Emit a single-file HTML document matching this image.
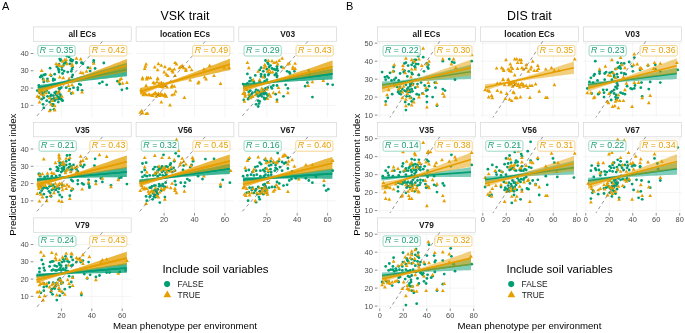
<!DOCTYPE html>
<html><head><meta charset="utf-8"><style>
html,body{margin:0;padding:0;background:#fff;overflow:hidden;}
svg{display:block;filter:blur(0.3px);}
text{font-family:"Liberation Sans", sans-serif;}
</style></head><body>
<svg width="685" height="333" viewBox="0 0 685 333" font-family='"Liberation Sans", sans-serif'><rect x="0" y="0" width="685" height="333" fill="#fff"/><text x="1.90" y="9.60" font-size="11" fill="#000" text-anchor="start" font-weight="normal" font-style="normal" >A</text><text x="185.00" y="19.60" font-size="12.4" fill="#000" text-anchor="middle" font-weight="normal" font-style="normal" >VSK trait</text><text x="185.00" y="329.00" font-size="9.65" fill="#000" text-anchor="middle" font-weight="normal" font-style="normal" >Mean phenotype per environment</text><text x="16.30" y="174.70" font-size="9.65" fill="#000" text-anchor="middle" font-weight="normal" font-style="normal" transform="rotate(-90 16.30 174.70)">Predicted environment index</text><rect x="33.40" y="26.90" width="97.80" height="14.40" fill="#fff" stroke="#D6D6D6" stroke-width="0.7"/><text transform="translate(82.30 37.10)" font-size="8.3" fill="#1A1A1A" text-anchor="middle" font-weight="bold">all ECs</text><clipPath id="cA00"><rect x="33.30" y="41.30" width="98.00" height="76.20"/></clipPath><line x1="61.40" y1="41.30" x2="61.40" y2="117.50" stroke="#EBEBEB" stroke-width="0.55"/><line x1="91.80" y1="41.30" x2="91.80" y2="117.50" stroke="#EBEBEB" stroke-width="0.55"/><line x1="122.20" y1="41.30" x2="122.20" y2="117.50" stroke="#EBEBEB" stroke-width="0.55"/><line x1="33.30" y1="105.35" x2="131.30" y2="105.35" stroke="#EBEBEB" stroke-width="0.55"/><line x1="33.30" y1="88.07" x2="131.30" y2="88.07" stroke="#EBEBEB" stroke-width="0.55"/><line x1="33.30" y1="70.79" x2="131.30" y2="70.79" stroke="#EBEBEB" stroke-width="0.55"/><line x1="33.30" y1="53.51" x2="131.30" y2="53.51" stroke="#EBEBEB" stroke-width="0.55"/><line x1="30.70" y1="105.35" x2="33.30" y2="105.35" stroke="#333" stroke-width="0.55"/><text x="28.80" y="107.95" font-size="7.5" fill="#4D4D4D" text-anchor="end" font-weight="normal" font-style="normal" >10</text><line x1="30.70" y1="88.07" x2="33.30" y2="88.07" stroke="#333" stroke-width="0.55"/><text x="28.80" y="90.67" font-size="7.5" fill="#4D4D4D" text-anchor="end" font-weight="normal" font-style="normal" >20</text><line x1="30.70" y1="70.79" x2="33.30" y2="70.79" stroke="#333" stroke-width="0.55"/><text x="28.80" y="73.39" font-size="7.5" fill="#4D4D4D" text-anchor="end" font-weight="normal" font-style="normal" >30</text><line x1="30.70" y1="53.51" x2="33.30" y2="53.51" stroke="#333" stroke-width="0.55"/><text x="28.80" y="56.11" font-size="7.5" fill="#4D4D4D" text-anchor="end" font-weight="normal" font-style="normal" >40</text><g clip-path="url(#cA00)"><circle cx="67.0" cy="56.2" r="1.4" fill="#009E73"/><circle cx="69.1" cy="56.9" r="1.4" fill="#009E73"/><circle cx="59.7" cy="59.1" r="1.4" fill="#009E73"/><circle cx="60.5" cy="60.5" r="1.4" fill="#009E73"/><circle cx="65.5" cy="62.4" r="1.4" fill="#009E73"/><circle cx="64.1" cy="63.4" r="1.4" fill="#009E73"/><circle cx="59.0" cy="64.1" r="1.4" fill="#009E73"/><circle cx="70.6" cy="60.5" r="1.4" fill="#009E73"/><circle cx="72.0" cy="61.2" r="1.4" fill="#009E73"/><circle cx="76.4" cy="62.4" r="1.4" fill="#009E73"/><circle cx="82.1" cy="63.0" r="1.4" fill="#009E73"/><circle cx="82.9" cy="63.8" r="1.4" fill="#009E73"/><circle cx="93.7" cy="60.5" r="1.4" fill="#009E73"/><circle cx="93.7" cy="62.4" r="1.4" fill="#009E73"/><circle cx="103.8" cy="63.0" r="1.4" fill="#009E73"/><circle cx="50.1" cy="68.2" r="1.4" fill="#009E73"/><circle cx="58.3" cy="68.7" r="1.4" fill="#009E73"/><circle cx="61.9" cy="69.6" r="1.4" fill="#009E73"/><circle cx="72.0" cy="69.2" r="1.4" fill="#009E73"/><circle cx="72.7" cy="67.0" r="1.4" fill="#009E73"/><circle cx="71.3" cy="71.3" r="1.4" fill="#009E73"/><circle cx="67.7" cy="72.1" r="1.4" fill="#009E73"/><circle cx="62.6" cy="73.5" r="1.4" fill="#009E73"/><circle cx="59.0" cy="72.1" r="1.4" fill="#009E73"/><circle cx="54.7" cy="74.2" r="1.4" fill="#009E73"/><circle cx="51.1" cy="75.7" r="1.4" fill="#009E73"/><circle cx="43.8" cy="75.0" r="1.4" fill="#009E73"/><circle cx="41.7" cy="76.4" r="1.4" fill="#009E73"/><circle cx="40.2" cy="77.1" r="1.4" fill="#009E73"/><circle cx="87.9" cy="67.7" r="1.4" fill="#009E73"/><circle cx="95.1" cy="68.5" r="1.4" fill="#009E73"/><circle cx="90.1" cy="71.1" r="1.4" fill="#009E73"/><circle cx="72.7" cy="75.0" r="1.4" fill="#009E73"/><circle cx="72.0" cy="77.1" r="1.4" fill="#009E73"/><circle cx="53.2" cy="78.9" r="1.4" fill="#009E73"/><circle cx="47.5" cy="78.9" r="1.4" fill="#009E73"/><circle cx="43.1" cy="78.9" r="1.4" fill="#009E73"/><circle cx="43.8" cy="81.9" r="1.4" fill="#009E73"/><circle cx="47.5" cy="81.2" r="1.4" fill="#009E73"/><circle cx="53.2" cy="80.4" r="1.4" fill="#009E73"/><circle cx="54.7" cy="79.7" r="1.4" fill="#009E73"/><circle cx="38.8" cy="85.5" r="1.4" fill="#009E73"/><circle cx="37.3" cy="90.6" r="1.4" fill="#009E73"/><circle cx="39.5" cy="92.7" r="1.4" fill="#009E73"/><circle cx="44.6" cy="92.0" r="1.4" fill="#009E73"/><circle cx="43.1" cy="95.6" r="1.4" fill="#009E73"/><circle cx="43.8" cy="97.8" r="1.4" fill="#009E73"/><circle cx="46.7" cy="100.7" r="1.4" fill="#009E73"/><circle cx="43.1" cy="104.3" r="1.4" fill="#009E73"/><circle cx="43.8" cy="107.9" r="1.4" fill="#009E73"/><circle cx="50.3" cy="96.3" r="1.4" fill="#009E73"/><circle cx="53.2" cy="95.6" r="1.4" fill="#009E73"/><circle cx="55.4" cy="93.5" r="1.4" fill="#009E73"/><circle cx="56.1" cy="92.0" r="1.4" fill="#009E73"/><circle cx="59.0" cy="93.5" r="1.4" fill="#009E73"/><circle cx="60.5" cy="94.9" r="1.4" fill="#009E73"/><circle cx="58.3" cy="97.1" r="1.4" fill="#009E73"/><circle cx="54.0" cy="98.5" r="1.4" fill="#009E73"/><circle cx="51.8" cy="99.2" r="1.4" fill="#009E73"/><circle cx="56.1" cy="99.2" r="1.4" fill="#009E73"/><circle cx="59.7" cy="98.5" r="1.4" fill="#009E73"/><circle cx="61.2" cy="99.2" r="1.4" fill="#009E73"/><circle cx="62.6" cy="100.7" r="1.4" fill="#009E73"/><circle cx="58.3" cy="102.1" r="1.4" fill="#009E73"/><circle cx="53.2" cy="104.3" r="1.4" fill="#009E73"/><circle cx="52.5" cy="105.7" r="1.4" fill="#009E73"/><circle cx="50.3" cy="110.1" r="1.4" fill="#009E73"/><circle cx="54.0" cy="109.3" r="1.4" fill="#009E73"/><circle cx="59.0" cy="88.4" r="1.4" fill="#009E73"/><circle cx="59.7" cy="89.1" r="1.4" fill="#009E73"/><circle cx="61.2" cy="87.7" r="1.4" fill="#009E73"/><circle cx="66.2" cy="87.7" r="1.4" fill="#009E73"/><circle cx="69.8" cy="89.1" r="1.4" fill="#009E73"/><circle cx="73.5" cy="87.7" r="1.4" fill="#009E73"/><circle cx="77.8" cy="87.7" r="1.4" fill="#009E73"/><circle cx="77.8" cy="89.8" r="1.4" fill="#009E73"/><circle cx="82.1" cy="90.3" r="1.4" fill="#009E73"/><circle cx="71.3" cy="93.5" r="1.4" fill="#009E73"/><circle cx="79.2" cy="84.1" r="1.4" fill="#009E73"/><circle cx="80.7" cy="84.8" r="1.4" fill="#009E73"/><circle cx="99.5" cy="83.3" r="1.4" fill="#009E73"/><circle cx="102.4" cy="81.9" r="1.4" fill="#009E73"/><circle cx="106.7" cy="84.8" r="1.4" fill="#009E73"/><circle cx="117.5" cy="81.2" r="1.4" fill="#009E73"/><circle cx="119.7" cy="84.1" r="1.4" fill="#009E73"/><circle cx="121.9" cy="89.8" r="1.4" fill="#009E73"/><circle cx="126.9" cy="88.4" r="1.4" fill="#009E73"/><circle cx="38.8" cy="97.1" r="1.4" fill="#009E73"/><circle cx="60.5" cy="59.5" r="1.4" fill="#009E73"/><circle cx="65.9" cy="63.0" r="1.4" fill="#009E73"/><circle cx="63.3" cy="65.6" r="1.4" fill="#009E73"/><circle cx="61.9" cy="67.0" r="1.4" fill="#009E73"/><circle cx="58.7" cy="69.9" r="1.4" fill="#009E73"/><circle cx="70.9" cy="59.5" r="1.4" fill="#009E73"/><circle cx="72.7" cy="60.1" r="1.4" fill="#009E73"/><circle cx="81.4" cy="62.7" r="1.4" fill="#009E73"/><circle cx="69.8" cy="63.8" r="1.4" fill="#009E73"/><circle cx="76.4" cy="63.0" r="1.4" fill="#009E73"/><circle cx="41.4" cy="75.7" r="1.4" fill="#009E73"/><circle cx="45.3" cy="74.5" r="1.4" fill="#009E73"/><circle cx="56.8" cy="66.7" r="1.4" fill="#009E73"/><circle cx="64.1" cy="71.1" r="1.4" fill="#009E73"/><circle cx="41.7" cy="91.3" r="1.4" fill="#009E73"/><circle cx="46.7" cy="90.6" r="1.4" fill="#009E73"/><circle cx="42.4" cy="93.5" r="1.4" fill="#009E73"/><circle cx="48.9" cy="92.7" r="1.4" fill="#009E73"/><circle cx="47.5" cy="96.3" r="1.4" fill="#009E73"/><circle cx="51.1" cy="94.9" r="1.4" fill="#009E73"/><circle cx="54.7" cy="92.7" r="1.4" fill="#009E73"/><circle cx="56.8" cy="95.6" r="1.4" fill="#009E73"/><circle cx="60.5" cy="97.1" r="1.4" fill="#009E73"/><circle cx="61.9" cy="100.0" r="1.4" fill="#009E73"/><circle cx="58.3" cy="99.2" r="1.4" fill="#009E73"/><circle cx="54.7" cy="100.7" r="1.4" fill="#009E73"/><circle cx="49.6" cy="102.1" r="1.4" fill="#009E73"/><circle cx="51.8" cy="104.3" r="1.4" fill="#009E73"/><circle cx="41.7" cy="99.2" r="1.4" fill="#009E73"/><path d="M56.1 61.8L58.0 65.3L54.2 65.3Z" fill="#E69F00"/><path d="M59.7 63.6L61.6 67.0L57.8 67.0Z" fill="#E69F00"/><path d="M62.6 63.9L64.5 67.3L60.7 67.3Z" fill="#E69F00"/><path d="M66.2 57.8L68.1 61.2L64.3 61.2Z" fill="#E69F00"/><path d="M76.4 56.3L78.3 59.8L74.5 59.8Z" fill="#E69F00"/><path d="M80.7 57.1L82.6 60.5L78.8 60.5Z" fill="#E69F00"/><path d="M93.7 61.4L95.6 64.8L91.8 64.8Z" fill="#E69F00"/><path d="M41.7 68.6L43.6 72.1L39.8 72.1Z" fill="#E69F00"/><path d="M50.3 72.5L52.2 76.0L48.4 76.0Z" fill="#E69F00"/><path d="M59.7 75.1L61.6 78.6L57.8 78.6Z" fill="#E69F00"/><path d="M63.3 75.8L65.2 79.3L61.4 79.3Z" fill="#E69F00"/><path d="M69.1 76.6L71.0 80.0L67.2 80.0Z" fill="#E69F00"/><path d="M80.7 70.5L82.6 73.9L78.8 73.9Z" fill="#E69F00"/><path d="M82.9 71.1L84.8 74.5L81.0 74.5Z" fill="#E69F00"/><path d="M86.5 69.3L88.4 72.8L84.6 72.8Z" fill="#E69F00"/><path d="M90.1 65.7L92.0 69.2L88.2 69.2Z" fill="#E69F00"/><path d="M72.0 63.6L73.9 67.0L70.1 67.0Z" fill="#E69F00"/><path d="M62.6 59.2L64.5 62.7L60.7 62.7Z" fill="#E69F00"/><path d="M121.2 76.6L123.1 80.0L119.3 80.0Z" fill="#E69F00"/><path d="M43.8 77.7L45.7 81.2L41.9 81.2Z" fill="#E69F00"/><path d="M48.2 78.4L50.1 81.9L46.3 81.9Z" fill="#E69F00"/><path d="M68.4 83.5L70.3 86.9L66.5 86.9Z" fill="#E69F00"/><path d="M72.0 82.8L73.9 86.2L70.1 86.2Z" fill="#E69F00"/><path d="M37.3 94.3L39.2 97.8L35.4 97.8Z" fill="#E69F00"/><path d="M39.5 95.8L41.4 99.2L37.6 99.2Z" fill="#E69F00"/><path d="M39.5 100.1L41.4 103.6L37.6 103.6Z" fill="#E69F00"/><path d="M46.0 90.7L47.9 94.2L44.1 94.2Z" fill="#E69F00"/><path d="M49.6 95.8L51.5 99.2L47.7 99.2Z" fill="#E69F00"/><path d="M51.1 102.3L53.0 105.7L49.2 105.7Z" fill="#E69F00"/><path d="M54.7 103.7L56.6 107.2L52.8 107.2Z" fill="#E69F00"/><path d="M57.6 90.7L59.5 94.2L55.7 94.2Z" fill="#E69F00"/><path d="M59.0 89.3L60.9 92.7L57.1 92.7Z" fill="#E69F00"/><path d="M49.6 108.8L51.5 112.2L47.7 112.2Z" fill="#E69F00"/><path d="M54.7 108.1L56.6 111.5L52.8 111.5Z" fill="#E69F00"/><path d="M72.7 90.7L74.6 94.2L70.8 94.2Z" fill="#E69F00"/><path d="M82.1 90.0L84.0 93.4L80.2 93.4Z" fill="#E69F00"/><path d="M119.7 77.7L121.6 81.2L117.8 81.2Z" fill="#E69F00"/><path d="M126.9 80.6L128.8 84.1L125.0 84.1Z" fill="#E69F00"/><path d="M119.0 79.9L120.9 83.3L117.1 83.3Z" fill="#E69F00"/><path d="M122.6 81.3L124.5 84.8L120.7 84.8Z" fill="#E69F00"/><path d="M69.1 88.6L71.0 92.0L67.2 92.0Z" fill="#E69F00"/><path d="M58.3 62.8L60.2 66.3L56.4 66.3Z" fill="#E69F00"/><path d="M64.8 57.8L66.7 61.2L62.9 61.2Z" fill="#E69F00"/><path d="M72.0 62.1L73.9 65.6L70.1 65.6Z" fill="#E69F00"/><path d="M67.0 61.8L68.9 65.3L65.1 65.3Z" fill="#E69F00"/><path d="M40.9 92.2L42.8 95.6L39.0 95.6Z" fill="#E69F00"/><path d="M43.8 92.9L45.7 96.3L41.9 96.3Z" fill="#E69F00"/><path d="M52.5 98.7L54.4 102.1L50.6 102.1Z" fill="#E69F00"/><path d="M56.1 95.8L58.0 99.2L54.2 99.2Z" fill="#E69F00"/><path d="M61.9 94.3L63.8 97.8L60.0 97.8Z" fill="#E69F00"/><line x1="15.80" y1="139.91" x2="213.40" y2="-84.73" stroke="#595959" stroke-width="0.65" stroke-dasharray="3.3 3.1"/><path d="M37.90 85.20L41.61 84.71L45.32 84.19L49.02 83.65L52.73 83.07L56.44 82.43L60.15 81.72L63.86 80.94L67.57 80.07L71.28 79.13L74.98 78.14L78.69 77.11L82.40 76.05L86.11 74.98L89.82 73.90L93.53 72.81L97.23 71.71L100.94 70.61L104.65 69.50L108.36 68.39L112.07 67.27L115.77 66.16L119.48 65.04L123.19 63.92L126.90 62.80L126.90 76.20L123.19 76.60L119.48 77.01L115.77 77.42L112.07 77.83L108.36 78.24L104.65 78.65L100.94 79.07L97.23 79.49L93.53 79.92L89.82 80.35L86.11 80.79L82.40 81.25L78.69 81.72L74.98 82.21L71.28 82.75L67.57 83.33L63.86 83.99L60.15 84.73L56.44 85.55L52.73 86.43L49.02 87.37L45.32 88.36L41.61 89.37L37.90 90.40Z" fill="#009E73" fill-opacity="0.5"/><line x1="37.90" y1="87.80" x2="126.90" y2="69.50" stroke="#009E73" stroke-width="1.6"/><path d="M37.90 88.10L41.61 87.43L45.32 86.74L49.02 86.02L52.73 85.26L56.44 84.43L60.15 83.47L63.86 82.38L67.57 81.19L71.28 79.93L74.98 78.62L78.69 77.27L82.40 75.91L86.11 74.54L89.82 73.15L93.53 71.76L97.23 70.36L100.94 68.96L104.65 67.56L108.36 66.15L112.07 64.74L115.77 63.33L119.48 61.92L123.19 60.51L126.90 59.10L126.90 71.70L123.19 72.43L119.48 73.16L115.77 73.89L112.07 74.62L108.36 75.36L104.65 76.09L100.94 76.83L97.23 77.57L93.53 78.32L89.82 79.07L86.11 79.82L82.40 80.59L78.69 81.37L74.98 82.17L71.28 83.00L67.57 83.88L63.86 84.83L60.15 85.88L56.44 87.06L52.73 88.37L49.02 89.75L45.32 91.18L41.61 92.63L37.90 94.10Z" fill="#E69F00" fill-opacity="0.5"/><line x1="37.90" y1="91.10" x2="126.90" y2="65.40" stroke="#E69F00" stroke-width="1.6"/><path d="M37.90 85.20L41.61 84.71L45.32 84.19L49.02 83.65L52.73 83.07L56.44 82.43L60.15 81.72L63.86 80.94L67.57 80.07L71.28 79.13L74.98 78.14L78.69 77.11L82.40 76.05L86.11 74.98L89.82 73.90L93.53 72.81L97.23 71.71L100.94 70.61L104.65 69.50L108.36 68.39L112.07 67.27L115.77 66.16L119.48 65.04L123.19 63.92L126.90 62.80L126.90 76.20L123.19 76.60L119.48 77.01L115.77 77.42L112.07 77.83L108.36 78.24L104.65 78.65L100.94 79.07L97.23 79.49L93.53 79.92L89.82 80.35L86.11 80.79L82.40 81.25L78.69 81.72L74.98 82.21L71.28 82.75L67.57 83.33L63.86 83.99L60.15 84.73L56.44 85.55L52.73 86.43L49.02 87.37L45.32 88.36L41.61 89.37L37.90 90.40Z" fill="#009E73" fill-opacity="0.5"/><line x1="37.90" y1="87.80" x2="126.90" y2="69.50" stroke="#009E73" stroke-width="1.6"/><path d="M37.90 88.10L41.61 87.43L45.32 86.74L49.02 86.02L52.73 85.26L56.44 84.43L60.15 83.47L63.86 82.38L67.57 81.19L71.28 79.93L74.98 78.62L78.69 77.27L82.40 75.91L86.11 74.54L89.82 73.15L93.53 71.76L97.23 70.36L100.94 68.96L104.65 67.56L108.36 66.15L112.07 64.74L115.77 63.33L119.48 61.92L123.19 60.51L126.90 59.10L126.90 71.70L123.19 72.43L119.48 73.16L115.77 73.89L112.07 74.62L108.36 75.36L104.65 76.09L100.94 76.83L97.23 77.57L93.53 78.32L89.82 79.07L86.11 79.82L82.40 80.59L78.69 81.37L74.98 82.17L71.28 83.00L67.57 83.88L63.86 84.83L60.15 85.88L56.44 87.06L52.73 88.37L49.02 89.75L45.32 91.18L41.61 92.63L37.90 94.10Z" fill="#E69F00" fill-opacity="0.5"/><line x1="37.90" y1="91.10" x2="126.90" y2="65.40" stroke="#E69F00" stroke-width="1.6"/></g><rect x="37.85" y="45.50" width="37.2" height="10.5" rx="1.8" fill="#fff" fill-opacity="0.8" stroke="#7CCBB2" stroke-width="0.75"/><text x="39.85" y="52.60" font-size="8.8" fill="#1B9E77" ><tspan font-style="italic">R</tspan> = 0.35</text><rect x="89.65" y="45.50" width="37.2" height="10.5" rx="1.8" fill="#fff" fill-opacity="0.8" stroke="#F0C870" stroke-width="0.75"/><text x="91.65" y="52.60" font-size="8.8" fill="#E69F00" ><tspan font-style="italic">R</tspan> = 0.42</text><rect x="136.10" y="26.90" width="97.80" height="14.40" fill="#fff" stroke="#D6D6D6" stroke-width="0.7"/><text transform="translate(185.00 37.10)" font-size="8.3" fill="#1A1A1A" text-anchor="middle" font-weight="bold">location ECs</text><clipPath id="cA10"><rect x="136.00" y="41.30" width="98.00" height="76.20"/></clipPath><line x1="164.10" y1="41.30" x2="164.10" y2="117.50" stroke="#EBEBEB" stroke-width="0.55"/><line x1="194.50" y1="41.30" x2="194.50" y2="117.50" stroke="#EBEBEB" stroke-width="0.55"/><line x1="224.90" y1="41.30" x2="224.90" y2="117.50" stroke="#EBEBEB" stroke-width="0.55"/><line x1="136.00" y1="105.35" x2="234.00" y2="105.35" stroke="#EBEBEB" stroke-width="0.55"/><line x1="136.00" y1="88.07" x2="234.00" y2="88.07" stroke="#EBEBEB" stroke-width="0.55"/><line x1="136.00" y1="70.79" x2="234.00" y2="70.79" stroke="#EBEBEB" stroke-width="0.55"/><line x1="136.00" y1="53.51" x2="234.00" y2="53.51" stroke="#EBEBEB" stroke-width="0.55"/><g clip-path="url(#cA10)"><path d="M146.1 62.1L148.0 65.6L144.2 65.6Z" fill="#E69F00"/><path d="M145.4 64.3L147.3 67.7L143.5 67.7Z" fill="#E69F00"/><path d="M144.7 66.5L146.6 69.9L142.8 69.9Z" fill="#E69F00"/><path d="M154.8 65.0L156.7 68.5L152.9 68.5Z" fill="#E69F00"/><path d="M158.4 61.8L160.3 65.3L156.5 65.3Z" fill="#E69F00"/><path d="M161.3 63.3L163.2 66.7L159.4 66.7Z" fill="#E69F00"/><path d="M164.9 64.7L166.8 68.2L163.0 68.2Z" fill="#E69F00"/><path d="M157.7 67.9L159.6 71.3L155.8 71.3Z" fill="#E69F00"/><path d="M164.2 70.1L166.1 73.5L162.3 73.5Z" fill="#E69F00"/><path d="M166.3 72.2L168.2 75.7L164.4 75.7Z" fill="#E69F00"/><path d="M167.8 73.7L169.7 77.1L165.9 77.1Z" fill="#E69F00"/><path d="M168.5 67.2L170.4 70.6L166.6 70.6Z" fill="#E69F00"/><path d="M170.0 66.5L171.9 69.9L168.1 69.9Z" fill="#E69F00"/><path d="M172.1 68.6L174.0 72.1L170.2 72.1Z" fill="#E69F00"/><path d="M172.8 70.1L174.7 73.5L170.9 73.5Z" fill="#E69F00"/><path d="M174.3 67.2L176.2 70.6L172.4 70.6Z" fill="#E69F00"/><path d="M175.0 60.7L176.9 64.1L173.1 64.1Z" fill="#E69F00"/><path d="M176.5 62.1L178.4 65.6L174.6 65.6Z" fill="#E69F00"/><path d="M175.0 73.7L176.9 77.1L173.1 77.1Z" fill="#E69F00"/><path d="M179.4 65.7L181.3 69.2L177.5 69.2Z" fill="#E69F00"/><path d="M180.8 64.7L182.7 68.2L178.9 68.2Z" fill="#E69F00"/><path d="M182.2 63.6L184.1 67.0L180.3 67.0Z" fill="#E69F00"/><path d="M183.7 65.7L185.6 69.2L181.8 69.2Z" fill="#E69F00"/><path d="M185.9 67.2L187.8 70.6L184.0 70.6Z" fill="#E69F00"/><path d="M185.9 68.6L187.8 72.1L184.0 72.1Z" fill="#E69F00"/><path d="M189.5 64.7L191.4 68.2L187.6 68.2Z" fill="#E69F00"/><path d="M191.6 67.9L193.5 71.3L189.7 71.3Z" fill="#E69F00"/><path d="M142.5 75.8L144.4 79.3L140.6 79.3Z" fill="#E69F00"/><path d="M146.8 75.4L148.7 78.9L144.9 78.9Z" fill="#E69F00"/><path d="M148.3 75.8L150.2 79.3L146.4 79.3Z" fill="#E69F00"/><path d="M150.5 75.8L152.4 79.3L148.6 79.3Z" fill="#E69F00"/><path d="M157.7 76.3L159.6 79.7L155.8 79.7Z" fill="#E69F00"/><path d="M209.7 63.6L211.6 67.0L207.8 67.0Z" fill="#E69F00"/><path d="M214.0 73.7L215.9 77.1L212.1 77.1Z" fill="#E69F00"/><path d="M203.9 67.2L205.8 70.6L202.0 70.6Z" fill="#E69F00"/><path d="M229.2 65.7L231.1 69.2L227.3 69.2Z" fill="#E69F00"/><path d="M224.2 65.7L226.1 69.2L222.3 69.2Z" fill="#E69F00"/><path d="M204.6 75.1L206.5 78.6L202.7 78.6Z" fill="#E69F00"/><path d="M142.5 77.0L144.4 80.4L140.6 80.4Z" fill="#E69F00"/><path d="M146.8 77.0L148.7 80.4L144.9 80.4Z" fill="#E69F00"/><path d="M157.7 77.0L159.6 80.4L155.8 80.4Z" fill="#E69F00"/><path d="M153.3 80.6L155.2 84.1L151.4 84.1Z" fill="#E69F00"/><path d="M154.8 81.3L156.7 84.8L152.9 84.8Z" fill="#E69F00"/><path d="M157.0 79.9L158.9 83.3L155.1 83.3Z" fill="#E69F00"/><path d="M159.1 81.3L161.0 84.8L157.2 84.8Z" fill="#E69F00"/><path d="M161.3 80.6L163.2 84.1L159.4 84.1Z" fill="#E69F00"/><path d="M162.7 82.1L164.6 85.5L160.8 85.5Z" fill="#E69F00"/><path d="M164.9 83.5L166.8 86.9L163.0 86.9Z" fill="#E69F00"/><path d="M167.1 84.9L169.0 88.4L165.2 88.4Z" fill="#E69F00"/><path d="M146.1 83.5L148.0 86.9L144.2 86.9Z" fill="#E69F00"/><path d="M141.1 87.8L143.0 91.3L139.2 91.3Z" fill="#E69F00"/><path d="M141.8 90.0L143.7 93.4L139.9 93.4Z" fill="#E69F00"/><path d="M143.9 91.5L145.8 94.9L142.0 94.9Z" fill="#E69F00"/><path d="M145.4 92.2L147.3 95.6L143.5 95.6Z" fill="#E69F00"/><path d="M146.8 92.9L148.7 96.3L144.9 96.3Z" fill="#E69F00"/><path d="M149.7 92.9L151.6 96.3L147.8 96.3Z" fill="#E69F00"/><path d="M153.3 92.2L155.2 95.6L151.4 95.6Z" fill="#E69F00"/><path d="M155.5 90.7L157.4 94.2L153.6 94.2Z" fill="#E69F00"/><path d="M157.0 92.2L158.9 95.6L155.1 95.6Z" fill="#E69F00"/><path d="M159.1 92.9L161.0 96.3L157.2 96.3Z" fill="#E69F00"/><path d="M160.6 91.5L162.5 94.9L158.7 94.9Z" fill="#E69F00"/><path d="M162.0 92.6L163.9 96.0L160.1 96.0Z" fill="#E69F00"/><path d="M164.2 93.6L166.1 97.1L162.3 97.1Z" fill="#E69F00"/><path d="M165.6 94.1L167.5 97.5L163.7 97.5Z" fill="#E69F00"/><path d="M156.2 94.3L158.1 97.8L154.3 97.8Z" fill="#E69F00"/><path d="M172.1 92.9L174.0 96.3L170.2 96.3Z" fill="#E69F00"/><path d="M174.3 92.2L176.2 95.6L172.4 95.6Z" fill="#E69F00"/><path d="M175.7 89.3L177.6 92.7L173.8 92.7Z" fill="#E69F00"/><path d="M172.1 83.5L174.0 86.9L170.2 86.9Z" fill="#E69F00"/><path d="M174.3 84.2L176.2 87.7L172.4 87.7Z" fill="#E69F00"/><path d="M171.4 84.9L173.3 88.4L169.5 88.4Z" fill="#E69F00"/><path d="M161.3 100.1L163.2 103.6L159.4 103.6Z" fill="#E69F00"/><path d="M170.0 103.0L171.9 106.5L168.1 106.5Z" fill="#E69F00"/><path d="M184.4 95.5L186.3 98.9L182.5 98.9Z" fill="#E69F00"/><path d="M190.2 78.2L192.1 81.6L188.3 81.6Z" fill="#E69F00"/><path d="M198.1 81.0L200.0 84.5L196.2 84.5Z" fill="#E69F00"/><path d="M198.9 79.9L200.8 83.3L197.0 83.3Z" fill="#E69F00"/><path d="M206.1 77.0L208.0 80.4L204.2 80.4Z" fill="#E69F00"/><path d="M220.5 81.6L222.4 85.1L218.6 85.1Z" fill="#E69F00"/><path d="M141.8 108.8L143.7 112.2L139.9 112.2Z" fill="#E69F00"/><path d="M140.3 110.2L142.2 113.7L138.4 113.7Z" fill="#E69F00"/><path d="M142.5 111.0L144.4 114.4L140.6 114.4Z" fill="#E69F00"/><path d="M146.1 111.7L148.0 115.1L144.2 115.1Z" fill="#E69F00"/><path d="M147.6 111.4L149.5 114.8L145.7 114.8Z" fill="#E69F00"/><path d="M161.2 82.4L163.1 85.8L159.3 85.8Z" fill="#E69F00"/><path d="M162.6 83.8L164.5 87.2L160.7 87.2Z" fill="#E69F00"/><path d="M163.0 85.1L164.9 88.5L161.1 88.5Z" fill="#E69F00"/><path d="M160.8 84.7L162.7 88.1L158.9 88.1Z" fill="#E69F00"/><path d="M163.5 81.5L165.4 84.9L161.6 84.9Z" fill="#E69F00"/><path d="M158.5 84.2L160.4 87.6L156.6 87.6Z" fill="#E69F00"/><path d="M143.2 92.9L145.1 96.3L141.3 96.3Z" fill="#E69F00"/><path d="M144.7 91.5L146.6 94.9L142.8 94.9Z" fill="#E69F00"/><path d="M149.0 92.2L150.9 95.6L147.1 95.6Z" fill="#E69F00"/><path d="M151.2 93.2L153.1 96.6L149.3 96.6Z" fill="#E69F00"/><path d="M154.8 91.5L156.7 94.9L152.9 94.9Z" fill="#E69F00"/><path d="M158.4 91.5L160.3 94.9L156.5 94.9Z" fill="#E69F00"/><path d="M159.8 93.6L161.7 97.1L157.9 97.1Z" fill="#E69F00"/><path d="M162.7 93.2L164.6 96.6L160.8 96.6Z" fill="#E69F00"/><path d="M164.9 92.2L166.8 95.6L163.0 95.6Z" fill="#E69F00"/><path d="M166.3 94.3L168.2 97.8L164.4 97.8Z" fill="#E69F00"/><path d="M152.6 93.6L154.5 97.1L150.7 97.1Z" fill="#E69F00"/><line x1="118.50" y1="139.91" x2="316.10" y2="-84.73" stroke="#595959" stroke-width="0.65" stroke-dasharray="3.3 3.1"/><path d="M140.30 87.90L144.04 87.28L147.78 86.65L151.51 85.98L155.25 85.25L158.99 84.42L162.72 83.40L166.46 82.23L170.20 81.00L173.94 79.71L177.68 78.39L181.41 77.04L185.15 75.67L188.89 74.28L192.62 72.89L196.36 71.48L200.10 70.07L203.84 68.66L207.57 67.24L211.31 65.82L215.05 64.40L218.79 62.98L222.53 61.55L226.26 60.13L230.00 58.70L230.00 69.90L226.26 70.74L222.53 71.58L218.79 72.42L215.05 73.26L211.31 74.11L207.57 74.96L203.84 75.81L200.10 76.66L196.36 77.52L192.62 78.38L188.89 79.25L185.15 80.13L181.41 81.03L177.68 81.94L173.94 82.89L170.20 83.87L166.46 84.90L162.72 86.00L158.99 87.25L155.25 88.68L151.51 90.22L147.78 91.82L144.04 93.45L140.30 95.10Z" fill="#E69F00" fill-opacity="0.5"/><line x1="140.30" y1="91.50" x2="230.00" y2="64.30" stroke="#E69F00" stroke-width="1.6"/><path d="M140.30 87.90L144.04 87.28L147.78 86.65L151.51 85.98L155.25 85.25L158.99 84.42L162.72 83.40L166.46 82.23L170.20 81.00L173.94 79.71L177.68 78.39L181.41 77.04L185.15 75.67L188.89 74.28L192.62 72.89L196.36 71.48L200.10 70.07L203.84 68.66L207.57 67.24L211.31 65.82L215.05 64.40L218.79 62.98L222.53 61.55L226.26 60.13L230.00 58.70L230.00 69.90L226.26 70.74L222.53 71.58L218.79 72.42L215.05 73.26L211.31 74.11L207.57 74.96L203.84 75.81L200.10 76.66L196.36 77.52L192.62 78.38L188.89 79.25L185.15 80.13L181.41 81.03L177.68 81.94L173.94 82.89L170.20 83.87L166.46 84.90L162.72 86.00L158.99 87.25L155.25 88.68L151.51 90.22L147.78 91.82L144.04 93.45L140.30 95.10Z" fill="#E69F00" fill-opacity="0.5"/><line x1="140.30" y1="91.50" x2="230.00" y2="64.30" stroke="#E69F00" stroke-width="1.6"/></g><rect x="192.65" y="45.50" width="37.2" height="10.5" rx="1.8" fill="#fff" fill-opacity="0.8" stroke="#F0C870" stroke-width="0.75"/><text x="194.65" y="52.60" font-size="8.8" fill="#E69F00" ><tspan font-style="italic">R</tspan> = 0.49</text><rect x="238.80" y="26.90" width="97.80" height="14.40" fill="#fff" stroke="#D6D6D6" stroke-width="0.7"/><text transform="translate(287.70 37.10)" font-size="8.3" fill="#1A1A1A" text-anchor="middle" font-weight="bold">V03</text><clipPath id="cA20"><rect x="238.70" y="41.30" width="98.00" height="76.20"/></clipPath><line x1="266.80" y1="41.30" x2="266.80" y2="117.50" stroke="#EBEBEB" stroke-width="0.55"/><line x1="297.20" y1="41.30" x2="297.20" y2="117.50" stroke="#EBEBEB" stroke-width="0.55"/><line x1="327.60" y1="41.30" x2="327.60" y2="117.50" stroke="#EBEBEB" stroke-width="0.55"/><line x1="238.70" y1="105.35" x2="336.70" y2="105.35" stroke="#EBEBEB" stroke-width="0.55"/><line x1="238.70" y1="88.07" x2="336.70" y2="88.07" stroke="#EBEBEB" stroke-width="0.55"/><line x1="238.70" y1="70.79" x2="336.70" y2="70.79" stroke="#EBEBEB" stroke-width="0.55"/><line x1="238.70" y1="53.51" x2="336.70" y2="53.51" stroke="#EBEBEB" stroke-width="0.55"/><g clip-path="url(#cA20)"><circle cx="265.5" cy="60.5" r="1.4" fill="#009E73"/><circle cx="267.6" cy="62.7" r="1.4" fill="#009E73"/><circle cx="268.3" cy="64.1" r="1.4" fill="#009E73"/><circle cx="270.5" cy="65.6" r="1.4" fill="#009E73"/><circle cx="269.1" cy="67.0" r="1.4" fill="#009E73"/><circle cx="266.9" cy="69.2" r="1.4" fill="#009E73"/><circle cx="272.0" cy="68.5" r="1.4" fill="#009E73"/><circle cx="261.1" cy="67.7" r="1.4" fill="#009E73"/><circle cx="259.7" cy="69.9" r="1.4" fill="#009E73"/><circle cx="263.3" cy="71.3" r="1.4" fill="#009E73"/><circle cx="261.1" cy="74.2" r="1.4" fill="#009E73"/><circle cx="264.7" cy="75.0" r="1.4" fill="#009E73"/><circle cx="268.3" cy="75.0" r="1.4" fill="#009E73"/><circle cx="269.1" cy="73.5" r="1.4" fill="#009E73"/><circle cx="274.1" cy="69.2" r="1.4" fill="#009E73"/><circle cx="275.6" cy="69.9" r="1.4" fill="#009E73"/><circle cx="277.0" cy="66.3" r="1.4" fill="#009E73"/><circle cx="277.0" cy="68.5" r="1.4" fill="#009E73"/><circle cx="277.7" cy="70.6" r="1.4" fill="#009E73"/><circle cx="276.3" cy="73.5" r="1.4" fill="#009E73"/><circle cx="281.4" cy="67.0" r="1.4" fill="#009E73"/><circle cx="287.1" cy="71.3" r="1.4" fill="#009E73"/><circle cx="289.3" cy="72.1" r="1.4" fill="#009E73"/><circle cx="290.0" cy="73.5" r="1.4" fill="#009E73"/><circle cx="294.4" cy="71.3" r="1.4" fill="#009E73"/><circle cx="247.4" cy="73.9" r="1.4" fill="#009E73"/><circle cx="255.3" cy="75.4" r="1.4" fill="#009E73"/><circle cx="250.3" cy="77.8" r="1.4" fill="#009E73"/><circle cx="277.0" cy="75.7" r="1.4" fill="#009E73"/><circle cx="308.8" cy="70.6" r="1.4" fill="#009E73"/><circle cx="309.5" cy="74.2" r="1.4" fill="#009E73"/><circle cx="243.1" cy="84.1" r="1.4" fill="#009E73"/><circle cx="245.2" cy="84.8" r="1.4" fill="#009E73"/><circle cx="247.4" cy="83.3" r="1.4" fill="#009E73"/><circle cx="249.6" cy="81.2" r="1.4" fill="#009E73"/><circle cx="251.7" cy="80.4" r="1.4" fill="#009E73"/><circle cx="253.9" cy="81.9" r="1.4" fill="#009E73"/><circle cx="259.7" cy="81.2" r="1.4" fill="#009E73"/><circle cx="264.7" cy="81.2" r="1.4" fill="#009E73"/><circle cx="266.9" cy="79.7" r="1.4" fill="#009E73"/><circle cx="244.5" cy="93.5" r="1.4" fill="#009E73"/><circle cx="248.8" cy="92.0" r="1.4" fill="#009E73"/><circle cx="251.7" cy="94.2" r="1.4" fill="#009E73"/><circle cx="248.1" cy="99.2" r="1.4" fill="#009E73"/><circle cx="248.8" cy="97.8" r="1.4" fill="#009E73"/><circle cx="256.1" cy="89.8" r="1.4" fill="#009E73"/><circle cx="258.2" cy="90.6" r="1.4" fill="#009E73"/><circle cx="260.4" cy="92.0" r="1.4" fill="#009E73"/><circle cx="261.1" cy="93.5" r="1.4" fill="#009E73"/><circle cx="263.3" cy="92.7" r="1.4" fill="#009E73"/><circle cx="264.7" cy="92.0" r="1.4" fill="#009E73"/><circle cx="266.2" cy="93.5" r="1.4" fill="#009E73"/><circle cx="267.6" cy="95.6" r="1.4" fill="#009E73"/><circle cx="256.8" cy="94.2" r="1.4" fill="#009E73"/><circle cx="258.2" cy="96.3" r="1.4" fill="#009E73"/><circle cx="259.7" cy="94.9" r="1.4" fill="#009E73"/><circle cx="261.8" cy="96.3" r="1.4" fill="#009E73"/><circle cx="264.0" cy="97.8" r="1.4" fill="#009E73"/><circle cx="264.7" cy="99.2" r="1.4" fill="#009E73"/><circle cx="266.2" cy="98.5" r="1.4" fill="#009E73"/><circle cx="258.2" cy="100.7" r="1.4" fill="#009E73"/><circle cx="259.7" cy="101.4" r="1.4" fill="#009E73"/><circle cx="256.1" cy="104.3" r="1.4" fill="#009E73"/><circle cx="258.2" cy="106.5" r="1.4" fill="#009E73"/><circle cx="259.0" cy="103.6" r="1.4" fill="#009E73"/><circle cx="267.6" cy="87.7" r="1.4" fill="#009E73"/><circle cx="271.2" cy="86.9" r="1.4" fill="#009E73"/><circle cx="272.0" cy="88.4" r="1.4" fill="#009E73"/><circle cx="273.4" cy="85.5" r="1.4" fill="#009E73"/><circle cx="277.0" cy="85.5" r="1.4" fill="#009E73"/><circle cx="275.6" cy="94.2" r="1.4" fill="#009E73"/><circle cx="277.0" cy="100.0" r="1.4" fill="#009E73"/><circle cx="283.5" cy="96.3" r="1.4" fill="#009E73"/><circle cx="285.7" cy="84.8" r="1.4" fill="#009E73"/><circle cx="287.9" cy="88.4" r="1.4" fill="#009E73"/><circle cx="305.2" cy="86.2" r="1.4" fill="#009E73"/><circle cx="307.4" cy="82.6" r="1.4" fill="#009E73"/><circle cx="312.4" cy="97.1" r="1.4" fill="#009E73"/><circle cx="327.6" cy="84.1" r="1.4" fill="#009E73"/><circle cx="332.7" cy="84.8" r="1.4" fill="#009E73"/><circle cx="243.8" cy="100.0" r="1.4" fill="#009E73"/><circle cx="274.8" cy="75.0" r="1.4" fill="#009E73"/><circle cx="277.0" cy="77.1" r="1.4" fill="#009E73"/><circle cx="261.1" cy="76.4" r="1.4" fill="#009E73"/><circle cx="264.7" cy="77.1" r="1.4" fill="#009E73"/><circle cx="246.7" cy="89.8" r="1.4" fill="#009E73"/><circle cx="250.3" cy="90.6" r="1.4" fill="#009E73"/><circle cx="252.5" cy="92.7" r="1.4" fill="#009E73"/><circle cx="255.3" cy="92.0" r="1.4" fill="#009E73"/><circle cx="263.3" cy="89.8" r="1.4" fill="#009E73"/><circle cx="265.5" cy="88.4" r="1.4" fill="#009E73"/><circle cx="266.9" cy="89.1" r="1.4" fill="#009E73"/><circle cx="268.3" cy="94.9" r="1.4" fill="#009E73"/><circle cx="264.0" cy="94.2" r="1.4" fill="#009E73"/><circle cx="261.8" cy="93.5" r="1.4" fill="#009E73"/><circle cx="251.7" cy="97.1" r="1.4" fill="#009E73"/><circle cx="249.6" cy="95.6" r="1.4" fill="#009E73"/><path d="M247.4 60.7L249.3 64.1L245.5 64.1Z" fill="#E69F00"/><path d="M248.8 65.7L250.7 69.2L246.9 69.2Z" fill="#E69F00"/><path d="M268.3 58.5L270.2 61.9L266.4 61.9Z" fill="#E69F00"/><path d="M272.0 58.9L273.9 62.4L270.1 62.4Z" fill="#E69F00"/><path d="M274.1 60.7L276.0 64.1L272.2 64.1Z" fill="#E69F00"/><path d="M276.3 60.0L278.2 63.4L274.4 63.4Z" fill="#E69F00"/><path d="M279.2 58.5L281.1 61.9L277.3 61.9Z" fill="#E69F00"/><path d="M282.1 56.3L284.0 59.8L280.2 59.8Z" fill="#E69F00"/><path d="M277.7 62.1L279.6 65.6L275.8 65.6Z" fill="#E69F00"/><path d="M264.7 62.8L266.6 66.3L262.8 66.3Z" fill="#E69F00"/><path d="M265.5 64.3L267.4 67.7L263.6 67.7Z" fill="#E69F00"/><path d="M264.0 65.7L265.9 69.2L262.1 69.2Z" fill="#E69F00"/><path d="M269.1 67.9L271.0 71.3L267.2 71.3Z" fill="#E69F00"/><path d="M270.5 70.1L272.4 73.5L268.6 73.5Z" fill="#E69F00"/><path d="M272.7 70.1L274.6 73.5L270.8 73.5Z" fill="#E69F00"/><path d="M258.2 69.3L260.1 72.8L256.3 72.8Z" fill="#E69F00"/><path d="M283.5 65.7L285.4 69.2L281.6 69.2Z" fill="#E69F00"/><path d="M287.9 62.1L289.8 65.6L286.0 65.6Z" fill="#E69F00"/><path d="M289.3 61.4L291.2 64.8L287.4 64.8Z" fill="#E69F00"/><path d="M292.9 65.0L294.8 68.5L291.0 68.5Z" fill="#E69F00"/><path d="M295.1 61.4L297.0 64.8L293.2 64.8Z" fill="#E69F00"/><path d="M295.1 66.5L297.0 69.9L293.2 69.9Z" fill="#E69F00"/><path d="M292.9 66.5L294.8 69.9L291.0 69.9Z" fill="#E69F00"/><path d="M267.6 69.3L269.5 72.8L265.7 72.8Z" fill="#E69F00"/><path d="M253.2 77.7L255.1 81.2L251.3 81.2Z" fill="#E69F00"/><path d="M259.7 77.7L261.6 81.2L257.8 81.2Z" fill="#E69F00"/><path d="M244.5 90.7L246.4 94.2L242.6 94.2Z" fill="#E69F00"/><path d="M243.1 91.5L245.0 94.9L241.2 94.9Z" fill="#E69F00"/><path d="M245.2 94.3L247.1 97.8L243.3 97.8Z" fill="#E69F00"/><path d="M244.5 99.4L246.4 102.8L242.6 102.8Z" fill="#E69F00"/><path d="M252.5 94.3L254.4 97.8L250.6 97.8Z" fill="#E69F00"/><path d="M255.3 92.9L257.2 96.3L253.4 96.3Z" fill="#E69F00"/><path d="M256.8 90.0L258.7 93.4L254.9 93.4Z" fill="#E69F00"/><path d="M261.8 86.4L263.7 89.8L259.9 89.8Z" fill="#E69F00"/><path d="M266.9 87.1L268.8 90.6L265.0 90.6Z" fill="#E69F00"/><path d="M269.1 92.2L271.0 95.6L267.2 95.6Z" fill="#E69F00"/><path d="M270.5 94.3L272.4 97.8L268.6 97.8Z" fill="#E69F00"/><path d="M273.4 90.7L275.3 94.2L271.5 94.2Z" fill="#E69F00"/><path d="M278.5 85.7L280.4 89.1L276.6 89.1Z" fill="#E69F00"/><path d="M279.2 90.0L281.1 93.4L277.3 93.4Z" fill="#E69F00"/><path d="M287.9 90.7L289.8 94.2L286.0 94.2Z" fill="#E69F00"/><path d="M277.0 99.4L278.9 102.8L275.1 102.8Z" fill="#E69F00"/><path d="M308.1 83.5L310.0 86.9L306.2 86.9Z" fill="#E69F00"/><path d="M312.4 79.9L314.3 83.3L310.5 83.3Z" fill="#E69F00"/><path d="M323.3 78.4L325.2 81.9L321.4 81.9Z" fill="#E69F00"/><path d="M246.7 87.1L248.6 90.6L244.8 90.6Z" fill="#E69F00"/><path d="M263.3 75.1L265.2 78.6L261.4 78.6Z" fill="#E69F00"/><path d="M245.2 92.9L247.1 96.3L243.3 96.3Z" fill="#E69F00"/><path d="M248.8 92.2L250.7 95.6L246.9 95.6Z" fill="#E69F00"/><path d="M250.3 95.8L252.2 99.2L248.4 99.2Z" fill="#E69F00"/><path d="M252.5 94.3L254.4 97.8L250.6 97.8Z" fill="#E69F00"/><path d="M258.2 90.7L260.1 94.2L256.3 94.2Z" fill="#E69F00"/><path d="M261.1 89.3L263.0 92.7L259.2 92.7Z" fill="#E69F00"/><path d="M264.0 88.6L265.9 92.0L262.1 92.0Z" fill="#E69F00"/><path d="M267.6 96.5L269.5 99.9L265.7 99.9Z" fill="#E69F00"/><line x1="221.20" y1="139.91" x2="418.80" y2="-84.73" stroke="#595959" stroke-width="0.65" stroke-dasharray="3.3 3.1"/><path d="M243.00 83.40L246.73 83.11L250.46 82.80L254.19 82.48L257.92 82.13L261.65 81.75L265.38 81.34L269.10 80.89L272.83 80.38L276.56 79.79L280.29 79.15L284.02 78.46L287.75 77.74L291.48 77.01L295.21 76.25L298.94 75.49L302.67 74.71L306.40 73.93L310.12 73.15L313.85 72.37L317.58 71.58L321.31 70.78L325.04 69.99L328.77 69.20L332.50 68.40L332.50 79.40L328.77 79.58L325.04 79.76L321.31 79.94L317.58 80.12L313.85 80.31L310.12 80.50L306.40 80.69L302.67 80.89L298.94 81.09L295.21 81.30L291.48 81.52L287.75 81.76L284.02 82.01L280.29 82.30L276.56 82.63L272.83 83.02L269.10 83.49L265.38 84.01L261.65 84.57L257.92 85.17L254.19 85.80L250.46 86.45L246.73 87.12L243.00 87.80Z" fill="#009E73" fill-opacity="0.5"/><line x1="243.00" y1="85.60" x2="332.50" y2="73.90" stroke="#009E73" stroke-width="1.6"/><path d="M243.00 85.30L246.73 84.77L250.46 84.23L254.19 83.67L257.92 83.08L261.65 82.44L265.38 81.73L269.10 80.91L272.83 79.97L276.56 78.94L280.29 77.84L284.02 76.69L287.75 75.51L291.48 74.30L295.21 73.08L298.94 71.86L302.67 70.62L306.40 69.38L310.12 68.13L313.85 66.88L317.58 65.63L321.31 64.37L325.04 63.12L328.77 61.86L332.50 60.60L332.50 72.80L328.77 73.37L325.04 73.93L321.31 74.50L317.58 75.07L313.85 75.65L310.12 76.22L306.40 76.80L302.67 77.38L298.94 77.97L295.21 78.57L291.48 79.17L287.75 79.79L284.02 80.44L280.29 81.11L276.56 81.84L272.83 82.63L269.10 83.52L265.38 84.52L261.65 85.63L257.92 86.82L254.19 88.06L250.46 89.32L246.73 90.61L243.00 91.90Z" fill="#E69F00" fill-opacity="0.5"/><line x1="243.00" y1="88.60" x2="332.50" y2="66.70" stroke="#E69F00" stroke-width="1.6"/><path d="M243.00 83.40L246.73 83.11L250.46 82.80L254.19 82.48L257.92 82.13L261.65 81.75L265.38 81.34L269.10 80.89L272.83 80.38L276.56 79.79L280.29 79.15L284.02 78.46L287.75 77.74L291.48 77.01L295.21 76.25L298.94 75.49L302.67 74.71L306.40 73.93L310.12 73.15L313.85 72.37L317.58 71.58L321.31 70.78L325.04 69.99L328.77 69.20L332.50 68.40L332.50 79.40L328.77 79.58L325.04 79.76L321.31 79.94L317.58 80.12L313.85 80.31L310.12 80.50L306.40 80.69L302.67 80.89L298.94 81.09L295.21 81.30L291.48 81.52L287.75 81.76L284.02 82.01L280.29 82.30L276.56 82.63L272.83 83.02L269.10 83.49L265.38 84.01L261.65 84.57L257.92 85.17L254.19 85.80L250.46 86.45L246.73 87.12L243.00 87.80Z" fill="#009E73" fill-opacity="0.5"/><line x1="243.00" y1="85.60" x2="332.50" y2="73.90" stroke="#009E73" stroke-width="1.6"/><path d="M243.00 85.30L246.73 84.77L250.46 84.23L254.19 83.67L257.92 83.08L261.65 82.44L265.38 81.73L269.10 80.91L272.83 79.97L276.56 78.94L280.29 77.84L284.02 76.69L287.75 75.51L291.48 74.30L295.21 73.08L298.94 71.86L302.67 70.62L306.40 69.38L310.12 68.13L313.85 66.88L317.58 65.63L321.31 64.37L325.04 63.12L328.77 61.86L332.50 60.60L332.50 72.80L328.77 73.37L325.04 73.93L321.31 74.50L317.58 75.07L313.85 75.65L310.12 76.22L306.40 76.80L302.67 77.38L298.94 77.97L295.21 78.57L291.48 79.17L287.75 79.79L284.02 80.44L280.29 81.11L276.56 81.84L272.83 82.63L269.10 83.52L265.38 84.52L261.65 85.63L257.92 86.82L254.19 88.06L250.46 89.32L246.73 90.61L243.00 91.90Z" fill="#E69F00" fill-opacity="0.5"/><line x1="243.00" y1="88.60" x2="332.50" y2="66.70" stroke="#E69F00" stroke-width="1.6"/></g><rect x="244.05" y="45.50" width="37.2" height="10.5" rx="1.8" fill="#fff" fill-opacity="0.8" stroke="#7CCBB2" stroke-width="0.75"/><text x="246.05" y="52.60" font-size="8.8" fill="#1B9E77" ><tspan font-style="italic">R</tspan> = 0.29</text><rect x="296.05" y="45.50" width="37.2" height="10.5" rx="1.8" fill="#fff" fill-opacity="0.8" stroke="#F0C870" stroke-width="0.75"/><text x="298.05" y="52.60" font-size="8.8" fill="#E69F00" ><tspan font-style="italic">R</tspan> = 0.43</text><rect x="33.40" y="122.40" width="97.80" height="14.40" fill="#fff" stroke="#D6D6D6" stroke-width="0.7"/><text transform="translate(82.30 132.60)" font-size="8.3" fill="#1A1A1A" text-anchor="middle" font-weight="bold">V35</text><clipPath id="cA01"><rect x="33.30" y="136.80" width="98.00" height="76.20"/></clipPath><line x1="61.40" y1="136.80" x2="61.40" y2="213.00" stroke="#EBEBEB" stroke-width="0.55"/><line x1="91.80" y1="136.80" x2="91.80" y2="213.00" stroke="#EBEBEB" stroke-width="0.55"/><line x1="122.20" y1="136.80" x2="122.20" y2="213.00" stroke="#EBEBEB" stroke-width="0.55"/><line x1="33.30" y1="200.85" x2="131.30" y2="200.85" stroke="#EBEBEB" stroke-width="0.55"/><line x1="33.30" y1="183.57" x2="131.30" y2="183.57" stroke="#EBEBEB" stroke-width="0.55"/><line x1="33.30" y1="166.29" x2="131.30" y2="166.29" stroke="#EBEBEB" stroke-width="0.55"/><line x1="33.30" y1="149.01" x2="131.30" y2="149.01" stroke="#EBEBEB" stroke-width="0.55"/><line x1="30.70" y1="200.85" x2="33.30" y2="200.85" stroke="#333" stroke-width="0.55"/><text x="28.80" y="203.45" font-size="7.5" fill="#4D4D4D" text-anchor="end" font-weight="normal" font-style="normal" >10</text><line x1="30.70" y1="183.57" x2="33.30" y2="183.57" stroke="#333" stroke-width="0.55"/><text x="28.80" y="186.17" font-size="7.5" fill="#4D4D4D" text-anchor="end" font-weight="normal" font-style="normal" >20</text><line x1="30.70" y1="166.29" x2="33.30" y2="166.29" stroke="#333" stroke-width="0.55"/><text x="28.80" y="168.89" font-size="7.5" fill="#4D4D4D" text-anchor="end" font-weight="normal" font-style="normal" >30</text><line x1="30.70" y1="149.01" x2="33.30" y2="149.01" stroke="#333" stroke-width="0.55"/><text x="28.80" y="151.61" font-size="7.5" fill="#4D4D4D" text-anchor="end" font-weight="normal" font-style="normal" >40</text><g clip-path="url(#cA01)"><circle cx="67.0" cy="155.5" r="1.4" fill="#009E73"/><circle cx="69.8" cy="155.1" r="1.4" fill="#009E73"/><circle cx="69.1" cy="159.8" r="1.4" fill="#009E73"/><circle cx="66.2" cy="161.3" r="1.4" fill="#009E73"/><circle cx="62.6" cy="162.7" r="1.4" fill="#009E73"/><circle cx="59.7" cy="162.7" r="1.4" fill="#009E73"/><circle cx="61.2" cy="164.9" r="1.4" fill="#009E73"/><circle cx="63.3" cy="165.6" r="1.4" fill="#009E73"/><circle cx="56.8" cy="167.1" r="1.4" fill="#009E73"/><circle cx="58.3" cy="168.5" r="1.4" fill="#009E73"/><circle cx="61.9" cy="168.5" r="1.4" fill="#009E73"/><circle cx="64.1" cy="169.2" r="1.4" fill="#009E73"/><circle cx="67.7" cy="168.5" r="1.4" fill="#009E73"/><circle cx="56.8" cy="170.7" r="1.4" fill="#009E73"/><circle cx="61.2" cy="172.1" r="1.4" fill="#009E73"/><circle cx="65.5" cy="171.4" r="1.4" fill="#009E73"/><circle cx="69.8" cy="164.2" r="1.4" fill="#009E73"/><circle cx="71.3" cy="166.3" r="1.4" fill="#009E73"/><circle cx="72.0" cy="169.2" r="1.4" fill="#009E73"/><circle cx="50.3" cy="169.2" r="1.4" fill="#009E73"/><circle cx="39.5" cy="173.9" r="1.4" fill="#009E73"/><circle cx="80.7" cy="165.6" r="1.4" fill="#009E73"/><circle cx="82.9" cy="167.1" r="1.4" fill="#009E73"/><circle cx="84.3" cy="164.9" r="1.4" fill="#009E73"/><circle cx="95.1" cy="158.8" r="1.4" fill="#009E73"/><circle cx="94.4" cy="165.6" r="1.4" fill="#009E73"/><circle cx="77.8" cy="171.4" r="1.4" fill="#009E73"/><circle cx="38.8" cy="174.0" r="1.4" fill="#009E73"/><circle cx="40.2" cy="176.2" r="1.4" fill="#009E73"/><circle cx="44.6" cy="176.9" r="1.4" fill="#009E73"/><circle cx="47.5" cy="176.2" r="1.4" fill="#009E73"/><circle cx="51.8" cy="176.2" r="1.4" fill="#009E73"/><circle cx="56.1" cy="176.2" r="1.4" fill="#009E73"/><circle cx="59.7" cy="175.4" r="1.4" fill="#009E73"/><circle cx="38.8" cy="184.8" r="1.4" fill="#009E73"/><circle cx="41.7" cy="187.7" r="1.4" fill="#009E73"/><circle cx="43.1" cy="188.5" r="1.4" fill="#009E73"/><circle cx="46.0" cy="187.7" r="1.4" fill="#009E73"/><circle cx="51.8" cy="185.6" r="1.4" fill="#009E73"/><circle cx="53.2" cy="184.8" r="1.4" fill="#009E73"/><circle cx="51.8" cy="189.9" r="1.4" fill="#009E73"/><circle cx="54.0" cy="189.2" r="1.4" fill="#009E73"/><circle cx="56.8" cy="187.7" r="1.4" fill="#009E73"/><circle cx="40.2" cy="192.8" r="1.4" fill="#009E73"/><circle cx="43.8" cy="194.2" r="1.4" fill="#009E73"/><circle cx="46.7" cy="197.1" r="1.4" fill="#009E73"/><circle cx="50.3" cy="192.8" r="1.4" fill="#009E73"/><circle cx="51.1" cy="196.4" r="1.4" fill="#009E73"/><circle cx="58.3" cy="192.1" r="1.4" fill="#009E73"/><circle cx="59.7" cy="195.0" r="1.4" fill="#009E73"/><circle cx="61.9" cy="197.1" r="1.4" fill="#009E73"/><circle cx="69.8" cy="195.7" r="1.4" fill="#009E73"/><circle cx="71.3" cy="190.6" r="1.4" fill="#009E73"/><circle cx="72.7" cy="189.2" r="1.4" fill="#009E73"/><circle cx="72.7" cy="181.2" r="1.4" fill="#009E73"/><circle cx="71.3" cy="179.8" r="1.4" fill="#009E73"/><circle cx="77.8" cy="180.5" r="1.4" fill="#009E73"/><circle cx="77.8" cy="184.1" r="1.4" fill="#009E73"/><circle cx="82.1" cy="183.4" r="1.4" fill="#009E73"/><circle cx="83.6" cy="184.4" r="1.4" fill="#009E73"/><circle cx="88.6" cy="184.1" r="1.4" fill="#009E73"/><circle cx="89.4" cy="186.3" r="1.4" fill="#009E73"/><circle cx="89.4" cy="187.7" r="1.4" fill="#009E73"/><circle cx="95.9" cy="181.2" r="1.4" fill="#009E73"/><circle cx="102.4" cy="181.9" r="1.4" fill="#009E73"/><circle cx="100.9" cy="178.3" r="1.4" fill="#009E73"/><circle cx="111.0" cy="185.3" r="1.4" fill="#009E73"/><circle cx="119.0" cy="178.3" r="1.4" fill="#009E73"/><circle cx="121.2" cy="177.6" r="1.4" fill="#009E73"/><circle cx="126.9" cy="184.1" r="1.4" fill="#009E73"/><circle cx="88.6" cy="179.8" r="1.4" fill="#009E73"/><circle cx="59.7" cy="165.6" r="1.4" fill="#009E73"/><circle cx="64.1" cy="167.1" r="1.4" fill="#009E73"/><circle cx="66.2" cy="164.9" r="1.4" fill="#009E73"/><circle cx="69.1" cy="167.1" r="1.4" fill="#009E73"/><circle cx="58.3" cy="170.7" r="1.4" fill="#009E73"/><circle cx="62.6" cy="170.7" r="1.4" fill="#009E73"/><circle cx="70.6" cy="170.0" r="1.4" fill="#009E73"/><circle cx="73.5" cy="164.9" r="1.4" fill="#009E73"/><circle cx="76.4" cy="169.2" r="1.4" fill="#009E73"/><circle cx="40.9" cy="185.6" r="1.4" fill="#009E73"/><circle cx="44.6" cy="187.0" r="1.4" fill="#009E73"/><circle cx="47.5" cy="188.5" r="1.4" fill="#009E73"/><circle cx="49.6" cy="186.3" r="1.4" fill="#009E73"/><circle cx="54.7" cy="187.0" r="1.4" fill="#009E73"/><circle cx="56.1" cy="189.9" r="1.4" fill="#009E73"/><circle cx="48.9" cy="191.3" r="1.4" fill="#009E73"/><circle cx="41.7" cy="190.6" r="1.4" fill="#009E73"/><circle cx="59.0" cy="188.5" r="1.4" fill="#009E73"/><circle cx="61.9" cy="184.8" r="1.4" fill="#009E73"/><path d="M43.8 157.1L45.7 160.6L41.9 160.6Z" fill="#E69F00"/><path d="M59.0 152.8L60.9 156.2L57.1 156.2Z" fill="#E69F00"/><path d="M59.0 155.0L60.9 158.4L57.1 158.4Z" fill="#E69F00"/><path d="M59.7 156.4L61.6 159.8L57.8 159.8Z" fill="#E69F00"/><path d="M66.2 156.4L68.1 159.8L64.3 159.8Z" fill="#E69F00"/><path d="M69.8 155.7L71.7 159.1L67.9 159.1Z" fill="#E69F00"/><path d="M80.7 154.2L82.6 157.7L78.8 157.7Z" fill="#E69F00"/><path d="M86.5 156.4L88.4 159.8L84.6 159.8Z" fill="#E69F00"/><path d="M80.7 159.3L82.6 162.7L78.8 162.7Z" fill="#E69F00"/><path d="M82.9 158.6L84.8 162.0L81.0 162.0Z" fill="#E69F00"/><path d="M55.4 160.7L57.3 164.2L53.5 164.2Z" fill="#E69F00"/><path d="M63.3 160.0L65.2 163.5L61.4 163.5Z" fill="#E69F00"/><path d="M61.9 162.2L63.8 165.6L60.0 165.6Z" fill="#E69F00"/><path d="M72.0 165.1L73.9 168.5L70.1 168.5Z" fill="#E69F00"/><path d="M77.1 164.3L79.0 167.8L75.2 167.8Z" fill="#E69F00"/><path d="M80.7 162.2L82.6 165.6L78.8 165.6Z" fill="#E69F00"/><path d="M99.5 152.8L101.4 156.2L97.6 156.2Z" fill="#E69F00"/><path d="M106.7 154.5L108.6 158.0L104.8 158.0Z" fill="#E69F00"/><path d="M42.4 171.9L44.3 175.3L40.5 175.3Z" fill="#E69F00"/><path d="M47.5 171.3L49.4 174.7L45.6 174.7Z" fill="#E69F00"/><path d="M51.8 170.8L53.7 174.3L49.9 174.3Z" fill="#E69F00"/><path d="M54.0 171.6L55.9 175.0L52.1 175.0Z" fill="#E69F00"/><path d="M65.5 170.8L67.4 174.3L63.6 174.3Z" fill="#E69F00"/><path d="M70.6 169.8L72.5 173.3L68.7 173.3Z" fill="#E69F00"/><path d="M76.4 170.1L78.3 173.6L74.5 173.6Z" fill="#E69F00"/><path d="M67.7 167.2L69.6 170.7L65.8 170.7Z" fill="#E69F00"/><path d="M39.5 172.7L41.4 176.2L37.6 176.2Z" fill="#E69F00"/><path d="M38.1 182.1L40.0 185.6L36.2 185.6Z" fill="#E69F00"/><path d="M38.8 184.3L40.7 187.7L36.9 187.7Z" fill="#E69F00"/><path d="M40.9 185.0L42.8 188.4L39.0 188.4Z" fill="#E69F00"/><path d="M48.9 181.4L50.8 184.8L47.0 184.8Z" fill="#E69F00"/><path d="M51.1 182.1L53.0 185.6L49.2 185.6Z" fill="#E69F00"/><path d="M55.4 181.4L57.3 184.8L53.5 184.8Z" fill="#E69F00"/><path d="M58.3 182.8L60.2 186.3L56.4 186.3Z" fill="#E69F00"/><path d="M61.9 181.4L63.8 184.8L60.0 184.8Z" fill="#E69F00"/><path d="M64.1 183.6L66.0 187.0L62.2 187.0Z" fill="#E69F00"/><path d="M67.0 182.8L68.9 186.3L65.1 186.3Z" fill="#E69F00"/><path d="M69.1 184.3L71.0 187.7L67.2 187.7Z" fill="#E69F00"/><path d="M61.9 185.0L63.8 188.4L60.0 188.4Z" fill="#E69F00"/><path d="M37.3 191.5L39.2 194.9L35.4 194.9Z" fill="#E69F00"/><path d="M40.9 192.2L42.8 195.7L39.0 195.7Z" fill="#E69F00"/><path d="M42.4 195.1L44.3 198.6L40.5 198.6Z" fill="#E69F00"/><path d="M39.5 199.2L41.4 202.6L37.6 202.6Z" fill="#E69F00"/><path d="M46.7 198.7L48.6 202.2L44.8 202.2Z" fill="#E69F00"/><path d="M50.3 193.7L52.2 197.1L48.4 197.1Z" fill="#E69F00"/><path d="M54.0 190.8L55.9 194.2L52.1 194.2Z" fill="#E69F00"/><path d="M59.0 198.7L60.9 202.2L57.1 202.2Z" fill="#E69F00"/><path d="M61.9 199.5L63.8 202.9L60.0 202.9Z" fill="#E69F00"/><path d="M69.8 196.6L71.7 200.0L67.9 200.0Z" fill="#E69F00"/><path d="M72.0 186.5L73.9 189.9L70.1 189.9Z" fill="#E69F00"/><path d="M82.1 187.2L84.0 190.6L80.2 190.6Z" fill="#E69F00"/><path d="M88.6 179.9L90.5 183.4L86.7 183.4Z" fill="#E69F00"/><path d="M95.9 181.8L97.8 185.3L94.0 185.3Z" fill="#E69F00"/><path d="M111.0 184.7L112.9 188.2L109.1 188.2Z" fill="#E69F00"/><path d="M118.3 177.8L120.2 181.2L116.4 181.2Z" fill="#E69F00"/><path d="M102.4 176.3L104.3 179.8L100.5 179.8Z" fill="#E69F00"/><path d="M59.0 158.6L60.9 162.0L57.1 162.0Z" fill="#E69F00"/><path d="M64.1 162.2L66.0 165.6L62.2 165.6Z" fill="#E69F00"/><path d="M66.2 168.7L68.1 172.1L64.3 172.1Z" fill="#E69F00"/><path d="M74.9 165.8L76.8 169.2L73.0 169.2Z" fill="#E69F00"/><path d="M38.8 186.5L40.7 189.9L36.9 189.9Z" fill="#E69F00"/><path d="M42.4 182.8L44.3 186.3L40.5 186.3Z" fill="#E69F00"/><path d="M45.3 183.6L47.2 187.0L43.4 187.0Z" fill="#E69F00"/><path d="M53.2 185.7L55.1 189.2L51.3 189.2Z" fill="#E69F00"/><path d="M56.8 184.3L58.7 187.7L54.9 187.7Z" fill="#E69F00"/><path d="M59.7 181.4L61.6 184.8L57.8 184.8Z" fill="#E69F00"/><path d="M62.6 187.9L64.5 191.3L60.7 191.3Z" fill="#E69F00"/><path d="M66.2 186.5L68.1 189.9L64.3 189.9Z" fill="#E69F00"/><line x1="15.80" y1="235.41" x2="213.40" y2="10.77" stroke="#595959" stroke-width="0.65" stroke-dasharray="3.3 3.1"/><path d="M37.00 177.90L40.74 177.73L44.48 177.55L48.22 177.35L51.97 177.13L55.71 176.89L59.45 176.63L63.19 176.32L66.93 175.98L70.67 175.57L74.42 175.10L78.16 174.60L81.90 174.07L85.64 173.51L89.38 172.95L93.12 172.37L96.87 171.79L100.61 171.20L104.35 170.61L108.09 170.01L111.83 169.41L115.58 168.81L119.32 168.21L123.06 167.60L126.80 167.00L126.80 177.00L123.06 177.05L119.32 177.09L115.58 177.14L111.83 177.19L108.09 177.24L104.35 177.29L100.61 177.35L96.87 177.41L93.12 177.48L89.38 177.55L85.64 177.64L81.90 177.73L78.16 177.85L74.42 178.00L70.67 178.18L66.93 178.42L63.19 178.73L59.45 179.07L55.71 179.46L51.97 179.87L48.22 180.30L44.48 180.75L40.74 181.22L37.00 181.70Z" fill="#009E73" fill-opacity="0.5"/><line x1="37.00" y1="179.80" x2="126.80" y2="172.00" stroke="#009E73" stroke-width="1.6"/><path d="M37.00 181.30L40.74 180.72L44.48 180.12L48.22 179.51L51.97 178.87L55.71 178.19L59.45 177.43L63.19 176.58L66.93 175.60L70.67 174.52L74.42 173.36L78.16 172.15L81.90 170.91L85.64 169.65L89.38 168.38L93.12 167.10L96.87 165.81L100.61 164.52L104.35 163.22L108.09 161.92L111.83 160.62L115.58 159.32L119.32 158.01L123.06 156.71L126.80 155.40L126.80 168.00L123.06 168.58L119.32 169.17L115.58 169.76L111.83 170.35L108.09 170.94L104.35 171.53L100.61 172.12L96.87 172.72L93.12 173.32L89.38 173.93L85.64 174.55L81.90 175.19L78.16 175.84L74.42 176.52L70.67 177.26L66.93 178.07L63.19 178.98L59.45 180.02L55.71 181.16L51.97 182.36L48.22 183.62L44.48 184.90L40.74 186.19L37.00 187.50Z" fill="#E69F00" fill-opacity="0.5"/><line x1="37.00" y1="184.40" x2="126.80" y2="161.70" stroke="#E69F00" stroke-width="1.6"/><path d="M37.00 177.90L40.74 177.73L44.48 177.55L48.22 177.35L51.97 177.13L55.71 176.89L59.45 176.63L63.19 176.32L66.93 175.98L70.67 175.57L74.42 175.10L78.16 174.60L81.90 174.07L85.64 173.51L89.38 172.95L93.12 172.37L96.87 171.79L100.61 171.20L104.35 170.61L108.09 170.01L111.83 169.41L115.58 168.81L119.32 168.21L123.06 167.60L126.80 167.00L126.80 177.00L123.06 177.05L119.32 177.09L115.58 177.14L111.83 177.19L108.09 177.24L104.35 177.29L100.61 177.35L96.87 177.41L93.12 177.48L89.38 177.55L85.64 177.64L81.90 177.73L78.16 177.85L74.42 178.00L70.67 178.18L66.93 178.42L63.19 178.73L59.45 179.07L55.71 179.46L51.97 179.87L48.22 180.30L44.48 180.75L40.74 181.22L37.00 181.70Z" fill="#009E73" fill-opacity="0.5"/><line x1="37.00" y1="179.80" x2="126.80" y2="172.00" stroke="#009E73" stroke-width="1.6"/><path d="M37.00 181.30L40.74 180.72L44.48 180.12L48.22 179.51L51.97 178.87L55.71 178.19L59.45 177.43L63.19 176.58L66.93 175.60L70.67 174.52L74.42 173.36L78.16 172.15L81.90 170.91L85.64 169.65L89.38 168.38L93.12 167.10L96.87 165.81L100.61 164.52L104.35 163.22L108.09 161.92L111.83 160.62L115.58 159.32L119.32 158.01L123.06 156.71L126.80 155.40L126.80 168.00L123.06 168.58L119.32 169.17L115.58 169.76L111.83 170.35L108.09 170.94L104.35 171.53L100.61 172.12L96.87 172.72L93.12 173.32L89.38 173.93L85.64 174.55L81.90 175.19L78.16 175.84L74.42 176.52L70.67 177.26L66.93 178.07L63.19 178.98L59.45 180.02L55.71 181.16L51.97 182.36L48.22 183.62L44.48 184.90L40.74 186.19L37.00 187.50Z" fill="#E69F00" fill-opacity="0.5"/><line x1="37.00" y1="184.40" x2="126.80" y2="161.70" stroke="#E69F00" stroke-width="1.6"/></g><rect x="39.05" y="140.70" width="37.2" height="10.5" rx="1.8" fill="#fff" fill-opacity="0.8" stroke="#7CCBB2" stroke-width="0.75"/><text x="41.05" y="147.80" font-size="8.8" fill="#1B9E77" ><tspan font-style="italic">R</tspan> = 0.21</text><rect x="89.85" y="140.70" width="37.2" height="10.5" rx="1.8" fill="#fff" fill-opacity="0.8" stroke="#F0C870" stroke-width="0.75"/><text x="91.85" y="147.80" font-size="8.8" fill="#E69F00" ><tspan font-style="italic">R</tspan> = 0.43</text><rect x="136.10" y="122.40" width="97.80" height="14.40" fill="#fff" stroke="#D6D6D6" stroke-width="0.7"/><text transform="translate(185.00 132.60)" font-size="8.3" fill="#1A1A1A" text-anchor="middle" font-weight="bold">V56</text><clipPath id="cA11"><rect x="136.00" y="136.80" width="98.00" height="76.20"/></clipPath><line x1="164.10" y1="136.80" x2="164.10" y2="213.00" stroke="#EBEBEB" stroke-width="0.55"/><line x1="194.50" y1="136.80" x2="194.50" y2="213.00" stroke="#EBEBEB" stroke-width="0.55"/><line x1="224.90" y1="136.80" x2="224.90" y2="213.00" stroke="#EBEBEB" stroke-width="0.55"/><line x1="136.00" y1="200.85" x2="234.00" y2="200.85" stroke="#EBEBEB" stroke-width="0.55"/><line x1="136.00" y1="183.57" x2="234.00" y2="183.57" stroke="#EBEBEB" stroke-width="0.55"/><line x1="136.00" y1="166.29" x2="234.00" y2="166.29" stroke="#EBEBEB" stroke-width="0.55"/><line x1="136.00" y1="149.01" x2="234.00" y2="149.01" stroke="#EBEBEB" stroke-width="0.55"/><line x1="164.10" y1="213.00" x2="164.10" y2="215.60" stroke="#333" stroke-width="0.55"/><text x="164.10" y="222.10" font-size="7.4" fill="#4D4D4D" text-anchor="middle" font-weight="normal" font-style="normal" >20</text><line x1="194.50" y1="213.00" x2="194.50" y2="215.60" stroke="#333" stroke-width="0.55"/><text x="194.50" y="222.10" font-size="7.4" fill="#4D4D4D" text-anchor="middle" font-weight="normal" font-style="normal" >40</text><line x1="224.90" y1="213.00" x2="224.90" y2="215.60" stroke="#333" stroke-width="0.55"/><text x="224.90" y="222.10" font-size="7.4" fill="#4D4D4D" text-anchor="middle" font-weight="normal" font-style="normal" >60</text><g clip-path="url(#cA11)"><circle cx="163.5" cy="154.8" r="1.4" fill="#009E73"/><circle cx="175.7" cy="153.3" r="1.4" fill="#009E73"/><circle cx="178.6" cy="156.2" r="1.4" fill="#009E73"/><circle cx="174.3" cy="161.3" r="1.4" fill="#009E73"/><circle cx="170.7" cy="163.5" r="1.4" fill="#009E73"/><circle cx="170.0" cy="164.9" r="1.4" fill="#009E73"/><circle cx="166.3" cy="166.3" r="1.4" fill="#009E73"/><circle cx="167.8" cy="167.1" r="1.4" fill="#009E73"/><circle cx="162.0" cy="166.3" r="1.4" fill="#009E73"/><circle cx="161.3" cy="168.5" r="1.4" fill="#009E73"/><circle cx="159.1" cy="169.5" r="1.4" fill="#009E73"/><circle cx="157.7" cy="170.7" r="1.4" fill="#009E73"/><circle cx="154.8" cy="167.1" r="1.4" fill="#009E73"/><circle cx="153.3" cy="169.2" r="1.4" fill="#009E73"/><circle cx="146.1" cy="162.7" r="1.4" fill="#009E73"/><circle cx="142.5" cy="163.5" r="1.4" fill="#009E73"/><circle cx="141.8" cy="172.1" r="1.4" fill="#009E73"/><circle cx="144.7" cy="170.0" r="1.4" fill="#009E73"/><circle cx="163.5" cy="170.7" r="1.4" fill="#009E73"/><circle cx="165.6" cy="172.8" r="1.4" fill="#009E73"/><circle cx="169.2" cy="170.7" r="1.4" fill="#009E73"/><circle cx="171.4" cy="169.2" r="1.4" fill="#009E73"/><circle cx="173.6" cy="167.8" r="1.4" fill="#009E73"/><circle cx="175.0" cy="170.7" r="1.4" fill="#009E73"/><circle cx="183.0" cy="170.0" r="1.4" fill="#009E73"/><circle cx="191.6" cy="164.9" r="1.4" fill="#009E73"/><circle cx="193.1" cy="161.3" r="1.4" fill="#009E73"/><circle cx="190.2" cy="167.1" r="1.4" fill="#009E73"/><circle cx="205.4" cy="159.1" r="1.4" fill="#009E73"/><circle cx="214.0" cy="158.8" r="1.4" fill="#009E73"/><circle cx="183.7" cy="165.6" r="1.4" fill="#009E73"/><circle cx="142.5" cy="176.9" r="1.4" fill="#009E73"/><circle cx="146.8" cy="176.2" r="1.4" fill="#009E73"/><circle cx="153.3" cy="175.4" r="1.4" fill="#009E73"/><circle cx="157.7" cy="176.2" r="1.4" fill="#009E73"/><circle cx="162.7" cy="175.4" r="1.4" fill="#009E73"/><circle cx="166.3" cy="174.7" r="1.4" fill="#009E73"/><circle cx="149.7" cy="187.7" r="1.4" fill="#009E73"/><circle cx="151.2" cy="187.7" r="1.4" fill="#009E73"/><circle cx="154.1" cy="185.6" r="1.4" fill="#009E73"/><circle cx="155.5" cy="185.6" r="1.4" fill="#009E73"/><circle cx="159.1" cy="184.1" r="1.4" fill="#009E73"/><circle cx="160.6" cy="185.6" r="1.4" fill="#009E73"/><circle cx="163.5" cy="186.3" r="1.4" fill="#009E73"/><circle cx="164.9" cy="187.0" r="1.4" fill="#009E73"/><circle cx="165.6" cy="182.7" r="1.4" fill="#009E73"/><circle cx="161.3" cy="190.6" r="1.4" fill="#009E73"/><circle cx="154.8" cy="189.9" r="1.4" fill="#009E73"/><circle cx="156.2" cy="191.3" r="1.4" fill="#009E73"/><circle cx="157.0" cy="192.8" r="1.4" fill="#009E73"/><circle cx="153.3" cy="193.5" r="1.4" fill="#009E73"/><circle cx="154.8" cy="195.0" r="1.4" fill="#009E73"/><circle cx="157.7" cy="194.2" r="1.4" fill="#009E73"/><circle cx="154.1" cy="197.1" r="1.4" fill="#009E73"/><circle cx="155.5" cy="197.1" r="1.4" fill="#009E73"/><circle cx="152.6" cy="199.3" r="1.4" fill="#009E73"/><circle cx="146.1" cy="196.4" r="1.4" fill="#009E73"/><circle cx="149.7" cy="197.1" r="1.4" fill="#009E73"/><circle cx="146.8" cy="200.7" r="1.4" fill="#009E73"/><circle cx="159.8" cy="202.6" r="1.4" fill="#009E73"/><circle cx="164.9" cy="197.1" r="1.4" fill="#009E73"/><circle cx="175.0" cy="181.2" r="1.4" fill="#009E73"/><circle cx="175.7" cy="184.8" r="1.4" fill="#009E73"/><circle cx="180.8" cy="182.7" r="1.4" fill="#009E73"/><circle cx="185.1" cy="182.7" r="1.4" fill="#009E73"/><circle cx="184.4" cy="186.3" r="1.4" fill="#009E73"/><circle cx="187.3" cy="179.1" r="1.4" fill="#009E73"/><circle cx="189.5" cy="180.5" r="1.4" fill="#009E73"/><circle cx="198.1" cy="176.2" r="1.4" fill="#009E73"/><circle cx="202.5" cy="179.1" r="1.4" fill="#009E73"/><circle cx="222.7" cy="179.8" r="1.4" fill="#009E73"/><circle cx="229.9" cy="182.7" r="1.4" fill="#009E73"/><circle cx="220.5" cy="186.7" r="1.4" fill="#009E73"/><circle cx="157.7" cy="167.1" r="1.4" fill="#009E73"/><circle cx="159.8" cy="168.5" r="1.4" fill="#009E73"/><circle cx="164.9" cy="167.8" r="1.4" fill="#009E73"/><circle cx="167.1" cy="170.7" r="1.4" fill="#009E73"/><circle cx="162.0" cy="172.1" r="1.4" fill="#009E73"/><circle cx="172.1" cy="172.1" r="1.4" fill="#009E73"/><circle cx="156.2" cy="172.8" r="1.4" fill="#009E73"/><circle cx="144.7" cy="175.4" r="1.4" fill="#009E73"/><circle cx="149.7" cy="175.4" r="1.4" fill="#009E73"/><circle cx="155.5" cy="174.7" r="1.4" fill="#009E73"/><circle cx="159.8" cy="174.7" r="1.4" fill="#009E73"/><circle cx="164.9" cy="176.2" r="1.4" fill="#009E73"/><circle cx="167.8" cy="176.9" r="1.4" fill="#009E73"/><circle cx="151.9" cy="186.3" r="1.4" fill="#009E73"/><circle cx="157.7" cy="189.2" r="1.4" fill="#009E73"/><circle cx="153.3" cy="191.3" r="1.4" fill="#009E73"/><circle cx="156.2" cy="195.7" r="1.4" fill="#009E73"/><circle cx="159.1" cy="186.3" r="1.4" fill="#009E73"/><circle cx="162.7" cy="184.1" r="1.4" fill="#009E73"/><circle cx="150.5" cy="195.7" r="1.4" fill="#009E73"/><path d="M176.5 137.6L178.4 141.1L174.6 141.1Z" fill="#E69F00"/><path d="M178.6 148.5L180.5 151.9L176.7 151.9Z" fill="#E69F00"/><path d="M144.7 155.7L146.6 159.1L142.8 159.1Z" fill="#E69F00"/><path d="M154.8 153.5L156.7 156.9L152.9 156.9Z" fill="#E69F00"/><path d="M162.0 155.7L163.9 159.1L160.1 159.1Z" fill="#E69F00"/><path d="M169.2 155.7L171.1 159.1L167.3 159.1Z" fill="#E69F00"/><path d="M174.3 157.8L176.2 161.3L172.4 161.3Z" fill="#E69F00"/><path d="M182.2 156.4L184.1 159.8L180.3 159.8Z" fill="#E69F00"/><path d="M183.7 159.3L185.6 162.7L181.8 162.7Z" fill="#E69F00"/><path d="M180.8 160.7L182.7 164.2L178.9 164.2Z" fill="#E69F00"/><path d="M180.1 162.9L182.0 166.3L178.2 166.3Z" fill="#E69F00"/><path d="M185.9 162.2L187.8 165.6L184.0 165.6Z" fill="#E69F00"/><path d="M192.4 155.7L194.3 159.1L190.5 159.1Z" fill="#E69F00"/><path d="M193.1 157.1L195.0 160.6L191.2 160.6Z" fill="#E69F00"/><path d="M159.1 164.3L161.0 167.8L157.2 167.8Z" fill="#E69F00"/><path d="M163.5 166.5L165.4 170.0L161.6 170.0Z" fill="#E69F00"/><path d="M165.6 167.2L167.5 170.7L163.7 170.7Z" fill="#E69F00"/><path d="M168.5 166.5L170.4 170.0L166.6 170.0Z" fill="#E69F00"/><path d="M171.4 165.1L173.3 168.5L169.5 168.5Z" fill="#E69F00"/><path d="M144.7 165.1L146.6 168.5L142.8 168.5Z" fill="#E69F00"/><path d="M146.8 170.1L148.7 173.6L144.9 173.6Z" fill="#E69F00"/><path d="M154.8 171.3L156.7 174.7L152.9 174.7Z" fill="#E69F00"/><path d="M157.7 170.1L159.6 173.6L155.8 173.6Z" fill="#E69F00"/><path d="M190.9 163.6L192.8 167.1L189.0 167.1Z" fill="#E69F00"/><path d="M174.3 168.7L176.2 172.1L172.4 172.1Z" fill="#E69F00"/><path d="M230.7 168.7L232.6 172.1L228.8 172.1Z" fill="#E69F00"/><path d="M170.7 169.4L172.6 172.8L168.8 172.8Z" fill="#E69F00"/><path d="M140.3 188.6L142.2 192.1L138.4 192.1Z" fill="#E69F00"/><path d="M142.5 185.7L144.4 189.2L140.6 189.2Z" fill="#E69F00"/><path d="M146.8 186.5L148.7 189.9L144.9 189.9Z" fill="#E69F00"/><path d="M148.3 189.3L150.2 192.8L146.4 192.8Z" fill="#E69F00"/><path d="M149.0 191.5L150.9 194.9L147.1 194.9Z" fill="#E69F00"/><path d="M151.9 188.6L153.8 192.1L150.0 192.1Z" fill="#E69F00"/><path d="M157.0 193.7L158.9 197.1L155.1 197.1Z" fill="#E69F00"/><path d="M158.4 195.1L160.3 198.6L156.5 198.6Z" fill="#E69F00"/><path d="M161.3 186.5L163.2 189.9L159.4 189.9Z" fill="#E69F00"/><path d="M164.2 186.5L166.1 189.9L162.3 189.9Z" fill="#E69F00"/><path d="M167.1 185.0L169.0 188.4L165.2 188.4Z" fill="#E69F00"/><path d="M170.7 185.7L172.6 189.2L168.8 189.2Z" fill="#E69F00"/><path d="M172.1 181.4L174.0 184.8L170.2 184.8Z" fill="#E69F00"/><path d="M175.0 186.5L176.9 189.9L173.1 189.9Z" fill="#E69F00"/><path d="M175.0 188.6L176.9 192.1L173.1 192.1Z" fill="#E69F00"/><path d="M176.5 190.8L178.4 194.2L174.6 194.2Z" fill="#E69F00"/><path d="M184.4 189.3L186.3 192.8L182.5 192.8Z" fill="#E69F00"/><path d="M164.9 197.3L166.8 200.7L163.0 200.7Z" fill="#E69F00"/><path d="M146.1 201.6L148.0 205.1L144.2 205.1Z" fill="#E69F00"/><path d="M220.5 182.1L222.4 185.6L218.6 185.6Z" fill="#E69F00"/><path d="M203.9 174.2L205.8 177.6L202.0 177.6Z" fill="#E69F00"/><path d="M161.3 168.0L163.2 171.4L159.4 171.4Z" fill="#E69F00"/><path d="M167.1 170.1L169.0 173.6L165.2 173.6Z" fill="#E69F00"/><path d="M164.2 165.1L166.1 168.5L162.3 168.5Z" fill="#E69F00"/><path d="M141.8 183.6L143.7 187.0L139.9 187.0Z" fill="#E69F00"/><path d="M143.9 187.2L145.8 190.6L142.0 190.6Z" fill="#E69F00"/><path d="M150.5 190.1L152.4 193.5L148.6 193.5Z" fill="#E69F00"/><path d="M154.1 190.1L156.0 193.5L152.2 193.5Z" fill="#E69F00"/><path d="M155.5 185.7L157.4 189.2L153.6 189.2Z" fill="#E69F00"/><path d="M159.8 190.1L161.7 193.5L157.9 193.5Z" fill="#E69F00"/><path d="M163.5 187.9L165.4 191.3L161.6 191.3Z" fill="#E69F00"/><path d="M144.7 185.7L146.6 189.2L142.8 189.2Z" fill="#E69F00"/><line x1="118.50" y1="235.41" x2="316.10" y2="10.77" stroke="#595959" stroke-width="0.65" stroke-dasharray="3.3 3.1"/><path d="M139.60 179.30L143.36 178.95L147.12 178.60L150.88 178.23L154.63 177.84L158.39 177.42L162.15 176.97L165.91 176.48L169.67 175.94L173.43 175.33L177.18 174.66L180.94 173.94L184.70 173.20L188.46 172.44L192.22 171.67L195.97 170.89L199.73 170.10L203.49 169.31L207.25 168.51L211.01 167.72L214.77 166.92L218.52 166.11L222.28 165.31L226.04 164.51L229.80 163.70L229.80 173.90L226.04 174.13L222.28 174.36L218.52 174.59L214.77 174.82L211.01 175.05L207.25 175.29L203.49 175.52L199.73 175.76L195.97 176.01L192.22 176.26L188.46 176.52L184.70 176.80L180.94 177.09L177.18 177.41L173.43 177.77L169.67 178.19L165.91 178.68L162.15 179.23L158.39 179.81L154.63 180.43L150.88 181.07L147.12 181.74L143.36 182.41L139.60 183.10Z" fill="#009E73" fill-opacity="0.5"/><line x1="139.60" y1="181.20" x2="229.80" y2="168.80" stroke="#009E73" stroke-width="1.6"/><path d="M139.60 180.60L143.36 180.01L147.12 179.40L150.88 178.78L154.63 178.14L158.39 177.45L162.15 176.69L165.91 175.84L169.67 174.86L173.43 173.77L177.18 172.60L180.94 171.37L184.70 170.12L188.46 168.84L192.22 167.55L195.97 166.25L199.73 164.94L203.49 163.63L207.25 162.32L211.01 161.00L214.77 159.69L218.52 158.37L222.28 157.05L226.04 155.72L229.80 154.40L229.80 167.80L226.04 168.35L222.28 168.90L218.52 169.46L214.77 170.01L211.01 170.57L207.25 171.13L203.49 171.69L199.73 172.26L195.97 172.82L192.22 173.40L188.46 173.99L184.70 174.58L180.94 175.20L177.18 175.85L173.43 176.55L169.67 177.34L165.91 178.24L162.15 179.26L158.39 180.38L154.63 181.56L150.88 182.79L147.12 184.05L143.36 185.32L139.60 186.60Z" fill="#E69F00" fill-opacity="0.5"/><line x1="139.60" y1="183.60" x2="229.80" y2="161.10" stroke="#E69F00" stroke-width="1.6"/><path d="M139.60 179.30L143.36 178.95L147.12 178.60L150.88 178.23L154.63 177.84L158.39 177.42L162.15 176.97L165.91 176.48L169.67 175.94L173.43 175.33L177.18 174.66L180.94 173.94L184.70 173.20L188.46 172.44L192.22 171.67L195.97 170.89L199.73 170.10L203.49 169.31L207.25 168.51L211.01 167.72L214.77 166.92L218.52 166.11L222.28 165.31L226.04 164.51L229.80 163.70L229.80 173.90L226.04 174.13L222.28 174.36L218.52 174.59L214.77 174.82L211.01 175.05L207.25 175.29L203.49 175.52L199.73 175.76L195.97 176.01L192.22 176.26L188.46 176.52L184.70 176.80L180.94 177.09L177.18 177.41L173.43 177.77L169.67 178.19L165.91 178.68L162.15 179.23L158.39 179.81L154.63 180.43L150.88 181.07L147.12 181.74L143.36 182.41L139.60 183.10Z" fill="#009E73" fill-opacity="0.5"/><line x1="139.60" y1="181.20" x2="229.80" y2="168.80" stroke="#009E73" stroke-width="1.6"/><path d="M139.60 180.60L143.36 180.01L147.12 179.40L150.88 178.78L154.63 178.14L158.39 177.45L162.15 176.69L165.91 175.84L169.67 174.86L173.43 173.77L177.18 172.60L180.94 171.37L184.70 170.12L188.46 168.84L192.22 167.55L195.97 166.25L199.73 164.94L203.49 163.63L207.25 162.32L211.01 161.00L214.77 159.69L218.52 158.37L222.28 157.05L226.04 155.72L229.80 154.40L229.80 167.80L226.04 168.35L222.28 168.90L218.52 169.46L214.77 170.01L211.01 170.57L207.25 171.13L203.49 171.69L199.73 172.26L195.97 172.82L192.22 173.40L188.46 173.99L184.70 174.58L180.94 175.20L177.18 175.85L173.43 176.55L169.67 177.34L165.91 178.24L162.15 179.26L158.39 180.38L154.63 181.56L150.88 182.79L147.12 184.05L143.36 185.32L139.60 186.60Z" fill="#E69F00" fill-opacity="0.5"/><line x1="139.60" y1="183.60" x2="229.80" y2="161.10" stroke="#E69F00" stroke-width="1.6"/></g><rect x="141.35" y="140.70" width="37.2" height="10.5" rx="1.8" fill="#fff" fill-opacity="0.8" stroke="#7CCBB2" stroke-width="0.75"/><text x="143.35" y="147.80" font-size="8.8" fill="#1B9E77" ><tspan font-style="italic">R</tspan> = 0.32</text><rect x="192.85" y="140.70" width="37.2" height="10.5" rx="1.8" fill="#fff" fill-opacity="0.8" stroke="#F0C870" stroke-width="0.75"/><text x="194.85" y="147.80" font-size="8.8" fill="#E69F00" ><tspan font-style="italic">R</tspan> = 0.45</text><rect x="238.80" y="122.40" width="97.80" height="14.40" fill="#fff" stroke="#D6D6D6" stroke-width="0.7"/><text transform="translate(287.70 132.60)" font-size="8.3" fill="#1A1A1A" text-anchor="middle" font-weight="bold">V67</text><clipPath id="cA21"><rect x="238.70" y="136.80" width="98.00" height="76.20"/></clipPath><line x1="266.80" y1="136.80" x2="266.80" y2="213.00" stroke="#EBEBEB" stroke-width="0.55"/><line x1="297.20" y1="136.80" x2="297.20" y2="213.00" stroke="#EBEBEB" stroke-width="0.55"/><line x1="327.60" y1="136.80" x2="327.60" y2="213.00" stroke="#EBEBEB" stroke-width="0.55"/><line x1="238.70" y1="200.85" x2="336.70" y2="200.85" stroke="#EBEBEB" stroke-width="0.55"/><line x1="238.70" y1="183.57" x2="336.70" y2="183.57" stroke="#EBEBEB" stroke-width="0.55"/><line x1="238.70" y1="166.29" x2="336.70" y2="166.29" stroke="#EBEBEB" stroke-width="0.55"/><line x1="238.70" y1="149.01" x2="336.70" y2="149.01" stroke="#EBEBEB" stroke-width="0.55"/><line x1="266.80" y1="213.00" x2="266.80" y2="215.60" stroke="#333" stroke-width="0.55"/><text x="266.80" y="222.10" font-size="7.4" fill="#4D4D4D" text-anchor="middle" font-weight="normal" font-style="normal" >20</text><line x1="297.20" y1="213.00" x2="297.20" y2="215.60" stroke="#333" stroke-width="0.55"/><text x="297.20" y="222.10" font-size="7.4" fill="#4D4D4D" text-anchor="middle" font-weight="normal" font-style="normal" >40</text><line x1="327.60" y1="213.00" x2="327.60" y2="215.60" stroke="#333" stroke-width="0.55"/><text x="327.60" y="222.10" font-size="7.4" fill="#4D4D4D" text-anchor="middle" font-weight="normal" font-style="normal" >60</text><g clip-path="url(#cA21)"><circle cx="277.7" cy="153.1" r="1.4" fill="#009E73"/><circle cx="248.8" cy="159.1" r="1.4" fill="#009E73"/><circle cx="259.7" cy="162.7" r="1.4" fill="#009E73"/><circle cx="261.1" cy="164.2" r="1.4" fill="#009E73"/><circle cx="264.7" cy="159.8" r="1.4" fill="#009E73"/><circle cx="269.1" cy="165.6" r="1.4" fill="#009E73"/><circle cx="271.2" cy="164.9" r="1.4" fill="#009E73"/><circle cx="270.5" cy="161.3" r="1.4" fill="#009E73"/><circle cx="275.6" cy="167.8" r="1.4" fill="#009E73"/><circle cx="277.0" cy="169.2" r="1.4" fill="#009E73"/><circle cx="274.8" cy="170.7" r="1.4" fill="#009E73"/><circle cx="278.5" cy="161.3" r="1.4" fill="#009E73"/><circle cx="282.1" cy="162.0" r="1.4" fill="#009E73"/><circle cx="284.2" cy="163.5" r="1.4" fill="#009E73"/><circle cx="285.7" cy="162.7" r="1.4" fill="#009E73"/><circle cx="287.9" cy="157.7" r="1.4" fill="#009E73"/><circle cx="282.1" cy="170.7" r="1.4" fill="#009E73"/><circle cx="287.9" cy="168.5" r="1.4" fill="#009E73"/><circle cx="257.5" cy="166.3" r="1.4" fill="#009E73"/><circle cx="255.3" cy="167.1" r="1.4" fill="#009E73"/><circle cx="256.1" cy="170.7" r="1.4" fill="#009E73"/><circle cx="260.4" cy="170.7" r="1.4" fill="#009E73"/><circle cx="263.3" cy="170.0" r="1.4" fill="#009E73"/><circle cx="264.7" cy="171.4" r="1.4" fill="#009E73"/><circle cx="268.3" cy="172.1" r="1.4" fill="#009E73"/><circle cx="271.2" cy="172.1" r="1.4" fill="#009E73"/><circle cx="245.9" cy="170.7" r="1.4" fill="#009E73"/><circle cx="248.8" cy="170.0" r="1.4" fill="#009E73"/><circle cx="252.5" cy="172.1" r="1.4" fill="#009E73"/><circle cx="292.2" cy="171.4" r="1.4" fill="#009E73"/><circle cx="332.7" cy="170.7" r="1.4" fill="#009E73"/><circle cx="243.1" cy="176.2" r="1.4" fill="#009E73"/><circle cx="247.4" cy="175.4" r="1.4" fill="#009E73"/><circle cx="256.8" cy="174.7" r="1.4" fill="#009E73"/><circle cx="260.4" cy="176.2" r="1.4" fill="#009E73"/><circle cx="264.0" cy="176.2" r="1.4" fill="#009E73"/><circle cx="268.3" cy="175.4" r="1.4" fill="#009E73"/><circle cx="271.2" cy="174.7" r="1.4" fill="#009E73"/><circle cx="249.6" cy="187.7" r="1.4" fill="#009E73"/><circle cx="252.5" cy="187.7" r="1.4" fill="#009E73"/><circle cx="256.1" cy="189.2" r="1.4" fill="#009E73"/><circle cx="255.3" cy="190.6" r="1.4" fill="#009E73"/><circle cx="258.2" cy="187.0" r="1.4" fill="#009E73"/><circle cx="259.7" cy="191.3" r="1.4" fill="#009E73"/><circle cx="261.1" cy="192.8" r="1.4" fill="#009E73"/><circle cx="263.3" cy="194.2" r="1.4" fill="#009E73"/><circle cx="264.7" cy="184.1" r="1.4" fill="#009E73"/><circle cx="265.5" cy="186.3" r="1.4" fill="#009E73"/><circle cx="266.2" cy="188.5" r="1.4" fill="#009E73"/><circle cx="266.9" cy="189.9" r="1.4" fill="#009E73"/><circle cx="267.6" cy="182.7" r="1.4" fill="#009E73"/><circle cx="246.7" cy="192.8" r="1.4" fill="#009E73"/><circle cx="248.8" cy="192.1" r="1.4" fill="#009E73"/><circle cx="259.0" cy="197.1" r="1.4" fill="#009E73"/><circle cx="259.7" cy="199.3" r="1.4" fill="#009E73"/><circle cx="256.1" cy="202.2" r="1.4" fill="#009E73"/><circle cx="248.1" cy="200.7" r="1.4" fill="#009E73"/><circle cx="272.0" cy="187.0" r="1.4" fill="#009E73"/><circle cx="274.8" cy="187.0" r="1.4" fill="#009E73"/><circle cx="277.0" cy="181.9" r="1.4" fill="#009E73"/><circle cx="279.2" cy="183.4" r="1.4" fill="#009E73"/><circle cx="283.5" cy="185.6" r="1.4" fill="#009E73"/><circle cx="287.1" cy="184.8" r="1.4" fill="#009E73"/><circle cx="289.3" cy="180.5" r="1.4" fill="#009E73"/><circle cx="291.5" cy="179.1" r="1.4" fill="#009E73"/><circle cx="295.8" cy="178.3" r="1.4" fill="#009E73"/><circle cx="305.9" cy="178.3" r="1.4" fill="#009E73"/><circle cx="308.8" cy="180.5" r="1.4" fill="#009E73"/><circle cx="312.4" cy="182.7" r="1.4" fill="#009E73"/><circle cx="324.0" cy="185.6" r="1.4" fill="#009E73"/><circle cx="326.2" cy="190.6" r="1.4" fill="#009E73"/><circle cx="328.3" cy="189.2" r="1.4" fill="#009E73"/><circle cx="316.0" cy="176.9" r="1.4" fill="#009E73"/><circle cx="273.4" cy="162.7" r="1.4" fill="#009E73"/><circle cx="266.9" cy="161.3" r="1.4" fill="#009E73"/><circle cx="275.6" cy="164.9" r="1.4" fill="#009E73"/><circle cx="279.9" cy="167.1" r="1.4" fill="#009E73"/><circle cx="270.5" cy="169.2" r="1.4" fill="#009E73"/><circle cx="265.5" cy="168.5" r="1.4" fill="#009E73"/><circle cx="251.0" cy="174.7" r="1.4" fill="#009E73"/><circle cx="253.9" cy="175.4" r="1.4" fill="#009E73"/><circle cx="265.5" cy="174.7" r="1.4" fill="#009E73"/><circle cx="261.8" cy="188.5" r="1.4" fill="#009E73"/><circle cx="264.7" cy="191.3" r="1.4" fill="#009E73"/><circle cx="266.9" cy="192.8" r="1.4" fill="#009E73"/><circle cx="253.9" cy="192.8" r="1.4" fill="#009E73"/><circle cx="257.5" cy="194.2" r="1.4" fill="#009E73"/><circle cx="251.7" cy="189.9" r="1.4" fill="#009E73"/><circle cx="263.3" cy="184.8" r="1.4" fill="#009E73"/><circle cx="269.1" cy="187.7" r="1.4" fill="#009E73"/><path d="M249.6 155.7L251.5 159.1L247.7 159.1Z" fill="#E69F00"/><path d="M247.4 158.6L249.3 162.0L245.5 162.0Z" fill="#E69F00"/><path d="M258.2 155.0L260.1 158.4L256.3 158.4Z" fill="#E69F00"/><path d="M265.5 156.4L267.4 159.8L263.6 159.8Z" fill="#E69F00"/><path d="M271.2 156.4L273.1 159.8L269.3 159.8Z" fill="#E69F00"/><path d="M276.3 160.0L278.2 163.5L274.4 163.5Z" fill="#E69F00"/><path d="M282.8 154.2L284.7 157.7L280.9 157.7Z" fill="#E69F00"/><path d="M284.2 152.8L286.1 156.2L282.3 156.2Z" fill="#E69F00"/><path d="M285.7 153.5L287.6 156.9L283.8 156.9Z" fill="#E69F00"/><path d="M288.6 159.3L290.5 162.7L286.7 162.7Z" fill="#E69F00"/><path d="M292.2 157.8L294.1 161.3L290.3 161.3Z" fill="#E69F00"/><path d="M287.9 162.2L289.8 165.6L286.0 165.6Z" fill="#E69F00"/><path d="M294.4 164.3L296.3 167.8L292.5 167.8Z" fill="#E69F00"/><path d="M266.2 160.7L268.1 164.2L264.3 164.2Z" fill="#E69F00"/><path d="M266.9 166.5L268.8 170.0L265.0 170.0Z" fill="#E69F00"/><path d="M268.3 168.7L270.2 172.1L266.4 172.1Z" fill="#E69F00"/><path d="M253.9 167.2L255.8 170.7L252.0 170.7Z" fill="#E69F00"/><path d="M253.2 169.4L255.1 172.8L251.3 172.8Z" fill="#E69F00"/><path d="M245.2 165.8L247.1 169.2L243.3 169.2Z" fill="#E69F00"/><path d="M277.0 160.7L278.9 164.2L275.1 164.2Z" fill="#E69F00"/><path d="M305.9 162.9L307.8 166.3L304.0 166.3Z" fill="#E69F00"/><path d="M312.4 162.9L314.3 166.3L310.5 166.3Z" fill="#E69F00"/><path d="M332.7 158.6L334.6 162.0L330.8 162.0Z" fill="#E69F00"/><path d="M243.1 185.7L245.0 189.2L241.2 189.2Z" fill="#E69F00"/><path d="M244.5 192.2L246.4 195.7L242.6 195.7Z" fill="#E69F00"/><path d="M245.9 193.7L247.8 197.1L244.0 197.1Z" fill="#E69F00"/><path d="M249.6 193.0L251.5 196.4L247.7 196.4Z" fill="#E69F00"/><path d="M253.2 186.5L255.1 189.9L251.3 189.9Z" fill="#E69F00"/><path d="M256.8 190.8L258.7 194.2L254.9 194.2Z" fill="#E69F00"/><path d="M261.8 190.1L263.7 193.5L259.9 193.5Z" fill="#E69F00"/><path d="M264.0 186.5L265.9 189.9L262.1 189.9Z" fill="#E69F00"/><path d="M264.7 185.0L266.6 188.4L262.8 188.4Z" fill="#E69F00"/><path d="M266.9 190.1L268.8 193.5L265.0 193.5Z" fill="#E69F00"/><path d="M267.6 192.2L269.5 195.7L265.7 195.7Z" fill="#E69F00"/><path d="M268.3 180.7L270.2 184.1L266.4 184.1Z" fill="#E69F00"/><path d="M273.4 189.3L275.3 192.8L271.5 192.8Z" fill="#E69F00"/><path d="M274.8 187.9L276.7 191.3L272.9 191.3Z" fill="#E69F00"/><path d="M276.3 182.8L278.2 186.3L274.4 186.3Z" fill="#E69F00"/><path d="M277.7 185.0L279.6 188.4L275.8 188.4Z" fill="#E69F00"/><path d="M279.2 186.5L281.1 189.9L277.3 189.9Z" fill="#E69F00"/><path d="M287.9 189.6L289.8 193.1L286.0 193.1Z" fill="#E69F00"/><path d="M255.3 198.7L257.2 202.2L253.4 202.2Z" fill="#E69F00"/><path d="M324.0 178.5L325.9 181.9L322.1 181.9Z" fill="#E69F00"/><path d="M298.7 177.1L300.6 180.5L296.8 180.5Z" fill="#E69F00"/><path d="M269.1 160.0L271.0 163.5L267.2 163.5Z" fill="#E69F00"/><path d="M273.4 159.3L275.3 162.7L271.5 162.7Z" fill="#E69F00"/><path d="M279.2 157.1L281.1 160.6L277.3 160.6Z" fill="#E69F00"/><path d="M246.7 186.5L248.6 189.9L244.8 189.9Z" fill="#E69F00"/><path d="M244.5 185.0L246.4 188.4L242.6 188.4Z" fill="#E69F00"/><path d="M248.1 190.8L250.0 194.2L246.2 194.2Z" fill="#E69F00"/><path d="M251.7 190.8L253.6 194.2L249.8 194.2Z" fill="#E69F00"/><path d="M259.7 191.5L261.6 194.9L257.8 194.9Z" fill="#E69F00"/><path d="M264.7 190.8L266.6 194.2L262.8 194.2Z" fill="#E69F00"/><path d="M266.9 187.9L268.8 191.3L265.0 191.3Z" fill="#E69F00"/><path d="M262.6 188.6L264.5 192.1L260.7 192.1Z" fill="#E69F00"/><path d="M259.7 185.7L261.6 189.2L257.8 189.2Z" fill="#E69F00"/><line x1="221.20" y1="235.41" x2="418.80" y2="10.77" stroke="#595959" stroke-width="0.65" stroke-dasharray="3.3 3.1"/><path d="M243.00 177.40L246.72 177.34L250.44 177.27L254.16 177.19L257.88 177.08L261.60 176.94L265.32 176.77L269.05 176.55L272.77 176.28L276.49 175.95L280.21 175.56L283.93 175.14L287.65 174.68L291.37 174.21L295.09 173.72L298.81 173.22L302.53 172.71L306.25 172.19L309.97 171.67L313.70 171.15L317.42 170.62L321.14 170.10L324.86 169.57L328.58 169.03L332.30 168.50L332.30 178.70L328.58 178.67L324.86 178.63L321.14 178.60L317.42 178.58L313.70 178.55L309.97 178.53L306.25 178.51L302.53 178.49L298.81 178.48L295.09 178.48L291.37 178.49L287.65 178.52L283.93 178.56L280.21 178.64L276.49 178.75L272.77 178.92L269.05 179.15L265.32 179.43L261.60 179.76L257.88 180.12L254.16 180.51L250.44 180.93L246.72 181.36L243.00 181.80Z" fill="#009E73" fill-opacity="0.5"/><line x1="243.00" y1="179.60" x2="332.30" y2="173.60" stroke="#009E73" stroke-width="1.6"/><path d="M243.00 181.20L246.72 180.67L250.44 180.13L254.16 179.57L257.88 178.98L261.60 178.35L265.32 177.64L269.05 176.84L272.77 175.93L276.49 174.93L280.21 173.85L283.93 172.72L287.65 171.56L291.37 170.38L295.09 169.18L298.81 167.97L302.53 166.75L306.25 165.53L309.97 164.30L313.70 163.08L317.42 161.84L321.14 160.61L324.86 159.37L328.58 158.14L332.30 156.90L332.30 169.50L328.58 170.02L324.86 170.54L321.14 171.07L317.42 171.59L313.70 172.12L309.97 172.65L306.25 173.18L302.53 173.71L298.81 174.26L295.09 174.81L291.37 175.36L287.65 175.94L283.93 176.54L280.21 177.17L276.49 177.85L272.77 178.60L269.05 179.45L265.32 180.41L261.60 181.46L257.88 182.59L254.16 183.76L250.44 184.95L246.72 186.17L243.00 187.40Z" fill="#E69F00" fill-opacity="0.5"/><line x1="243.00" y1="184.30" x2="332.30" y2="163.20" stroke="#E69F00" stroke-width="1.6"/><path d="M243.00 177.40L246.72 177.34L250.44 177.27L254.16 177.19L257.88 177.08L261.60 176.94L265.32 176.77L269.05 176.55L272.77 176.28L276.49 175.95L280.21 175.56L283.93 175.14L287.65 174.68L291.37 174.21L295.09 173.72L298.81 173.22L302.53 172.71L306.25 172.19L309.97 171.67L313.70 171.15L317.42 170.62L321.14 170.10L324.86 169.57L328.58 169.03L332.30 168.50L332.30 178.70L328.58 178.67L324.86 178.63L321.14 178.60L317.42 178.58L313.70 178.55L309.97 178.53L306.25 178.51L302.53 178.49L298.81 178.48L295.09 178.48L291.37 178.49L287.65 178.52L283.93 178.56L280.21 178.64L276.49 178.75L272.77 178.92L269.05 179.15L265.32 179.43L261.60 179.76L257.88 180.12L254.16 180.51L250.44 180.93L246.72 181.36L243.00 181.80Z" fill="#009E73" fill-opacity="0.5"/><line x1="243.00" y1="179.60" x2="332.30" y2="173.60" stroke="#009E73" stroke-width="1.6"/><path d="M243.00 181.20L246.72 180.67L250.44 180.13L254.16 179.57L257.88 178.98L261.60 178.35L265.32 177.64L269.05 176.84L272.77 175.93L276.49 174.93L280.21 173.85L283.93 172.72L287.65 171.56L291.37 170.38L295.09 169.18L298.81 167.97L302.53 166.75L306.25 165.53L309.97 164.30L313.70 163.08L317.42 161.84L321.14 160.61L324.86 159.37L328.58 158.14L332.30 156.90L332.30 169.50L328.58 170.02L324.86 170.54L321.14 171.07L317.42 171.59L313.70 172.12L309.97 172.65L306.25 173.18L302.53 173.71L298.81 174.26L295.09 174.81L291.37 175.36L287.65 175.94L283.93 176.54L280.21 177.17L276.49 177.85L272.77 178.60L269.05 179.45L265.32 180.41L261.60 181.46L257.88 182.59L254.16 183.76L250.44 184.95L246.72 186.17L243.00 187.40Z" fill="#E69F00" fill-opacity="0.5"/><line x1="243.00" y1="184.30" x2="332.30" y2="163.20" stroke="#E69F00" stroke-width="1.6"/></g><rect x="244.05" y="140.70" width="37.2" height="10.5" rx="1.8" fill="#fff" fill-opacity="0.8" stroke="#7CCBB2" stroke-width="0.75"/><text x="246.05" y="147.80" font-size="8.8" fill="#1B9E77" ><tspan font-style="italic">R</tspan> = 0.16</text><rect x="295.75" y="140.70" width="37.2" height="10.5" rx="1.8" fill="#fff" fill-opacity="0.8" stroke="#F0C870" stroke-width="0.75"/><text x="297.75" y="147.80" font-size="8.8" fill="#E69F00" ><tspan font-style="italic">R</tspan> = 0.40</text><rect x="33.40" y="217.90" width="97.80" height="14.40" fill="#fff" stroke="#D6D6D6" stroke-width="0.7"/><text transform="translate(82.30 228.10)" font-size="8.3" fill="#1A1A1A" text-anchor="middle" font-weight="bold">V79</text><clipPath id="cA02"><rect x="33.30" y="232.30" width="98.00" height="76.20"/></clipPath><line x1="61.40" y1="232.30" x2="61.40" y2="308.50" stroke="#EBEBEB" stroke-width="0.55"/><line x1="91.80" y1="232.30" x2="91.80" y2="308.50" stroke="#EBEBEB" stroke-width="0.55"/><line x1="122.20" y1="232.30" x2="122.20" y2="308.50" stroke="#EBEBEB" stroke-width="0.55"/><line x1="33.30" y1="296.35" x2="131.30" y2="296.35" stroke="#EBEBEB" stroke-width="0.55"/><line x1="33.30" y1="279.07" x2="131.30" y2="279.07" stroke="#EBEBEB" stroke-width="0.55"/><line x1="33.30" y1="261.79" x2="131.30" y2="261.79" stroke="#EBEBEB" stroke-width="0.55"/><line x1="33.30" y1="244.51" x2="131.30" y2="244.51" stroke="#EBEBEB" stroke-width="0.55"/><line x1="30.70" y1="296.35" x2="33.30" y2="296.35" stroke="#333" stroke-width="0.55"/><text x="28.80" y="298.95" font-size="7.5" fill="#4D4D4D" text-anchor="end" font-weight="normal" font-style="normal" >10</text><line x1="30.70" y1="279.07" x2="33.30" y2="279.07" stroke="#333" stroke-width="0.55"/><text x="28.80" y="281.67" font-size="7.5" fill="#4D4D4D" text-anchor="end" font-weight="normal" font-style="normal" >20</text><line x1="30.70" y1="261.79" x2="33.30" y2="261.79" stroke="#333" stroke-width="0.55"/><text x="28.80" y="264.39" font-size="7.5" fill="#4D4D4D" text-anchor="end" font-weight="normal" font-style="normal" >30</text><line x1="30.70" y1="244.51" x2="33.30" y2="244.51" stroke="#333" stroke-width="0.55"/><text x="28.80" y="247.11" font-size="7.5" fill="#4D4D4D" text-anchor="end" font-weight="normal" font-style="normal" >40</text><line x1="61.40" y1="308.50" x2="61.40" y2="311.10" stroke="#333" stroke-width="0.55"/><text x="61.40" y="317.60" font-size="7.4" fill="#4D4D4D" text-anchor="middle" font-weight="normal" font-style="normal" >20</text><line x1="91.80" y1="308.50" x2="91.80" y2="311.10" stroke="#333" stroke-width="0.55"/><text x="91.80" y="317.60" font-size="7.4" fill="#4D4D4D" text-anchor="middle" font-weight="normal" font-style="normal" >40</text><line x1="122.20" y1="308.50" x2="122.20" y2="311.10" stroke="#333" stroke-width="0.55"/><text x="122.20" y="317.60" font-size="7.4" fill="#4D4D4D" text-anchor="middle" font-weight="normal" font-style="normal" >60</text><g clip-path="url(#cA02)"><circle cx="41.7" cy="259.9" r="1.4" fill="#009E73"/><circle cx="43.1" cy="264.2" r="1.4" fill="#009E73"/><circle cx="39.5" cy="268.3" r="1.4" fill="#009E73"/><circle cx="43.8" cy="267.8" r="1.4" fill="#009E73"/><circle cx="50.3" cy="262.1" r="1.4" fill="#009E73"/><circle cx="51.8" cy="261.6" r="1.4" fill="#009E73"/><circle cx="49.6" cy="266.4" r="1.4" fill="#009E73"/><circle cx="54.7" cy="265.7" r="1.4" fill="#009E73"/><circle cx="56.8" cy="266.4" r="1.4" fill="#009E73"/><circle cx="59.0" cy="263.5" r="1.4" fill="#009E73"/><circle cx="59.7" cy="265.0" r="1.4" fill="#009E73"/><circle cx="60.5" cy="267.8" r="1.4" fill="#009E73"/><circle cx="61.9" cy="262.1" r="1.4" fill="#009E73"/><circle cx="63.3" cy="259.2" r="1.4" fill="#009E73"/><circle cx="64.1" cy="261.3" r="1.4" fill="#009E73"/><circle cx="65.5" cy="256.3" r="1.4" fill="#009E73"/><circle cx="66.2" cy="259.2" r="1.4" fill="#009E73"/><circle cx="67.7" cy="261.3" r="1.4" fill="#009E73"/><circle cx="69.1" cy="262.1" r="1.4" fill="#009E73"/><circle cx="71.3" cy="257.0" r="1.4" fill="#009E73"/><circle cx="72.7" cy="259.9" r="1.4" fill="#009E73"/><circle cx="71.3" cy="265.7" r="1.4" fill="#009E73"/><circle cx="72.7" cy="265.0" r="1.4" fill="#009E73"/><circle cx="76.4" cy="262.1" r="1.4" fill="#009E73"/><circle cx="80.7" cy="262.1" r="1.4" fill="#009E73"/><circle cx="82.9" cy="260.6" r="1.4" fill="#009E73"/><circle cx="88.6" cy="262.1" r="1.4" fill="#009E73"/><circle cx="63.3" cy="268.6" r="1.4" fill="#009E73"/><circle cx="66.2" cy="267.8" r="1.4" fill="#009E73"/><circle cx="53.2" cy="261.3" r="1.4" fill="#009E73"/><circle cx="39.5" cy="271.9" r="1.4" fill="#009E73"/><circle cx="44.6" cy="270.4" r="1.4" fill="#009E73"/><circle cx="51.8" cy="270.4" r="1.4" fill="#009E73"/><circle cx="56.8" cy="270.4" r="1.4" fill="#009E73"/><circle cx="63.3" cy="269.7" r="1.4" fill="#009E73"/><circle cx="43.8" cy="283.5" r="1.4" fill="#009E73"/><circle cx="43.8" cy="287.1" r="1.4" fill="#009E73"/><circle cx="46.7" cy="286.3" r="1.4" fill="#009E73"/><circle cx="43.8" cy="290.7" r="1.4" fill="#009E73"/><circle cx="40.9" cy="292.8" r="1.4" fill="#009E73"/><circle cx="53.2" cy="282.7" r="1.4" fill="#009E73"/><circle cx="54.0" cy="287.8" r="1.4" fill="#009E73"/><circle cx="54.7" cy="288.5" r="1.4" fill="#009E73"/><circle cx="55.4" cy="286.3" r="1.4" fill="#009E73"/><circle cx="51.1" cy="292.1" r="1.4" fill="#009E73"/><circle cx="52.5" cy="294.3" r="1.4" fill="#009E73"/><circle cx="59.7" cy="278.4" r="1.4" fill="#009E73"/><circle cx="61.2" cy="283.5" r="1.4" fill="#009E73"/><circle cx="62.6" cy="282.7" r="1.4" fill="#009E73"/><circle cx="59.0" cy="289.2" r="1.4" fill="#009E73"/><circle cx="62.6" cy="292.8" r="1.4" fill="#009E73"/><circle cx="59.7" cy="295.7" r="1.4" fill="#009E73"/><circle cx="56.8" cy="300.1" r="1.4" fill="#009E73"/><circle cx="64.8" cy="289.2" r="1.4" fill="#009E73"/><circle cx="69.1" cy="276.2" r="1.4" fill="#009E73"/><circle cx="71.3" cy="282.0" r="1.4" fill="#009E73"/><circle cx="69.8" cy="287.1" r="1.4" fill="#009E73"/><circle cx="72.7" cy="276.9" r="1.4" fill="#009E73"/><circle cx="84.3" cy="274.1" r="1.4" fill="#009E73"/><circle cx="87.2" cy="278.4" r="1.4" fill="#009E73"/><circle cx="90.1" cy="274.8" r="1.4" fill="#009E73"/><circle cx="95.9" cy="276.9" r="1.4" fill="#009E73"/><circle cx="99.5" cy="275.5" r="1.4" fill="#009E73"/><circle cx="106.7" cy="272.6" r="1.4" fill="#009E73"/><circle cx="109.6" cy="272.6" r="1.4" fill="#009E73"/><circle cx="119.7" cy="271.9" r="1.4" fill="#009E73"/><circle cx="125.5" cy="270.4" r="1.4" fill="#009E73"/><circle cx="81.4" cy="295.0" r="1.4" fill="#009E73"/><circle cx="66.2" cy="265.7" r="1.4" fill="#009E73"/><circle cx="61.2" cy="265.7" r="1.4" fill="#009E73"/><circle cx="53.2" cy="269.7" r="1.4" fill="#009E73"/><circle cx="55.4" cy="270.4" r="1.4" fill="#009E73"/><circle cx="59.0" cy="269.7" r="1.4" fill="#009E73"/><circle cx="61.2" cy="270.4" r="1.4" fill="#009E73"/><circle cx="65.5" cy="270.4" r="1.4" fill="#009E73"/><circle cx="67.7" cy="271.2" r="1.4" fill="#009E73"/><circle cx="48.9" cy="282.7" r="1.4" fill="#009E73"/><circle cx="56.1" cy="283.5" r="1.4" fill="#009E73"/><circle cx="58.3" cy="279.8" r="1.4" fill="#009E73"/><circle cx="51.8" cy="289.2" r="1.4" fill="#009E73"/><path d="M40.9 250.0L42.8 253.4L39.0 253.4Z" fill="#E69F00"/><path d="M43.8 253.6L45.7 257.0L41.9 257.0Z" fill="#E69F00"/><path d="M51.8 250.7L53.7 254.1L49.9 254.1Z" fill="#E69F00"/><path d="M56.1 252.1L58.0 255.6L54.2 255.6Z" fill="#E69F00"/><path d="M55.4 255.7L57.3 259.2L53.5 259.2Z" fill="#E69F00"/><path d="M59.7 257.9L61.6 261.3L57.8 261.3Z" fill="#E69F00"/><path d="M62.6 255.0L64.5 258.5L60.7 258.5Z" fill="#E69F00"/><path d="M66.2 251.4L68.1 254.8L64.3 254.8Z" fill="#E69F00"/><path d="M71.3 251.4L73.2 254.8L69.4 254.8Z" fill="#E69F00"/><path d="M67.0 256.5L68.9 259.9L65.1 259.9Z" fill="#E69F00"/><path d="M76.4 255.7L78.3 259.2L74.5 259.2Z" fill="#E69F00"/><path d="M79.2 256.5L81.1 259.9L77.3 259.9Z" fill="#E69F00"/><path d="M80.7 257.9L82.6 261.3L78.8 261.3Z" fill="#E69F00"/><path d="M82.9 252.8L84.8 256.3L81.0 256.3Z" fill="#E69F00"/><path d="M89.4 254.7L91.3 258.2L87.5 258.2Z" fill="#E69F00"/><path d="M82.9 261.5L84.8 265.0L81.0 265.0Z" fill="#E69F00"/><path d="M72.0 252.1L73.9 255.6L70.1 255.6Z" fill="#E69F00"/><path d="M102.4 257.9L104.3 261.3L100.5 261.3Z" fill="#E69F00"/><path d="M106.7 257.2L108.6 260.6L104.8 260.6Z" fill="#E69F00"/><path d="M126.9 258.6L128.8 262.1L125.0 262.1Z" fill="#E69F00"/><path d="M100.9 260.1L102.8 263.5L99.0 263.5Z" fill="#E69F00"/><path d="M38.8 279.3L40.7 282.7L36.9 282.7Z" fill="#E69F00"/><path d="M39.5 282.9L41.4 286.3L37.6 286.3Z" fill="#E69F00"/><path d="M43.1 280.7L45.0 284.2L41.2 284.2Z" fill="#E69F00"/><path d="M46.7 281.5L48.6 284.9L44.8 284.9Z" fill="#E69F00"/><path d="M37.3 290.1L39.2 293.6L35.4 293.6Z" fill="#E69F00"/><path d="M39.5 289.4L41.4 292.8L37.6 292.8Z" fill="#E69F00"/><path d="M39.5 294.5L41.4 297.9L37.6 297.9Z" fill="#E69F00"/><path d="M44.6 293.7L46.5 297.2L42.7 297.2Z" fill="#E69F00"/><path d="M43.1 298.1L45.0 301.5L41.2 301.5Z" fill="#E69F00"/><path d="M49.6 285.1L51.5 288.5L47.7 288.5Z" fill="#E69F00"/><path d="M51.8 282.9L53.7 286.3L49.9 286.3Z" fill="#E69F00"/><path d="M54.7 284.3L56.6 287.8L52.8 287.8Z" fill="#E69F00"/><path d="M58.3 282.9L60.2 286.3L56.4 286.3Z" fill="#E69F00"/><path d="M59.0 285.8L60.9 289.2L57.1 289.2Z" fill="#E69F00"/><path d="M59.7 288.7L61.6 292.1L57.8 292.1Z" fill="#E69F00"/><path d="M56.8 293.0L58.7 296.5L54.9 296.5Z" fill="#E69F00"/><path d="M61.9 289.4L63.8 292.8L60.0 292.8Z" fill="#E69F00"/><path d="M64.8 292.3L66.7 295.7L62.9 295.7Z" fill="#E69F00"/><path d="M61.2 278.6L63.1 282.0L59.3 282.0Z" fill="#E69F00"/><path d="M67.7 277.8L69.6 281.3L65.8 281.3Z" fill="#E69F00"/><path d="M69.1 281.5L71.0 284.9L67.2 284.9Z" fill="#E69F00"/><path d="M72.7 283.6L74.6 287.1L70.8 287.1Z" fill="#E69F00"/><path d="M72.7 275.7L74.6 279.1L70.8 279.1Z" fill="#E69F00"/><path d="M81.4 290.8L83.3 294.3L79.5 294.3Z" fill="#E69F00"/><path d="M87.2 275.7L89.1 279.1L85.3 279.1Z" fill="#E69F00"/><path d="M95.9 277.8L97.8 281.3L94.0 281.3Z" fill="#E69F00"/><path d="M118.3 271.3L120.2 274.8L116.4 274.8Z" fill="#E69F00"/><path d="M77.8 257.2L79.7 260.6L75.9 260.6Z" fill="#E69F00"/><path d="M81.4 258.6L83.3 262.1L79.5 262.1Z" fill="#E69F00"/><path d="M56.1 257.9L58.0 261.3L54.2 261.3Z" fill="#E69F00"/><path d="M68.4 263.0L70.3 266.4L66.5 266.4Z" fill="#E69F00"/><path d="M40.9 281.5L42.8 284.9L39.0 284.9Z" fill="#E69F00"/><path d="M44.6 282.2L46.5 285.6L42.7 285.6Z" fill="#E69F00"/><path d="M53.2 281.5L55.1 284.9L51.3 284.9Z" fill="#E69F00"/><path d="M56.8 280.7L58.7 284.2L54.9 284.2Z" fill="#E69F00"/><path d="M59.7 277.8L61.6 281.3L57.8 281.3Z" fill="#E69F00"/><path d="M61.9 280.7L63.8 284.2L60.0 284.2Z" fill="#E69F00"/><path d="M51.1 288.7L53.0 292.1L49.2 292.1Z" fill="#E69F00"/><line x1="15.80" y1="330.91" x2="213.40" y2="106.27" stroke="#595959" stroke-width="0.65" stroke-dasharray="3.3 3.1"/><path d="M36.60 273.60L40.36 273.44L44.12 273.27L47.88 273.09L51.63 272.88L55.39 272.66L59.15 272.40L62.91 272.11L66.67 271.78L70.42 271.39L74.18 270.95L77.94 270.47L81.70 269.96L85.46 269.43L89.22 268.89L92.97 268.34L96.73 267.79L100.49 267.22L104.25 266.66L108.01 266.08L111.77 265.51L115.52 264.94L119.28 264.36L123.04 263.78L126.80 263.20L126.80 272.80L123.04 272.85L119.28 272.89L115.52 272.94L111.77 272.99L108.01 273.04L104.25 273.09L100.49 273.15L96.73 273.21L92.97 273.28L89.22 273.36L85.46 273.44L81.70 273.54L77.94 273.66L74.18 273.80L70.42 273.99L66.67 274.22L62.91 274.51L59.15 274.85L55.39 275.22L51.63 275.62L47.88 276.04L44.12 276.48L40.36 276.93L36.60 277.40Z" fill="#009E73" fill-opacity="0.5"/><line x1="36.60" y1="275.50" x2="126.80" y2="268.00" stroke="#009E73" stroke-width="1.6"/><path d="M36.60 276.40L40.36 275.89L44.12 275.38L47.88 274.84L51.63 274.28L55.39 273.66L59.15 272.97L62.91 272.17L66.67 271.23L70.42 270.20L74.18 269.10L77.94 267.95L81.70 266.76L85.46 265.55L89.22 264.33L92.97 263.09L96.73 261.85L100.49 260.61L104.25 259.35L108.01 258.10L111.77 256.84L115.52 255.58L119.28 254.32L123.04 253.06L126.80 251.80L126.80 264.40L123.04 264.95L119.28 265.49L115.52 266.04L111.77 266.59L108.01 267.14L104.25 267.70L100.49 268.25L96.73 268.81L92.97 269.38L89.22 269.96L85.46 270.54L81.70 271.14L77.94 271.76L74.18 272.42L70.42 273.12L66.67 273.90L62.91 274.77L59.15 275.78L55.39 276.90L51.63 278.09L47.88 279.33L44.12 280.61L40.36 281.90L36.60 283.20Z" fill="#E69F00" fill-opacity="0.5"/><line x1="36.60" y1="279.80" x2="126.80" y2="258.10" stroke="#E69F00" stroke-width="1.6"/><path d="M36.60 273.60L40.36 273.44L44.12 273.27L47.88 273.09L51.63 272.88L55.39 272.66L59.15 272.40L62.91 272.11L66.67 271.78L70.42 271.39L74.18 270.95L77.94 270.47L81.70 269.96L85.46 269.43L89.22 268.89L92.97 268.34L96.73 267.79L100.49 267.22L104.25 266.66L108.01 266.08L111.77 265.51L115.52 264.94L119.28 264.36L123.04 263.78L126.80 263.20L126.80 272.80L123.04 272.85L119.28 272.89L115.52 272.94L111.77 272.99L108.01 273.04L104.25 273.09L100.49 273.15L96.73 273.21L92.97 273.28L89.22 273.36L85.46 273.44L81.70 273.54L77.94 273.66L74.18 273.80L70.42 273.99L66.67 274.22L62.91 274.51L59.15 274.85L55.39 275.22L51.63 275.62L47.88 276.04L44.12 276.48L40.36 276.93L36.60 277.40Z" fill="#009E73" fill-opacity="0.5"/><line x1="36.60" y1="275.50" x2="126.80" y2="268.00" stroke="#009E73" stroke-width="1.6"/><path d="M36.60 276.40L40.36 275.89L44.12 275.38L47.88 274.84L51.63 274.28L55.39 273.66L59.15 272.97L62.91 272.17L66.67 271.23L70.42 270.20L74.18 269.10L77.94 267.95L81.70 266.76L85.46 265.55L89.22 264.33L92.97 263.09L96.73 261.85L100.49 260.61L104.25 259.35L108.01 258.10L111.77 256.84L115.52 255.58L119.28 254.32L123.04 253.06L126.80 251.80L126.80 264.40L123.04 264.95L119.28 265.49L115.52 266.04L111.77 266.59L108.01 267.14L104.25 267.70L100.49 268.25L96.73 268.81L92.97 269.38L89.22 269.96L85.46 270.54L81.70 271.14L77.94 271.76L74.18 272.42L70.42 273.12L66.67 273.90L62.91 274.77L59.15 275.78L55.39 276.90L51.63 278.09L47.88 279.33L44.12 280.61L40.36 281.90L36.60 283.20Z" fill="#E69F00" fill-opacity="0.5"/><line x1="36.60" y1="279.80" x2="126.80" y2="258.10" stroke="#E69F00" stroke-width="1.6"/></g><rect x="38.75" y="235.90" width="37.2" height="10.5" rx="1.8" fill="#fff" fill-opacity="0.8" stroke="#7CCBB2" stroke-width="0.75"/><text x="40.75" y="243.00" font-size="8.8" fill="#1B9E77" ><tspan font-style="italic">R</tspan> = 0.24</text><rect x="89.65" y="235.90" width="37.2" height="10.5" rx="1.8" fill="#fff" fill-opacity="0.8" stroke="#F0C870" stroke-width="0.75"/><text x="91.65" y="243.00" font-size="8.8" fill="#E69F00" ><tspan font-style="italic">R</tspan> = 0.43</text><text x="162.40" y="272.70" font-size="11.45" fill="#000" text-anchor="start" font-weight="normal" font-style="normal" >Include soil variables</text><circle cx="167.10" cy="284.1" r="3.05" fill="#009E73"/><path d="M167.30 290.50L171.18 297.30L163.42 297.30Z" fill="#E69F00"/><text x="177.50" y="287.00" font-size="8.35" fill="#1A1A1A" text-anchor="start" font-weight="normal" font-style="normal" >FALSE</text><text x="177.60" y="297.50" font-size="8.35" fill="#1A1A1A" text-anchor="start" font-weight="normal" font-style="normal" >TRUE</text><text x="346.00" y="9.60" font-size="11" fill="#000" text-anchor="start" font-weight="normal" font-style="normal" >B</text><text x="529.45" y="19.60" font-size="12.4" fill="#000" text-anchor="middle" font-weight="normal" font-style="normal" >DIS trait</text><text x="529.45" y="329.00" font-size="9.65" fill="#000" text-anchor="middle" font-weight="normal" font-style="normal" >Mean phenotype per environment</text><text x="360.40" y="174.70" font-size="9.65" fill="#000" text-anchor="middle" font-weight="normal" font-style="normal" transform="rotate(-90 360.40 174.70)">Predicted environment index</text><rect x="377.50" y="26.90" width="97.90" height="14.40" fill="#fff" stroke="#D6D6D6" stroke-width="0.7"/><text transform="translate(426.45 37.10)" font-size="8.3" fill="#1A1A1A" text-anchor="middle" font-weight="bold">all ECs</text><clipPath id="cB00"><rect x="377.40" y="41.30" width="98.10" height="76.20"/></clipPath><line x1="379.75" y1="41.30" x2="379.75" y2="117.50" stroke="#EBEBEB" stroke-width="0.55"/><line x1="403.24" y1="41.30" x2="403.24" y2="117.50" stroke="#EBEBEB" stroke-width="0.55"/><line x1="426.73" y1="41.30" x2="426.73" y2="117.50" stroke="#EBEBEB" stroke-width="0.55"/><line x1="450.21" y1="41.30" x2="450.21" y2="117.50" stroke="#EBEBEB" stroke-width="0.55"/><line x1="473.70" y1="41.30" x2="473.70" y2="117.50" stroke="#EBEBEB" stroke-width="0.55"/><line x1="377.40" y1="115.10" x2="475.50" y2="115.10" stroke="#EBEBEB" stroke-width="0.55"/><line x1="377.40" y1="97.12" x2="475.50" y2="97.12" stroke="#EBEBEB" stroke-width="0.55"/><line x1="377.40" y1="79.15" x2="475.50" y2="79.15" stroke="#EBEBEB" stroke-width="0.55"/><line x1="377.40" y1="61.17" x2="475.50" y2="61.17" stroke="#EBEBEB" stroke-width="0.55"/><line x1="377.40" y1="43.20" x2="475.50" y2="43.20" stroke="#EBEBEB" stroke-width="0.55"/><line x1="374.80" y1="115.10" x2="377.40" y2="115.10" stroke="#333" stroke-width="0.55"/><text x="372.90" y="117.70" font-size="7.5" fill="#4D4D4D" text-anchor="end" font-weight="normal" font-style="normal" >10</text><line x1="374.80" y1="97.12" x2="377.40" y2="97.12" stroke="#333" stroke-width="0.55"/><text x="372.90" y="99.72" font-size="7.5" fill="#4D4D4D" text-anchor="end" font-weight="normal" font-style="normal" >20</text><line x1="374.80" y1="79.15" x2="377.40" y2="79.15" stroke="#333" stroke-width="0.55"/><text x="372.90" y="81.75" font-size="7.5" fill="#4D4D4D" text-anchor="end" font-weight="normal" font-style="normal" >30</text><line x1="374.80" y1="61.17" x2="377.40" y2="61.17" stroke="#333" stroke-width="0.55"/><text x="372.90" y="63.77" font-size="7.5" fill="#4D4D4D" text-anchor="end" font-weight="normal" font-style="normal" >40</text><line x1="374.80" y1="43.20" x2="377.40" y2="43.20" stroke="#333" stroke-width="0.55"/><text x="372.90" y="45.80" font-size="7.5" fill="#4D4D4D" text-anchor="end" font-weight="normal" font-style="normal" >50</text><g clip-path="url(#cB00)"><circle cx="418.9" cy="54.7" r="1.4" fill="#009E73"/><circle cx="418.2" cy="56.2" r="1.4" fill="#009E73"/><circle cx="423.2" cy="57.2" r="1.4" fill="#009E73"/><circle cx="414.6" cy="59.8" r="1.4" fill="#009E73"/><circle cx="416.0" cy="59.8" r="1.4" fill="#009E73"/><circle cx="413.1" cy="62.7" r="1.4" fill="#009E73"/><circle cx="416.0" cy="64.1" r="1.4" fill="#009E73"/><circle cx="418.2" cy="64.1" r="1.4" fill="#009E73"/><circle cx="404.5" cy="63.4" r="1.4" fill="#009E73"/><circle cx="405.9" cy="62.7" r="1.4" fill="#009E73"/><circle cx="408.1" cy="65.6" r="1.4" fill="#009E73"/><circle cx="411.7" cy="64.8" r="1.4" fill="#009E73"/><circle cx="414.6" cy="66.3" r="1.4" fill="#009E73"/><circle cx="415.3" cy="67.7" r="1.4" fill="#009E73"/><circle cx="404.5" cy="70.6" r="1.4" fill="#009E73"/><circle cx="403.7" cy="72.1" r="1.4" fill="#009E73"/><circle cx="393.6" cy="67.0" r="1.4" fill="#009E73"/><circle cx="393.6" cy="71.3" r="1.4" fill="#009E73"/><circle cx="382.1" cy="72.1" r="1.4" fill="#009E73"/><circle cx="390.0" cy="72.8" r="1.4" fill="#009E73"/><circle cx="400.1" cy="73.5" r="1.4" fill="#009E73"/><circle cx="408.8" cy="71.3" r="1.4" fill="#009E73"/><circle cx="411.7" cy="72.8" r="1.4" fill="#009E73"/><circle cx="412.4" cy="74.2" r="1.4" fill="#009E73"/><circle cx="418.9" cy="75.0" r="1.4" fill="#009E73"/><circle cx="424.0" cy="71.3" r="1.4" fill="#009E73"/><circle cx="426.9" cy="63.4" r="1.4" fill="#009E73"/><circle cx="428.3" cy="64.8" r="1.4" fill="#009E73"/><circle cx="427.6" cy="67.0" r="1.4" fill="#009E73"/><circle cx="428.3" cy="68.5" r="1.4" fill="#009E73"/><circle cx="442.8" cy="61.2" r="1.4" fill="#009E73"/><circle cx="449.3" cy="59.1" r="1.4" fill="#009E73"/><circle cx="452.1" cy="62.0" r="1.4" fill="#009E73"/><circle cx="454.3" cy="62.7" r="1.4" fill="#009E73"/><circle cx="471.7" cy="61.2" r="1.4" fill="#009E73"/><circle cx="384.9" cy="77.1" r="1.4" fill="#009E73"/><circle cx="387.1" cy="76.4" r="1.4" fill="#009E73"/><circle cx="388.6" cy="77.8" r="1.4" fill="#009E73"/><circle cx="395.8" cy="77.8" r="1.4" fill="#009E73"/><circle cx="407.3" cy="76.4" r="1.4" fill="#009E73"/><circle cx="385.7" cy="79.7" r="1.4" fill="#009E73"/><circle cx="391.5" cy="80.4" r="1.4" fill="#009E73"/><circle cx="394.3" cy="79.7" r="1.4" fill="#009E73"/><circle cx="398.7" cy="80.4" r="1.4" fill="#009E73"/><circle cx="410.2" cy="84.1" r="1.4" fill="#009E73"/><circle cx="411.7" cy="83.3" r="1.4" fill="#009E73"/><circle cx="417.5" cy="84.1" r="1.4" fill="#009E73"/><circle cx="421.1" cy="82.6" r="1.4" fill="#009E73"/><circle cx="424.7" cy="85.5" r="1.4" fill="#009E73"/><circle cx="429.0" cy="86.2" r="1.4" fill="#009E73"/><circle cx="434.8" cy="82.6" r="1.4" fill="#009E73"/><circle cx="435.5" cy="87.7" r="1.4" fill="#009E73"/><circle cx="400.1" cy="86.9" r="1.4" fill="#009E73"/><circle cx="402.3" cy="89.1" r="1.4" fill="#009E73"/><circle cx="398.7" cy="89.8" r="1.4" fill="#009E73"/><circle cx="398.0" cy="92.0" r="1.4" fill="#009E73"/><circle cx="399.4" cy="93.5" r="1.4" fill="#009E73"/><circle cx="400.8" cy="94.2" r="1.4" fill="#009E73"/><circle cx="392.2" cy="94.2" r="1.4" fill="#009E73"/><circle cx="387.8" cy="97.8" r="1.4" fill="#009E73"/><circle cx="385.7" cy="101.4" r="1.4" fill="#009E73"/><circle cx="404.5" cy="90.6" r="1.4" fill="#009E73"/><circle cx="405.9" cy="91.3" r="1.4" fill="#009E73"/><circle cx="407.3" cy="89.1" r="1.4" fill="#009E73"/><circle cx="408.1" cy="87.7" r="1.4" fill="#009E73"/><circle cx="409.5" cy="89.8" r="1.4" fill="#009E73"/><circle cx="410.2" cy="92.0" r="1.4" fill="#009E73"/><circle cx="411.7" cy="89.1" r="1.4" fill="#009E73"/><circle cx="412.4" cy="91.3" r="1.4" fill="#009E73"/><circle cx="406.6" cy="96.3" r="1.4" fill="#009E73"/><circle cx="409.5" cy="96.3" r="1.4" fill="#009E73"/><circle cx="411.0" cy="97.8" r="1.4" fill="#009E73"/><circle cx="411.7" cy="101.4" r="1.4" fill="#009E73"/><circle cx="413.8" cy="99.2" r="1.4" fill="#009E73"/><circle cx="405.2" cy="102.1" r="1.4" fill="#009E73"/><circle cx="408.8" cy="104.3" r="1.4" fill="#009E73"/><circle cx="405.9" cy="110.1" r="1.4" fill="#009E73"/><circle cx="416.7" cy="94.2" r="1.4" fill="#009E73"/><circle cx="418.9" cy="94.9" r="1.4" fill="#009E73"/><circle cx="422.5" cy="93.5" r="1.4" fill="#009E73"/><circle cx="426.1" cy="90.6" r="1.4" fill="#009E73"/><circle cx="427.6" cy="89.8" r="1.4" fill="#009E73"/><circle cx="426.9" cy="96.3" r="1.4" fill="#009E73"/><circle cx="426.9" cy="102.1" r="1.4" fill="#009E73"/><circle cx="432.6" cy="97.1" r="1.4" fill="#009E73"/><circle cx="437.0" cy="105.7" r="1.4" fill="#009E73"/><circle cx="442.8" cy="89.1" r="1.4" fill="#009E73"/><circle cx="444.9" cy="90.6" r="1.4" fill="#009E73"/><circle cx="455.0" cy="79.7" r="1.4" fill="#009E73"/><circle cx="394.3" cy="85.5" r="1.4" fill="#009E73"/><circle cx="397.2" cy="86.9" r="1.4" fill="#009E73"/><circle cx="401.6" cy="83.3" r="1.4" fill="#009E73"/><circle cx="405.9" cy="84.8" r="1.4" fill="#009E73"/><circle cx="410.2" cy="86.2" r="1.4" fill="#009E73"/><circle cx="413.1" cy="84.1" r="1.4" fill="#009E73"/><circle cx="415.3" cy="87.7" r="1.4" fill="#009E73"/><circle cx="408.1" cy="92.0" r="1.4" fill="#009E73"/><circle cx="400.8" cy="91.3" r="1.4" fill="#009E73"/><path d="M423.2 46.2L425.1 49.7L421.3 49.7Z" fill="#E69F00"/><path d="M405.9 56.3L407.8 59.8L404.0 59.8Z" fill="#E69F00"/><path d="M411.7 57.8L413.6 61.2L409.8 61.2Z" fill="#E69F00"/><path d="M414.6 59.2L416.5 62.7L412.7 62.7Z" fill="#E69F00"/><path d="M418.9 57.1L420.8 60.5L417.0 60.5Z" fill="#E69F00"/><path d="M429.0 59.2L430.9 62.7L427.1 62.7Z" fill="#E69F00"/><path d="M426.9 62.1L428.8 65.6L425.0 65.6Z" fill="#E69F00"/><path d="M421.8 63.6L423.7 67.0L419.9 67.0Z" fill="#E69F00"/><path d="M394.3 62.8L396.2 66.3L392.4 66.3Z" fill="#E69F00"/><path d="M403.0 63.6L404.9 67.0L401.1 67.0Z" fill="#E69F00"/><path d="M403.0 67.2L404.9 70.6L401.1 70.6Z" fill="#E69F00"/><path d="M411.7 67.2L413.6 70.6L409.8 70.6Z" fill="#E69F00"/><path d="M415.3 67.2L417.2 70.6L413.4 70.6Z" fill="#E69F00"/><path d="M392.9 69.3L394.8 72.8L391.0 72.8Z" fill="#E69F00"/><path d="M405.2 70.8L407.1 74.2L403.3 74.2Z" fill="#E69F00"/><path d="M411.0 75.1L412.9 78.6L409.1 78.6Z" fill="#E69F00"/><path d="M442.8 57.1L444.7 60.5L440.9 60.5Z" fill="#E69F00"/><path d="M453.6 57.1L455.5 60.5L451.7 60.5Z" fill="#E69F00"/><path d="M451.4 62.1L453.3 65.6L449.5 65.6Z" fill="#E69F00"/><path d="M471.7 52.7L473.6 56.2L469.8 56.2Z" fill="#E69F00"/><path d="M455.8 65.7L457.7 69.2L453.9 69.2Z" fill="#E69F00"/><path d="M388.6 87.8L390.5 91.3L386.7 91.3Z" fill="#E69F00"/><path d="M387.1 92.9L389.0 96.3L385.2 96.3Z" fill="#E69F00"/><path d="M385.7 102.3L387.6 105.7L383.8 105.7Z" fill="#E69F00"/><path d="M402.3 90.0L404.2 93.4L400.4 93.4Z" fill="#E69F00"/><path d="M400.1 85.7L402.0 89.1L398.2 89.1Z" fill="#E69F00"/><path d="M408.1 88.6L410.0 92.0L406.2 92.0Z" fill="#E69F00"/><path d="M407.3 91.5L409.2 94.9L405.4 94.9Z" fill="#E69F00"/><path d="M405.9 97.2L407.8 100.7L404.0 100.7Z" fill="#E69F00"/><path d="M410.2 95.8L412.1 99.2L408.3 99.2Z" fill="#E69F00"/><path d="M413.8 100.1L415.7 103.6L411.9 103.6Z" fill="#E69F00"/><path d="M411.7 103.0L413.6 106.5L409.8 106.5Z" fill="#E69F00"/><path d="M405.9 103.7L407.8 107.2L404.0 107.2Z" fill="#E69F00"/><path d="M417.5 84.2L419.4 87.7L415.6 87.7Z" fill="#E69F00"/><path d="M418.9 95.1L420.8 98.5L417.0 98.5Z" fill="#E69F00"/><path d="M423.2 91.5L425.1 94.9L421.3 94.9Z" fill="#E69F00"/><path d="M426.1 85.7L428.0 89.1L424.2 89.1Z" fill="#E69F00"/><path d="M428.3 80.6L430.2 84.1L426.4 84.1Z" fill="#E69F00"/><path d="M436.2 80.6L438.1 84.1L434.3 84.1Z" fill="#E69F00"/><path d="M442.8 91.5L444.7 94.9L440.9 94.9Z" fill="#E69F00"/><path d="M444.2 94.3L446.1 97.8L442.3 97.8Z" fill="#E69F00"/><path d="M426.9 105.2L428.8 108.6L425.0 108.6Z" fill="#E69F00"/><path d="M437.0 102.3L438.9 105.7L435.1 105.7Z" fill="#E69F00"/><path d="M402.3 95.8L404.2 99.2L400.4 99.2Z" fill="#E69F00"/><path d="M398.7 87.1L400.6 90.6L396.8 90.6Z" fill="#E69F00"/><path d="M403.7 84.2L405.6 87.7L401.8 87.7Z" fill="#E69F00"/><path d="M412.4 82.8L414.3 86.2L410.5 86.2Z" fill="#E69F00"/><line x1="368.01" y1="151.05" x2="520.68" y2="-82.63" stroke="#595959" stroke-width="0.65" stroke-dasharray="3.3 3.1"/><path d="M382.00 81.50L385.71 81.34L389.42 81.16L393.12 80.96L396.83 80.73L400.54 80.44L404.25 80.09L407.96 79.62L411.67 79.03L415.38 78.33L419.08 77.55L422.79 76.72L426.50 75.84L430.21 74.94L433.92 74.02L437.62 73.09L441.33 72.15L445.04 71.21L448.75 70.26L452.46 69.30L456.17 68.35L459.88 67.39L463.58 66.43L467.29 65.46L471.00 64.50L471.00 78.90L467.29 79.04L463.58 79.19L459.88 79.34L456.17 79.49L452.46 79.64L448.75 79.79L445.04 79.95L441.33 80.12L437.62 80.28L433.92 80.46L430.21 80.65L426.50 80.86L422.79 81.09L419.08 81.36L415.38 81.69L411.67 82.10L407.96 82.62L404.25 83.26L400.54 84.01L396.83 84.84L393.12 85.72L389.42 86.62L385.71 87.55L382.00 88.50Z" fill="#009E73" fill-opacity="0.5"/><line x1="382.00" y1="85.00" x2="471.00" y2="71.70" stroke="#009E73" stroke-width="1.6"/><path d="M382.00 83.80L385.71 83.49L389.42 83.16L393.12 82.82L396.83 82.44L400.54 82.00L404.25 81.47L407.96 80.76L411.67 79.85L415.38 78.82L419.08 77.68L422.79 76.49L426.50 75.25L430.21 73.99L433.92 72.71L437.62 71.42L441.33 70.12L445.04 68.81L448.75 67.51L452.46 66.19L456.17 64.88L459.88 63.56L463.58 62.24L467.29 60.92L471.00 59.60L471.00 75.60L467.29 76.00L463.58 76.41L459.88 76.81L456.17 77.22L452.46 77.63L448.75 78.04L445.04 78.46L441.33 78.88L437.62 79.31L433.92 79.74L430.21 80.19L426.50 80.65L422.79 81.14L419.08 81.67L415.38 82.26L411.67 82.95L407.96 83.77L404.25 84.78L400.54 85.97L396.83 87.26L393.12 88.61L389.42 89.99L385.71 91.39L382.00 92.80Z" fill="#E69F00" fill-opacity="0.5"/><line x1="382.00" y1="88.30" x2="471.00" y2="67.60" stroke="#E69F00" stroke-width="1.6"/></g><rect x="383.05" y="45.50" width="37.2" height="10.5" rx="1.8" fill="#fff" fill-opacity="0.8" stroke="#7CCBB2" stroke-width="0.75"/><text x="385.05" y="52.60" font-size="8.8" fill="#1B9E77" ><tspan font-style="italic">R</tspan> = 0.22</text><rect x="434.75" y="45.50" width="37.2" height="10.5" rx="1.8" fill="#fff" fill-opacity="0.8" stroke="#F0C870" stroke-width="0.75"/><text x="436.75" y="52.60" font-size="8.8" fill="#E69F00" ><tspan font-style="italic">R</tspan> = 0.30</text><rect x="480.50" y="26.90" width="97.90" height="14.40" fill="#fff" stroke="#D6D6D6" stroke-width="0.7"/><text transform="translate(529.45 37.10)" font-size="8.3" fill="#1A1A1A" text-anchor="middle" font-weight="bold">location ECs</text><clipPath id="cB10"><rect x="480.40" y="41.30" width="98.10" height="76.20"/></clipPath><line x1="482.75" y1="41.30" x2="482.75" y2="117.50" stroke="#EBEBEB" stroke-width="0.55"/><line x1="506.24" y1="41.30" x2="506.24" y2="117.50" stroke="#EBEBEB" stroke-width="0.55"/><line x1="529.73" y1="41.30" x2="529.73" y2="117.50" stroke="#EBEBEB" stroke-width="0.55"/><line x1="553.21" y1="41.30" x2="553.21" y2="117.50" stroke="#EBEBEB" stroke-width="0.55"/><line x1="576.70" y1="41.30" x2="576.70" y2="117.50" stroke="#EBEBEB" stroke-width="0.55"/><line x1="480.40" y1="115.10" x2="578.50" y2="115.10" stroke="#EBEBEB" stroke-width="0.55"/><line x1="480.40" y1="97.12" x2="578.50" y2="97.12" stroke="#EBEBEB" stroke-width="0.55"/><line x1="480.40" y1="79.15" x2="578.50" y2="79.15" stroke="#EBEBEB" stroke-width="0.55"/><line x1="480.40" y1="61.17" x2="578.50" y2="61.17" stroke="#EBEBEB" stroke-width="0.55"/><line x1="480.40" y1="43.20" x2="578.50" y2="43.20" stroke="#EBEBEB" stroke-width="0.55"/><g clip-path="url(#cB10)"><path d="M506.0 57.8L507.9 61.2L504.1 61.2Z" fill="#E69F00"/><path d="M514.7 57.1L516.6 60.5L512.8 60.5Z" fill="#E69F00"/><path d="M516.8 57.1L518.7 60.5L514.9 60.5Z" fill="#E69F00"/><path d="M519.7 57.8L521.6 61.2L517.8 61.2Z" fill="#E69F00"/><path d="M521.2 57.8L523.1 61.2L519.3 61.2Z" fill="#E69F00"/><path d="M517.6 60.7L519.5 64.1L515.7 64.1Z" fill="#E69F00"/><path d="M521.2 60.7L523.1 64.1L519.3 64.1Z" fill="#E69F00"/><path d="M510.3 62.1L512.2 65.6L508.4 65.6Z" fill="#E69F00"/><path d="M511.1 65.0L513.0 68.5L509.2 68.5Z" fill="#E69F00"/><path d="M508.2 67.2L510.1 70.6L506.3 70.6Z" fill="#E69F00"/><path d="M509.6 68.6L511.5 72.1L507.7 72.1Z" fill="#E69F00"/><path d="M511.1 69.3L513.0 72.8L509.2 72.8Z" fill="#E69F00"/><path d="M512.5 66.5L514.4 69.9L510.6 69.9Z" fill="#E69F00"/><path d="M501.7 65.7L503.6 69.2L499.8 69.2Z" fill="#E69F00"/><path d="M503.1 67.2L505.0 70.6L501.2 70.6Z" fill="#E69F00"/><path d="M503.8 68.6L505.7 72.1L501.9 72.1Z" fill="#E69F00"/><path d="M496.6 66.2L498.5 69.6L494.7 69.6Z" fill="#E69F00"/><path d="M517.6 66.5L519.5 69.9L515.7 69.9Z" fill="#E69F00"/><path d="M521.9 65.7L523.8 69.2L520.0 69.2Z" fill="#E69F00"/><path d="M523.4 67.2L525.3 70.6L521.5 70.6Z" fill="#E69F00"/><path d="M526.2 62.8L528.1 66.3L524.3 66.3Z" fill="#E69F00"/><path d="M526.2 65.7L528.1 69.2L524.3 69.2Z" fill="#E69F00"/><path d="M528.4 69.3L530.3 72.8L526.5 72.8Z" fill="#E69F00"/><path d="M530.6 67.2L532.5 70.6L528.7 70.6Z" fill="#E69F00"/><path d="M531.3 65.0L533.2 68.5L529.4 68.5Z" fill="#E69F00"/><path d="M532.7 59.2L534.6 62.7L530.8 62.7Z" fill="#E69F00"/><path d="M537.8 63.6L539.7 67.0L535.9 67.0Z" fill="#E69F00"/><path d="M538.5 66.5L540.4 69.9L536.6 69.9Z" fill="#E69F00"/><path d="M534.2 68.6L536.1 72.1L532.3 72.1Z" fill="#E69F00"/><path d="M537.1 68.6L539.0 72.1L535.2 72.1Z" fill="#E69F00"/><path d="M545.8 67.2L547.7 70.6L543.9 70.6Z" fill="#E69F00"/><path d="M551.5 65.7L553.4 69.2L549.6 69.2Z" fill="#E69F00"/><path d="M554.4 68.6L556.3 72.1L552.5 72.1Z" fill="#E69F00"/><path d="M558.8 68.6L560.7 72.1L556.9 72.1Z" fill="#E69F00"/><path d="M574.7 57.1L576.6 60.5L572.8 60.5Z" fill="#E69F00"/><path d="M514.7 73.0L516.6 76.4L512.8 76.4Z" fill="#E69F00"/><path d="M503.1 77.3L505.0 80.7L501.2 80.7Z" fill="#E69F00"/><path d="M508.2 77.3L510.1 80.7L506.3 80.7Z" fill="#E69F00"/><path d="M503.1 77.7L505.0 81.2L501.2 81.2Z" fill="#E69F00"/><path d="M508.2 77.7L510.1 81.2L506.3 81.2Z" fill="#E69F00"/><path d="M497.3 81.3L499.2 84.8L495.4 84.8Z" fill="#E69F00"/><path d="M500.2 81.3L502.1 84.8L498.3 84.8Z" fill="#E69F00"/><path d="M504.6 82.8L506.5 86.2L502.7 86.2Z" fill="#E69F00"/><path d="M508.9 80.6L510.8 84.1L507.0 84.1Z" fill="#E69F00"/><path d="M511.1 81.3L513.0 84.8L509.2 84.8Z" fill="#E69F00"/><path d="M513.2 79.9L515.1 83.3L511.3 83.3Z" fill="#E69F00"/><path d="M514.7 82.8L516.6 86.2L512.8 86.2Z" fill="#E69F00"/><path d="M512.5 84.2L514.4 87.7L510.6 87.7Z" fill="#E69F00"/><path d="M518.3 82.1L520.2 85.5L516.4 85.5Z" fill="#E69F00"/><path d="M520.5 82.8L522.4 86.2L518.6 86.2Z" fill="#E69F00"/><path d="M519.7 84.9L521.6 88.4L517.8 88.4Z" fill="#E69F00"/><path d="M523.4 82.8L525.3 86.2L521.5 86.2Z" fill="#E69F00"/><path d="M526.2 83.5L528.1 86.9L524.3 86.9Z" fill="#E69F00"/><path d="M527.7 85.7L529.6 89.1L525.8 89.1Z" fill="#E69F00"/><path d="M529.9 83.5L531.8 86.9L528.0 86.9Z" fill="#E69F00"/><path d="M532.0 83.5L533.9 86.9L530.1 86.9Z" fill="#E69F00"/><path d="M535.6 82.1L537.5 85.5L533.7 85.5Z" fill="#E69F00"/><path d="M554.4 82.8L556.3 86.2L552.5 86.2Z" fill="#E69F00"/><path d="M485.1 87.8L487.0 91.3L483.2 91.3Z" fill="#E69F00"/><path d="M487.9 88.6L489.8 92.0L486.0 92.0Z" fill="#E69F00"/><path d="M489.4 89.3L491.3 92.7L487.5 92.7Z" fill="#E69F00"/><path d="M497.3 88.6L499.2 92.0L495.4 92.0Z" fill="#E69F00"/><path d="M501.0 90.0L502.9 93.4L499.1 93.4Z" fill="#E69F00"/><path d="M506.7 91.5L508.6 94.9L504.8 94.9Z" fill="#E69F00"/><path d="M513.2 90.0L515.1 93.4L511.3 93.4Z" fill="#E69F00"/><path d="M514.0 90.7L515.9 94.2L512.1 94.2Z" fill="#E69F00"/><path d="M539.2 89.3L541.1 92.7L537.3 92.7Z" fill="#E69F00"/><path d="M488.7 95.1L490.6 98.5L486.8 98.5Z" fill="#E69F00"/><path d="M491.6 93.6L493.5 97.1L489.7 97.1Z" fill="#E69F00"/><path d="M492.3 95.8L494.2 99.2L490.4 99.2Z" fill="#E69F00"/><path d="M505.3 96.5L507.2 99.9L503.4 99.9Z" fill="#E69F00"/><path d="M509.6 97.2L511.5 100.7L507.7 100.7Z" fill="#E69F00"/><path d="M511.8 98.7L513.7 102.1L509.9 102.1Z" fill="#E69F00"/><path d="M515.4 95.8L517.3 99.2L513.5 99.2Z" fill="#E69F00"/><path d="M516.8 95.8L518.7 99.2L514.9 99.2Z" fill="#E69F00"/><path d="M520.5 95.1L522.4 98.5L518.6 98.5Z" fill="#E69F00"/><path d="M529.9 95.5L531.8 98.9L528.0 98.9Z" fill="#E69F00"/><path d="M545.8 95.5L547.7 98.9L543.9 98.9Z" fill="#E69F00"/><path d="M547.2 95.5L549.1 98.9L545.3 98.9Z" fill="#E69F00"/><path d="M511.1 82.1L513.0 85.5L509.2 85.5Z" fill="#E69F00"/><path d="M514.0 80.6L515.9 84.1L512.1 84.1Z" fill="#E69F00"/><path d="M516.1 81.3L518.0 84.8L514.2 84.8Z" fill="#E69F00"/><path d="M521.9 81.3L523.8 84.8L520.0 84.8Z" fill="#E69F00"/><path d="M523.4 84.2L525.3 87.7L521.5 87.7Z" fill="#E69F00"/><path d="M517.6 83.5L519.5 86.9L515.7 86.9Z" fill="#E69F00"/><path d="M508.9 82.8L510.8 86.2L507.0 86.2Z" fill="#E69F00"/><line x1="471.01" y1="151.05" x2="623.68" y2="-82.63" stroke="#595959" stroke-width="0.65" stroke-dasharray="3.3 3.1"/><path d="M485.00 84.30L488.70 83.87L492.41 83.44L496.11 82.99L499.82 82.52L503.52 82.01L507.22 81.43L510.93 80.72L514.63 79.86L518.34 78.88L522.04 77.82L525.75 76.72L529.45 75.59L533.15 74.44L536.86 73.28L540.56 72.11L544.27 70.94L547.97 69.77L551.67 68.59L555.38 67.41L559.08 66.23L562.79 65.05L566.49 63.87L570.20 62.68L573.90 61.50L573.90 73.90L570.20 74.37L566.49 74.83L562.79 75.30L559.08 75.77L555.38 76.24L551.67 76.71L547.97 77.18L544.27 77.66L540.56 78.14L536.86 78.62L533.15 79.11L529.45 79.61L525.75 80.13L522.04 80.68L518.34 81.27L514.63 81.94L510.93 82.73L507.22 83.67L503.52 84.74L499.82 85.88L496.11 87.06L492.41 88.26L488.70 89.48L485.00 90.70Z" fill="#E69F00" fill-opacity="0.5"/><line x1="485.00" y1="87.50" x2="573.90" y2="67.70" stroke="#E69F00" stroke-width="1.6"/></g><rect x="537.75" y="45.50" width="37.2" height="10.5" rx="1.8" fill="#fff" fill-opacity="0.8" stroke="#F0C870" stroke-width="0.75"/><text x="539.75" y="52.60" font-size="8.8" fill="#E69F00" ><tspan font-style="italic">R</tspan> = 0.35</text><rect x="583.50" y="26.90" width="97.90" height="14.40" fill="#fff" stroke="#D6D6D6" stroke-width="0.7"/><text transform="translate(632.45 37.10)" font-size="8.3" fill="#1A1A1A" text-anchor="middle" font-weight="bold">V03</text><clipPath id="cB20"><rect x="583.40" y="41.30" width="98.10" height="76.20"/></clipPath><line x1="585.75" y1="41.30" x2="585.75" y2="117.50" stroke="#EBEBEB" stroke-width="0.55"/><line x1="609.24" y1="41.30" x2="609.24" y2="117.50" stroke="#EBEBEB" stroke-width="0.55"/><line x1="632.73" y1="41.30" x2="632.73" y2="117.50" stroke="#EBEBEB" stroke-width="0.55"/><line x1="656.21" y1="41.30" x2="656.21" y2="117.50" stroke="#EBEBEB" stroke-width="0.55"/><line x1="679.70" y1="41.30" x2="679.70" y2="117.50" stroke="#EBEBEB" stroke-width="0.55"/><line x1="583.40" y1="115.10" x2="681.50" y2="115.10" stroke="#EBEBEB" stroke-width="0.55"/><line x1="583.40" y1="97.12" x2="681.50" y2="97.12" stroke="#EBEBEB" stroke-width="0.55"/><line x1="583.40" y1="79.15" x2="681.50" y2="79.15" stroke="#EBEBEB" stroke-width="0.55"/><line x1="583.40" y1="61.17" x2="681.50" y2="61.17" stroke="#EBEBEB" stroke-width="0.55"/><line x1="583.40" y1="43.20" x2="681.50" y2="43.20" stroke="#EBEBEB" stroke-width="0.55"/><g clip-path="url(#cB20)"><circle cx="595.3" cy="61.2" r="1.4" fill="#009E73"/><circle cx="634.3" cy="57.6" r="1.4" fill="#009E73"/><circle cx="617.7" cy="62.7" r="1.4" fill="#009E73"/><circle cx="621.3" cy="63.4" r="1.4" fill="#009E73"/><circle cx="624.2" cy="63.4" r="1.4" fill="#009E73"/><circle cx="619.8" cy="66.3" r="1.4" fill="#009E73"/><circle cx="620.6" cy="68.5" r="1.4" fill="#009E73"/><circle cx="618.4" cy="67.7" r="1.4" fill="#009E73"/><circle cx="615.5" cy="69.2" r="1.4" fill="#009E73"/><circle cx="611.9" cy="72.1" r="1.4" fill="#009E73"/><circle cx="609.7" cy="72.8" r="1.4" fill="#009E73"/><circle cx="606.1" cy="72.1" r="1.4" fill="#009E73"/><circle cx="604.7" cy="73.5" r="1.4" fill="#009E73"/><circle cx="599.6" cy="71.3" r="1.4" fill="#009E73"/><circle cx="599.6" cy="73.5" r="1.4" fill="#009E73"/><circle cx="594.6" cy="74.2" r="1.4" fill="#009E73"/><circle cx="593.8" cy="75.7" r="1.4" fill="#009E73"/><circle cx="590.9" cy="77.8" r="1.4" fill="#009E73"/><circle cx="614.1" cy="75.0" r="1.4" fill="#009E73"/><circle cx="617.0" cy="74.2" r="1.4" fill="#009E73"/><circle cx="617.7" cy="77.1" r="1.4" fill="#009E73"/><circle cx="621.3" cy="72.8" r="1.4" fill="#009E73"/><circle cx="624.2" cy="73.5" r="1.4" fill="#009E73"/><circle cx="625.6" cy="74.2" r="1.4" fill="#009E73"/><circle cx="629.2" cy="62.0" r="1.4" fill="#009E73"/><circle cx="632.1" cy="66.3" r="1.4" fill="#009E73"/><circle cx="632.9" cy="71.3" r="1.4" fill="#009E73"/><circle cx="640.1" cy="69.9" r="1.4" fill="#009E73"/><circle cx="648.0" cy="65.6" r="1.4" fill="#009E73"/><circle cx="655.3" cy="64.8" r="1.4" fill="#009E73"/><circle cx="655.3" cy="69.2" r="1.4" fill="#009E73"/><circle cx="660.3" cy="71.3" r="1.4" fill="#009E73"/><circle cx="677.7" cy="69.9" r="1.4" fill="#009E73"/><circle cx="614.1" cy="77.1" r="1.4" fill="#009E73"/><circle cx="589.5" cy="81.9" r="1.4" fill="#009E73"/><circle cx="593.1" cy="82.6" r="1.4" fill="#009E73"/><circle cx="597.5" cy="80.4" r="1.4" fill="#009E73"/><circle cx="604.7" cy="79.7" r="1.4" fill="#009E73"/><circle cx="611.9" cy="79.7" r="1.4" fill="#009E73"/><circle cx="617.0" cy="83.3" r="1.4" fill="#009E73"/><circle cx="617.7" cy="85.5" r="1.4" fill="#009E73"/><circle cx="615.5" cy="86.9" r="1.4" fill="#009E73"/><circle cx="617.0" cy="88.4" r="1.4" fill="#009E73"/><circle cx="614.1" cy="89.8" r="1.4" fill="#009E73"/><circle cx="610.5" cy="92.7" r="1.4" fill="#009E73"/><circle cx="611.9" cy="91.3" r="1.4" fill="#009E73"/><circle cx="614.1" cy="93.5" r="1.4" fill="#009E73"/><circle cx="616.2" cy="94.9" r="1.4" fill="#009E73"/><circle cx="615.5" cy="97.1" r="1.4" fill="#009E73"/><circle cx="617.7" cy="97.8" r="1.4" fill="#009E73"/><circle cx="616.2" cy="99.2" r="1.4" fill="#009E73"/><circle cx="611.2" cy="100.0" r="1.4" fill="#009E73"/><circle cx="604.0" cy="92.7" r="1.4" fill="#009E73"/><circle cx="604.0" cy="97.1" r="1.4" fill="#009E73"/><circle cx="598.2" cy="94.2" r="1.4" fill="#009E73"/><circle cx="598.9" cy="93.5" r="1.4" fill="#009E73"/><circle cx="603.2" cy="89.8" r="1.4" fill="#009E73"/><circle cx="606.8" cy="89.8" r="1.4" fill="#009E73"/><circle cx="620.6" cy="92.7" r="1.4" fill="#009E73"/><circle cx="622.7" cy="93.5" r="1.4" fill="#009E73"/><circle cx="624.9" cy="94.2" r="1.4" fill="#009E73"/><circle cx="627.1" cy="86.2" r="1.4" fill="#009E73"/><circle cx="630.7" cy="88.4" r="1.4" fill="#009E73"/><circle cx="632.1" cy="89.1" r="1.4" fill="#009E73"/><circle cx="634.3" cy="88.4" r="1.4" fill="#009E73"/><circle cx="635.0" cy="85.5" r="1.4" fill="#009E73"/><circle cx="640.8" cy="87.7" r="1.4" fill="#009E73"/><circle cx="641.5" cy="82.6" r="1.4" fill="#009E73"/><circle cx="648.8" cy="89.1" r="1.4" fill="#009E73"/><circle cx="650.2" cy="81.9" r="1.4" fill="#009E73"/><circle cx="642.2" cy="96.3" r="1.4" fill="#009E73"/><circle cx="660.3" cy="82.6" r="1.4" fill="#009E73"/><circle cx="587.3" cy="88.4" r="1.4" fill="#009E73"/><circle cx="591.7" cy="93.5" r="1.4" fill="#009E73"/><path d="M611.9 57.8L613.8 61.2L610.0 61.2Z" fill="#E69F00"/><path d="M620.6 55.6L622.5 59.1L618.7 59.1Z" fill="#E69F00"/><path d="M634.3 52.0L636.2 55.4L632.4 55.4Z" fill="#E69F00"/><path d="M633.6 62.8L635.5 66.3L631.7 66.3Z" fill="#E69F00"/><path d="M637.2 62.1L639.1 65.6L635.3 65.6Z" fill="#E69F00"/><path d="M622.0 62.8L623.9 66.3L620.1 66.3Z" fill="#E69F00"/><path d="M624.9 65.7L626.8 69.2L623.0 69.2Z" fill="#E69F00"/><path d="M616.2 66.5L618.1 69.9L614.3 69.9Z" fill="#E69F00"/><path d="M605.4 64.3L607.3 67.7L603.5 67.7Z" fill="#E69F00"/><path d="M599.6 67.2L601.5 70.6L597.7 70.6Z" fill="#E69F00"/><path d="M608.3 73.0L610.2 76.4L606.4 76.4Z" fill="#E69F00"/><path d="M613.3 70.8L615.2 74.2L611.4 74.2Z" fill="#E69F00"/><path d="M610.5 73.7L612.4 77.1L608.6 77.1Z" fill="#E69F00"/><path d="M615.5 75.8L617.4 79.3L613.6 79.3Z" fill="#E69F00"/><path d="M623.5 75.1L625.4 78.6L621.6 78.6Z" fill="#E69F00"/><path d="M640.1 65.7L642.0 69.2L638.2 69.2Z" fill="#E69F00"/><path d="M641.5 66.5L643.4 69.9L639.6 69.9Z" fill="#E69F00"/><path d="M648.0 62.8L649.9 66.3L646.1 66.3Z" fill="#E69F00"/><path d="M654.5 60.7L656.4 64.1L652.6 64.1Z" fill="#E69F00"/><path d="M660.3 61.4L662.2 64.8L658.4 64.8Z" fill="#E69F00"/><path d="M676.9 60.7L678.8 64.1L675.0 64.1Z" fill="#E69F00"/><path d="M653.8 66.5L655.7 69.9L651.9 69.9Z" fill="#E69F00"/><path d="M587.3 90.7L589.2 94.2L585.4 94.2Z" fill="#E69F00"/><path d="M590.9 90.7L592.8 94.2L589.0 94.2Z" fill="#E69F00"/><path d="M594.6 95.1L596.5 98.5L592.7 98.5Z" fill="#E69F00"/><path d="M593.8 95.8L595.7 99.2L591.9 99.2Z" fill="#E69F00"/><path d="M599.6 90.0L601.5 93.4L597.7 93.4Z" fill="#E69F00"/><path d="M609.0 91.5L610.9 94.9L607.1 94.9Z" fill="#E69F00"/><path d="M607.6 99.4L609.5 102.8L605.7 102.8Z" fill="#E69F00"/><path d="M608.3 100.8L610.2 104.3L606.4 104.3Z" fill="#E69F00"/><path d="M612.6 104.5L614.5 107.9L610.7 107.9Z" fill="#E69F00"/><path d="M614.8 103.7L616.7 107.2L612.9 107.2Z" fill="#E69F00"/><path d="M618.4 105.9L620.3 109.3L616.5 109.3Z" fill="#E69F00"/><path d="M615.5 99.4L617.4 102.8L613.6 102.8Z" fill="#E69F00"/><path d="M617.0 98.0L618.9 101.4L615.1 101.4Z" fill="#E69F00"/><path d="M619.8 98.7L621.7 102.1L617.9 102.1Z" fill="#E69F00"/><path d="M623.5 98.7L625.4 102.1L621.6 102.1Z" fill="#E69F00"/><path d="M624.9 87.8L626.8 91.3L623.0 91.3Z" fill="#E69F00"/><path d="M618.4 92.9L620.3 96.3L616.5 96.3Z" fill="#E69F00"/><path d="M626.4 81.3L628.3 84.8L624.5 84.8Z" fill="#E69F00"/><path d="M634.3 80.6L636.2 84.1L632.4 84.1Z" fill="#E69F00"/><path d="M638.6 80.6L640.5 84.1L636.7 84.1Z" fill="#E69F00"/><path d="M642.2 95.8L644.1 99.2L640.3 99.2Z" fill="#E69F00"/><path d="M650.2 93.6L652.1 97.1L648.3 97.1Z" fill="#E69F00"/><path d="M648.8 100.8L650.7 104.3L646.9 104.3Z" fill="#E69F00"/><path d="M632.1 104.5L634.0 107.9L630.2 107.9Z" fill="#E69F00"/><line x1="574.01" y1="151.05" x2="726.68" y2="-82.63" stroke="#595959" stroke-width="0.65" stroke-dasharray="3.3 3.1"/><path d="M588.00 81.80L591.70 81.66L595.40 81.50L599.10 81.33L602.80 81.13L606.50 80.88L610.20 80.57L613.90 80.17L617.60 79.67L621.30 79.10L625.00 78.45L628.70 77.77L632.40 77.05L636.10 76.31L639.80 75.55L643.50 74.79L647.20 74.02L650.90 73.24L654.60 72.45L658.30 71.67L662.00 70.88L665.70 70.08L669.40 69.29L673.10 68.50L676.80 67.70L676.80 79.10L673.10 79.25L669.40 79.41L665.70 79.57L662.00 79.72L658.30 79.88L654.60 80.05L650.90 80.21L647.20 80.38L643.50 80.56L639.80 80.75L636.10 80.94L632.40 81.15L628.70 81.38L625.00 81.65L621.30 81.95L617.60 82.33L613.90 82.78L610.20 83.33L606.50 83.97L602.80 84.67L599.10 85.42L595.40 86.20L591.70 86.99L588.00 87.80Z" fill="#009E73" fill-opacity="0.5"/><line x1="588.00" y1="84.80" x2="676.80" y2="73.40" stroke="#009E73" stroke-width="1.6"/><path d="M588.00 84.50L591.70 83.99L595.40 83.47L599.10 82.92L602.80 82.35L606.50 81.73L610.20 81.02L613.90 80.19L617.60 79.22L621.30 78.13L625.00 76.95L628.70 75.70L632.40 74.42L636.10 73.12L639.80 71.80L643.50 70.47L647.20 69.13L650.90 67.78L654.60 66.44L658.30 65.08L662.00 63.73L665.70 62.38L669.40 61.02L673.10 59.66L676.80 58.30L676.80 73.30L673.10 73.80L669.40 74.30L665.70 74.80L662.00 75.30L658.30 75.81L654.60 76.31L650.90 76.82L647.20 77.34L643.50 77.86L639.80 78.39L636.10 78.92L632.40 79.48L628.70 80.06L625.00 80.67L621.30 81.34L617.60 82.11L613.90 83.00L610.20 84.03L606.50 85.18L602.80 86.42L599.10 87.70L595.40 89.02L591.70 90.35L588.00 91.70Z" fill="#E69F00" fill-opacity="0.5"/><line x1="588.00" y1="88.10" x2="676.80" y2="65.80" stroke="#E69F00" stroke-width="1.6"/></g><rect x="589.05" y="45.50" width="37.2" height="10.5" rx="1.8" fill="#fff" fill-opacity="0.8" stroke="#7CCBB2" stroke-width="0.75"/><text x="591.05" y="52.60" font-size="8.8" fill="#1B9E77" ><tspan font-style="italic">R</tspan> = 0.23</text><rect x="640.05" y="45.50" width="37.2" height="10.5" rx="1.8" fill="#fff" fill-opacity="0.8" stroke="#F0C870" stroke-width="0.75"/><text x="642.05" y="52.60" font-size="8.8" fill="#E69F00" ><tspan font-style="italic">R</tspan> = 0.36</text><rect x="377.50" y="122.40" width="97.90" height="14.40" fill="#fff" stroke="#D6D6D6" stroke-width="0.7"/><text transform="translate(426.45 132.60)" font-size="8.3" fill="#1A1A1A" text-anchor="middle" font-weight="bold">V35</text><clipPath id="cB01"><rect x="377.40" y="136.80" width="98.10" height="76.20"/></clipPath><line x1="379.75" y1="136.80" x2="379.75" y2="213.00" stroke="#EBEBEB" stroke-width="0.55"/><line x1="403.24" y1="136.80" x2="403.24" y2="213.00" stroke="#EBEBEB" stroke-width="0.55"/><line x1="426.73" y1="136.80" x2="426.73" y2="213.00" stroke="#EBEBEB" stroke-width="0.55"/><line x1="450.21" y1="136.80" x2="450.21" y2="213.00" stroke="#EBEBEB" stroke-width="0.55"/><line x1="473.70" y1="136.80" x2="473.70" y2="213.00" stroke="#EBEBEB" stroke-width="0.55"/><line x1="377.40" y1="210.60" x2="475.50" y2="210.60" stroke="#EBEBEB" stroke-width="0.55"/><line x1="377.40" y1="192.62" x2="475.50" y2="192.62" stroke="#EBEBEB" stroke-width="0.55"/><line x1="377.40" y1="174.65" x2="475.50" y2="174.65" stroke="#EBEBEB" stroke-width="0.55"/><line x1="377.40" y1="156.67" x2="475.50" y2="156.67" stroke="#EBEBEB" stroke-width="0.55"/><line x1="377.40" y1="138.70" x2="475.50" y2="138.70" stroke="#EBEBEB" stroke-width="0.55"/><line x1="374.80" y1="210.60" x2="377.40" y2="210.60" stroke="#333" stroke-width="0.55"/><text x="372.90" y="213.20" font-size="7.5" fill="#4D4D4D" text-anchor="end" font-weight="normal" font-style="normal" >10</text><line x1="374.80" y1="192.62" x2="377.40" y2="192.62" stroke="#333" stroke-width="0.55"/><text x="372.90" y="195.22" font-size="7.5" fill="#4D4D4D" text-anchor="end" font-weight="normal" font-style="normal" >20</text><line x1="374.80" y1="174.65" x2="377.40" y2="174.65" stroke="#333" stroke-width="0.55"/><text x="372.90" y="177.25" font-size="7.5" fill="#4D4D4D" text-anchor="end" font-weight="normal" font-style="normal" >30</text><line x1="374.80" y1="156.67" x2="377.40" y2="156.67" stroke="#333" stroke-width="0.55"/><text x="372.90" y="159.27" font-size="7.5" fill="#4D4D4D" text-anchor="end" font-weight="normal" font-style="normal" >40</text><line x1="374.80" y1="138.70" x2="377.40" y2="138.70" stroke="#333" stroke-width="0.55"/><text x="372.90" y="141.30" font-size="7.5" fill="#4D4D4D" text-anchor="end" font-weight="normal" font-style="normal" >50</text><g clip-path="url(#cB01)"><circle cx="411.7" cy="159.1" r="1.4" fill="#009E73"/><circle cx="414.6" cy="159.8" r="1.4" fill="#009E73"/><circle cx="418.9" cy="159.8" r="1.4" fill="#009E73"/><circle cx="412.4" cy="164.2" r="1.4" fill="#009E73"/><circle cx="415.3" cy="164.2" r="1.4" fill="#009E73"/><circle cx="417.5" cy="164.9" r="1.4" fill="#009E73"/><circle cx="410.2" cy="166.3" r="1.4" fill="#009E73"/><circle cx="416.0" cy="167.1" r="1.4" fill="#009E73"/><circle cx="418.2" cy="167.1" r="1.4" fill="#009E73"/><circle cx="420.4" cy="167.1" r="1.4" fill="#009E73"/><circle cx="403.0" cy="163.5" r="1.4" fill="#009E73"/><circle cx="402.3" cy="166.3" r="1.4" fill="#009E73"/><circle cx="405.9" cy="168.5" r="1.4" fill="#009E73"/><circle cx="408.1" cy="170.7" r="1.4" fill="#009E73"/><circle cx="411.0" cy="170.0" r="1.4" fill="#009E73"/><circle cx="413.8" cy="170.0" r="1.4" fill="#009E73"/><circle cx="416.0" cy="170.0" r="1.4" fill="#009E73"/><circle cx="418.9" cy="168.5" r="1.4" fill="#009E73"/><circle cx="403.7" cy="171.4" r="1.4" fill="#009E73"/><circle cx="400.1" cy="172.1" r="1.4" fill="#009E73"/><circle cx="388.6" cy="167.1" r="1.4" fill="#009E73"/><circle cx="385.7" cy="170.7" r="1.4" fill="#009E73"/><circle cx="387.8" cy="172.8" r="1.4" fill="#009E73"/><circle cx="394.3" cy="170.7" r="1.4" fill="#009E73"/><circle cx="424.7" cy="166.3" r="1.4" fill="#009E73"/><circle cx="426.9" cy="159.8" r="1.4" fill="#009E73"/><circle cx="428.3" cy="161.3" r="1.4" fill="#009E73"/><circle cx="423.2" cy="169.2" r="1.4" fill="#009E73"/><circle cx="451.4" cy="154.8" r="1.4" fill="#009E73"/><circle cx="450.7" cy="166.3" r="1.4" fill="#009E73"/><circle cx="471.7" cy="164.9" r="1.4" fill="#009E73"/><circle cx="427.6" cy="170.7" r="1.4" fill="#009E73"/><circle cx="414.6" cy="173.6" r="1.4" fill="#009E73"/><circle cx="382.8" cy="176.2" r="1.4" fill="#009E73"/><circle cx="388.6" cy="175.4" r="1.4" fill="#009E73"/><circle cx="392.9" cy="176.2" r="1.4" fill="#009E73"/><circle cx="398.7" cy="175.4" r="1.4" fill="#009E73"/><circle cx="405.9" cy="174.7" r="1.4" fill="#009E73"/><circle cx="411.7" cy="175.4" r="1.4" fill="#009E73"/><circle cx="414.6" cy="177.6" r="1.4" fill="#009E73"/><circle cx="417.5" cy="176.9" r="1.4" fill="#009E73"/><circle cx="420.4" cy="179.8" r="1.4" fill="#009E73"/><circle cx="423.2" cy="180.5" r="1.4" fill="#009E73"/><circle cx="427.6" cy="176.9" r="1.4" fill="#009E73"/><circle cx="434.1" cy="176.2" r="1.4" fill="#009E73"/><circle cx="398.0" cy="182.7" r="1.4" fill="#009E73"/><circle cx="400.1" cy="183.4" r="1.4" fill="#009E73"/><circle cx="402.3" cy="184.1" r="1.4" fill="#009E73"/><circle cx="405.9" cy="182.7" r="1.4" fill="#009E73"/><circle cx="408.1" cy="181.9" r="1.4" fill="#009E73"/><circle cx="410.2" cy="183.4" r="1.4" fill="#009E73"/><circle cx="412.4" cy="184.1" r="1.4" fill="#009E73"/><circle cx="409.5" cy="186.3" r="1.4" fill="#009E73"/><circle cx="411.7" cy="186.3" r="1.4" fill="#009E73"/><circle cx="406.6" cy="187.7" r="1.4" fill="#009E73"/><circle cx="398.0" cy="187.0" r="1.4" fill="#009E73"/><circle cx="398.0" cy="191.3" r="1.4" fill="#009E73"/><circle cx="405.9" cy="192.8" r="1.4" fill="#009E73"/><circle cx="414.6" cy="191.3" r="1.4" fill="#009E73"/><circle cx="417.5" cy="185.6" r="1.4" fill="#009E73"/><circle cx="419.6" cy="184.8" r="1.4" fill="#009E73"/><circle cx="425.4" cy="184.1" r="1.4" fill="#009E73"/><circle cx="426.1" cy="187.7" r="1.4" fill="#009E73"/><circle cx="428.3" cy="187.0" r="1.4" fill="#009E73"/><circle cx="434.1" cy="184.8" r="1.4" fill="#009E73"/><circle cx="436.2" cy="185.6" r="1.4" fill="#009E73"/><circle cx="437.0" cy="192.1" r="1.4" fill="#009E73"/><circle cx="442.8" cy="183.4" r="1.4" fill="#009E73"/><circle cx="444.2" cy="185.6" r="1.4" fill="#009E73"/><circle cx="385.7" cy="187.0" r="1.4" fill="#009E73"/><circle cx="413.1" cy="165.6" r="1.4" fill="#009E73"/><circle cx="408.8" cy="167.8" r="1.4" fill="#009E73"/><circle cx="420.4" cy="170.0" r="1.4" fill="#009E73"/><circle cx="411.7" cy="172.1" r="1.4" fill="#009E73"/><circle cx="405.9" cy="170.7" r="1.4" fill="#009E73"/><circle cx="416.0" cy="172.1" r="1.4" fill="#009E73"/><circle cx="404.5" cy="180.5" r="1.4" fill="#009E73"/><circle cx="406.6" cy="184.1" r="1.4" fill="#009E73"/><circle cx="408.1" cy="186.3" r="1.4" fill="#009E73"/><circle cx="411.7" cy="181.9" r="1.4" fill="#009E73"/><circle cx="413.1" cy="179.8" r="1.4" fill="#009E73"/><circle cx="415.3" cy="182.7" r="1.4" fill="#009E73"/><circle cx="417.5" cy="180.5" r="1.4" fill="#009E73"/><circle cx="420.4" cy="182.7" r="1.4" fill="#009E73"/><circle cx="403.7" cy="182.7" r="1.4" fill="#009E73"/><circle cx="401.6" cy="181.9" r="1.4" fill="#009E73"/><circle cx="410.2" cy="187.7" r="1.4" fill="#009E73"/><path d="M423.2 140.5L425.1 143.9L421.3 143.9Z" fill="#E69F00"/><path d="M403.0 149.9L404.9 153.3L401.1 153.3Z" fill="#E69F00"/><path d="M414.6 151.3L416.5 154.8L412.7 154.8Z" fill="#E69F00"/><path d="M415.3 152.8L417.2 156.2L413.4 156.2Z" fill="#E69F00"/><path d="M427.6 150.6L429.5 154.1L425.7 154.1Z" fill="#E69F00"/><path d="M428.3 149.2L430.2 152.6L426.4 152.6Z" fill="#E69F00"/><path d="M430.5 149.9L432.4 153.3L428.6 153.3Z" fill="#E69F00"/><path d="M406.6 159.3L408.5 162.7L404.7 162.7Z" fill="#E69F00"/><path d="M411.7 160.7L413.6 164.2L409.8 164.2Z" fill="#E69F00"/><path d="M418.9 160.0L420.8 163.5L417.0 163.5Z" fill="#E69F00"/><path d="M426.1 160.0L428.0 163.5L424.2 163.5Z" fill="#E69F00"/><path d="M429.0 162.2L430.9 165.6L427.1 165.6Z" fill="#E69F00"/><path d="M436.2 160.7L438.1 164.2L434.3 164.2Z" fill="#E69F00"/><path d="M442.0 157.8L443.9 161.3L440.1 161.3Z" fill="#E69F00"/><path d="M449.3 159.3L451.2 162.7L447.4 162.7Z" fill="#E69F00"/><path d="M455.0 155.0L456.9 158.4L453.1 158.4Z" fill="#E69F00"/><path d="M455.8 157.8L457.7 161.3L453.9 161.3Z" fill="#E69F00"/><path d="M471.7 150.6L473.6 154.1L469.8 154.1Z" fill="#E69F00"/><path d="M393.6 165.1L395.5 168.5L391.7 168.5Z" fill="#E69F00"/><path d="M398.0 166.5L399.9 170.0L396.1 170.0Z" fill="#E69F00"/><path d="M392.2 168.7L394.1 172.1L390.3 172.1Z" fill="#E69F00"/><path d="M404.5 168.0L406.4 171.4L402.6 171.4Z" fill="#E69F00"/><path d="M413.1 165.8L415.0 169.2L411.2 169.2Z" fill="#E69F00"/><path d="M434.8 163.6L436.7 167.1L432.9 167.1Z" fill="#E69F00"/><path d="M383.5 180.7L385.4 184.1L381.6 184.1Z" fill="#E69F00"/><path d="M385.7 185.7L387.6 189.2L383.8 189.2Z" fill="#E69F00"/><path d="M387.8 185.0L389.7 188.4L385.9 188.4Z" fill="#E69F00"/><path d="M390.0 185.7L391.9 189.2L388.1 189.2Z" fill="#E69F00"/><path d="M393.6 187.2L395.5 190.6L391.7 190.6Z" fill="#E69F00"/><path d="M395.8 182.1L397.7 185.6L393.9 185.6Z" fill="#E69F00"/><path d="M400.8 179.9L402.7 183.4L398.9 183.4Z" fill="#E69F00"/><path d="M402.3 193.0L404.2 196.4L400.4 196.4Z" fill="#E69F00"/><path d="M401.6 194.4L403.5 197.8L399.7 197.8Z" fill="#E69F00"/><path d="M408.1 189.3L410.0 192.8L406.2 192.8Z" fill="#E69F00"/><path d="M408.8 193.7L410.7 197.1L406.9 197.1Z" fill="#E69F00"/><path d="M409.5 196.6L411.4 200.0L407.6 200.0Z" fill="#E69F00"/><path d="M411.7 196.6L413.6 200.0L409.8 200.0Z" fill="#E69F00"/><path d="M410.2 187.2L412.1 190.6L408.3 190.6Z" fill="#E69F00"/><path d="M412.4 188.6L414.3 192.1L410.5 192.1Z" fill="#E69F00"/><path d="M414.6 182.8L416.5 186.3L412.7 186.3Z" fill="#E69F00"/><path d="M416.7 185.7L418.6 189.2L414.8 189.2Z" fill="#E69F00"/><path d="M418.2 189.3L420.1 192.8L416.3 192.8Z" fill="#E69F00"/><path d="M425.4 178.5L427.3 181.9L423.5 181.9Z" fill="#E69F00"/><path d="M426.9 183.6L428.8 187.0L425.0 187.0Z" fill="#E69F00"/><path d="M429.0 185.7L430.9 189.2L427.1 189.2Z" fill="#E69F00"/><path d="M432.6 177.8L434.5 181.2L430.7 181.2Z" fill="#E69F00"/><path d="M437.0 182.1L438.9 185.6L435.1 185.6Z" fill="#E69F00"/><path d="M442.8 193.7L444.7 197.1L440.9 197.1Z" fill="#E69F00"/><path d="M444.2 198.7L446.1 202.2L442.3 202.2Z" fill="#E69F00"/><path d="M426.9 203.8L428.8 207.2L425.0 207.2Z" fill="#E69F00"/><path d="M385.7 196.6L387.6 200.0L383.8 200.0Z" fill="#E69F00"/><path d="M389.3 197.3L391.2 200.7L387.4 200.7Z" fill="#E69F00"/><path d="M384.9 190.1L386.8 193.5L383.0 193.5Z" fill="#E69F00"/><path d="M410.2 162.2L412.1 165.6L408.3 165.6Z" fill="#E69F00"/><path d="M417.5 165.1L419.4 168.5L415.6 168.5Z" fill="#E69F00"/><path d="M420.4 161.5L422.3 164.9L418.5 164.9Z" fill="#E69F00"/><path d="M410.2 183.6L412.1 187.0L408.3 187.0Z" fill="#E69F00"/><path d="M405.9 182.8L407.8 186.3L404.0 186.3Z" fill="#E69F00"/><path d="M413.1 185.7L415.0 189.2L411.2 189.2Z" fill="#E69F00"/><path d="M416.0 187.9L417.9 191.3L414.1 191.3Z" fill="#E69F00"/><path d="M418.9 190.1L420.8 193.5L417.0 193.5Z" fill="#E69F00"/><line x1="368.01" y1="246.55" x2="520.68" y2="12.87" stroke="#595959" stroke-width="0.65" stroke-dasharray="3.3 3.1"/><path d="M381.50 175.90L385.23 175.89L388.96 175.86L392.69 175.82L396.42 175.75L400.15 175.65L403.88 175.50L407.60 175.29L411.33 175.01L415.06 174.67L418.79 174.27L422.52 173.83L426.25 173.37L429.98 172.88L433.71 172.38L437.44 171.87L441.17 171.36L444.90 170.83L448.62 170.31L452.35 169.78L456.08 169.25L459.81 168.71L463.54 168.18L467.27 167.64L471.00 167.10L471.00 177.10L467.27 177.08L463.54 177.06L459.81 177.04L456.08 177.02L452.35 177.01L448.62 176.99L444.90 176.98L441.17 176.98L437.44 176.98L433.71 176.99L429.98 177.00L426.25 177.03L422.52 177.08L418.79 177.16L415.06 177.28L411.33 177.46L407.60 177.69L403.88 178.00L400.15 178.37L396.42 178.78L392.69 179.23L388.96 179.71L385.23 180.20L381.50 180.70Z" fill="#009E73" fill-opacity="0.5"/><line x1="381.50" y1="178.30" x2="471.00" y2="172.10" stroke="#009E73" stroke-width="1.6"/><path d="M381.50 182.40L385.23 181.76L388.96 181.11L392.69 180.44L396.42 179.74L400.15 178.99L403.88 178.14L407.60 177.15L411.33 176.00L415.06 174.73L418.79 173.38L422.52 171.98L426.25 170.54L429.98 169.08L433.71 167.60L437.44 166.11L441.17 164.61L444.90 163.11L448.62 161.60L452.35 160.09L456.08 158.57L459.81 157.06L463.54 155.54L467.27 154.02L471.00 152.50L471.00 166.50L467.27 167.22L463.54 167.94L459.81 168.67L456.08 169.39L452.35 170.12L448.62 170.85L444.90 171.58L441.17 172.32L437.44 173.07L433.71 173.82L429.98 174.58L426.25 175.36L422.52 176.16L418.79 177.00L415.06 177.89L411.33 178.87L407.60 179.96L403.88 181.21L400.15 182.60L396.42 184.09L392.69 185.63L388.96 187.21L385.23 188.80L381.50 190.40Z" fill="#E69F00" fill-opacity="0.5"/><line x1="381.50" y1="186.40" x2="471.00" y2="159.50" stroke="#E69F00" stroke-width="1.6"/></g><rect x="383.05" y="140.70" width="37.2" height="10.5" rx="1.8" fill="#fff" fill-opacity="0.8" stroke="#7CCBB2" stroke-width="0.75"/><text x="385.05" y="147.80" font-size="8.8" fill="#1B9E77" ><tspan font-style="italic">R</tspan> = 0.14</text><rect x="435.05" y="140.70" width="37.2" height="10.5" rx="1.8" fill="#fff" fill-opacity="0.8" stroke="#F0C870" stroke-width="0.75"/><text x="437.05" y="147.80" font-size="8.8" fill="#E69F00" ><tspan font-style="italic">R</tspan> = 0.38</text><rect x="480.50" y="122.40" width="97.90" height="14.40" fill="#fff" stroke="#D6D6D6" stroke-width="0.7"/><text transform="translate(529.45 132.60)" font-size="8.3" fill="#1A1A1A" text-anchor="middle" font-weight="bold">V56</text><clipPath id="cB11"><rect x="480.40" y="136.80" width="98.10" height="76.20"/></clipPath><line x1="482.75" y1="136.80" x2="482.75" y2="213.00" stroke="#EBEBEB" stroke-width="0.55"/><line x1="506.24" y1="136.80" x2="506.24" y2="213.00" stroke="#EBEBEB" stroke-width="0.55"/><line x1="529.73" y1="136.80" x2="529.73" y2="213.00" stroke="#EBEBEB" stroke-width="0.55"/><line x1="553.21" y1="136.80" x2="553.21" y2="213.00" stroke="#EBEBEB" stroke-width="0.55"/><line x1="576.70" y1="136.80" x2="576.70" y2="213.00" stroke="#EBEBEB" stroke-width="0.55"/><line x1="480.40" y1="210.60" x2="578.50" y2="210.60" stroke="#EBEBEB" stroke-width="0.55"/><line x1="480.40" y1="192.62" x2="578.50" y2="192.62" stroke="#EBEBEB" stroke-width="0.55"/><line x1="480.40" y1="174.65" x2="578.50" y2="174.65" stroke="#EBEBEB" stroke-width="0.55"/><line x1="480.40" y1="156.67" x2="578.50" y2="156.67" stroke="#EBEBEB" stroke-width="0.55"/><line x1="480.40" y1="138.70" x2="578.50" y2="138.70" stroke="#EBEBEB" stroke-width="0.55"/><line x1="482.75" y1="213.00" x2="482.75" y2="215.60" stroke="#333" stroke-width="0.55"/><text x="482.75" y="222.10" font-size="7.4" fill="#4D4D4D" text-anchor="middle" font-weight="normal" font-style="normal" >0</text><line x1="506.24" y1="213.00" x2="506.24" y2="215.60" stroke="#333" stroke-width="0.55"/><text x="506.24" y="222.10" font-size="7.4" fill="#4D4D4D" text-anchor="middle" font-weight="normal" font-style="normal" >20</text><line x1="529.73" y1="213.00" x2="529.73" y2="215.60" stroke="#333" stroke-width="0.55"/><text x="529.73" y="222.10" font-size="7.4" fill="#4D4D4D" text-anchor="middle" font-weight="normal" font-style="normal" >40</text><line x1="553.21" y1="213.00" x2="553.21" y2="215.60" stroke="#333" stroke-width="0.55"/><text x="553.21" y="222.10" font-size="7.4" fill="#4D4D4D" text-anchor="middle" font-weight="normal" font-style="normal" >60</text><line x1="576.70" y1="213.00" x2="576.70" y2="215.60" stroke="#333" stroke-width="0.55"/><text x="576.70" y="222.10" font-size="7.4" fill="#4D4D4D" text-anchor="middle" font-weight="normal" font-style="normal" >80</text><g clip-path="url(#cB11)"><circle cx="530.6" cy="141.8" r="1.4" fill="#009E73"/><circle cx="514.7" cy="151.9" r="1.4" fill="#009E73"/><circle cx="527.7" cy="151.2" r="1.4" fill="#009E73"/><circle cx="521.2" cy="154.1" r="1.4" fill="#009E73"/><circle cx="521.9" cy="156.2" r="1.4" fill="#009E73"/><circle cx="509.6" cy="155.5" r="1.4" fill="#009E73"/><circle cx="506.0" cy="158.4" r="1.4" fill="#009E73"/><circle cx="516.1" cy="160.6" r="1.4" fill="#009E73"/><circle cx="517.6" cy="162.0" r="1.4" fill="#009E73"/><circle cx="515.4" cy="162.7" r="1.4" fill="#009E73"/><circle cx="511.1" cy="162.7" r="1.4" fill="#009E73"/><circle cx="508.2" cy="163.5" r="1.4" fill="#009E73"/><circle cx="504.6" cy="164.2" r="1.4" fill="#009E73"/><circle cx="510.3" cy="167.1" r="1.4" fill="#009E73"/><circle cx="513.2" cy="167.8" r="1.4" fill="#009E73"/><circle cx="514.7" cy="170.0" r="1.4" fill="#009E73"/><circle cx="509.6" cy="170.0" r="1.4" fill="#009E73"/><circle cx="517.6" cy="165.6" r="1.4" fill="#009E73"/><circle cx="521.9" cy="166.3" r="1.4" fill="#009E73"/><circle cx="519.7" cy="170.0" r="1.4" fill="#009E73"/><circle cx="523.4" cy="170.7" r="1.4" fill="#009E73"/><circle cx="526.2" cy="170.0" r="1.4" fill="#009E73"/><circle cx="529.1" cy="167.1" r="1.4" fill="#009E73"/><circle cx="531.3" cy="167.8" r="1.4" fill="#009E73"/><circle cx="530.6" cy="160.6" r="1.4" fill="#009E73"/><circle cx="537.8" cy="159.1" r="1.4" fill="#009E73"/><circle cx="553.0" cy="158.4" r="1.4" fill="#009E73"/><circle cx="554.4" cy="162.7" r="1.4" fill="#009E73"/><circle cx="492.3" cy="164.9" r="1.4" fill="#009E73"/><circle cx="496.6" cy="167.1" r="1.4" fill="#009E73"/><circle cx="487.9" cy="169.2" r="1.4" fill="#009E73"/><circle cx="499.5" cy="170.7" r="1.4" fill="#009E73"/><circle cx="495.9" cy="172.1" r="1.4" fill="#009E73"/><circle cx="502.4" cy="172.1" r="1.4" fill="#009E73"/><circle cx="519.0" cy="144.7" r="1.4" fill="#009E73"/><circle cx="496.6" cy="174.7" r="1.4" fill="#009E73"/><circle cx="501.0" cy="175.4" r="1.4" fill="#009E73"/><circle cx="506.0" cy="174.7" r="1.4" fill="#009E73"/><circle cx="485.1" cy="187.0" r="1.4" fill="#009E73"/><circle cx="501.0" cy="187.0" r="1.4" fill="#009E73"/><circle cx="503.8" cy="181.9" r="1.4" fill="#009E73"/><circle cx="505.3" cy="187.7" r="1.4" fill="#009E73"/><circle cx="508.2" cy="185.6" r="1.4" fill="#009E73"/><circle cx="508.9" cy="188.5" r="1.4" fill="#009E73"/><circle cx="511.1" cy="184.1" r="1.4" fill="#009E73"/><circle cx="511.8" cy="186.3" r="1.4" fill="#009E73"/><circle cx="512.5" cy="180.5" r="1.4" fill="#009E73"/><circle cx="514.0" cy="182.7" r="1.4" fill="#009E73"/><circle cx="514.7" cy="187.0" r="1.4" fill="#009E73"/><circle cx="515.4" cy="182.7" r="1.4" fill="#009E73"/><circle cx="517.6" cy="178.3" r="1.4" fill="#009E73"/><circle cx="519.0" cy="180.5" r="1.4" fill="#009E73"/><circle cx="521.2" cy="179.1" r="1.4" fill="#009E73"/><circle cx="524.1" cy="178.3" r="1.4" fill="#009E73"/><circle cx="526.2" cy="176.9" r="1.4" fill="#009E73"/><circle cx="512.5" cy="190.6" r="1.4" fill="#009E73"/><circle cx="509.6" cy="191.3" r="1.4" fill="#009E73"/><circle cx="514.0" cy="191.3" r="1.4" fill="#009E73"/><circle cx="507.5" cy="191.3" r="1.4" fill="#009E73"/><circle cx="506.7" cy="189.2" r="1.4" fill="#009E73"/><circle cx="516.8" cy="189.9" r="1.4" fill="#009E73"/><circle cx="521.9" cy="189.9" r="1.4" fill="#009E73"/><circle cx="527.0" cy="188.5" r="1.4" fill="#009E73"/><circle cx="528.4" cy="189.2" r="1.4" fill="#009E73"/><circle cx="529.9" cy="183.4" r="1.4" fill="#009E73"/><circle cx="532.7" cy="180.5" r="1.4" fill="#009E73"/><circle cx="535.6" cy="184.1" r="1.4" fill="#009E73"/><circle cx="537.8" cy="179.8" r="1.4" fill="#009E73"/><circle cx="545.8" cy="176.2" r="1.4" fill="#009E73"/><circle cx="547.2" cy="184.8" r="1.4" fill="#009E73"/><circle cx="557.3" cy="176.9" r="1.4" fill="#009E73"/><circle cx="573.9" cy="177.6" r="1.4" fill="#009E73"/><circle cx="539.2" cy="195.0" r="1.4" fill="#009E73"/><circle cx="520.5" cy="199.3" r="1.4" fill="#009E73"/><circle cx="511.8" cy="202.9" r="1.4" fill="#009E73"/><circle cx="489.4" cy="195.7" r="1.4" fill="#009E73"/><circle cx="491.6" cy="195.0" r="1.4" fill="#009E73"/><circle cx="514.0" cy="195.0" r="1.4" fill="#009E73"/><circle cx="511.1" cy="169.2" r="1.4" fill="#009E73"/><circle cx="516.1" cy="170.7" r="1.4" fill="#009E73"/><circle cx="521.2" cy="170.7" r="1.4" fill="#009E73"/><circle cx="524.8" cy="169.2" r="1.4" fill="#009E73"/><circle cx="507.5" cy="167.1" r="1.4" fill="#009E73"/><circle cx="518.3" cy="144.7" r="1.4" fill="#009E73"/><circle cx="516.1" cy="184.8" r="1.4" fill="#009E73"/><circle cx="508.9" cy="182.7" r="1.4" fill="#009E73"/><circle cx="520.5" cy="181.9" r="1.4" fill="#009E73"/><circle cx="523.4" cy="179.8" r="1.4" fill="#009E73"/><circle cx="513.2" cy="188.5" r="1.4" fill="#009E73"/><circle cx="504.6" cy="189.9" r="1.4" fill="#009E73"/><path d="M518.3 149.2L520.2 152.6L516.4 152.6Z" fill="#E69F00"/><path d="M508.2 156.4L510.1 159.8L506.3 159.8Z" fill="#E69F00"/><path d="M510.3 157.1L512.2 160.6L508.4 160.6Z" fill="#E69F00"/><path d="M521.9 155.7L523.8 159.1L520.0 159.1Z" fill="#E69F00"/><path d="M521.9 160.0L523.8 163.5L520.0 163.5Z" fill="#E69F00"/><path d="M530.6 160.0L532.5 163.5L528.7 163.5Z" fill="#E69F00"/><path d="M532.7 160.7L534.6 164.2L530.8 164.2Z" fill="#E69F00"/><path d="M537.8 155.7L539.7 159.1L535.9 159.1Z" fill="#E69F00"/><path d="M551.5 151.3L553.4 154.8L549.6 154.8Z" fill="#E69F00"/><path d="M558.0 160.7L559.9 164.2L556.1 164.2Z" fill="#E69F00"/><path d="M574.7 151.3L576.6 154.8L572.8 154.8Z" fill="#E69F00"/><path d="M514.7 162.9L516.6 166.3L512.8 166.3Z" fill="#E69F00"/><path d="M514.0 166.5L515.9 170.0L512.1 170.0Z" fill="#E69F00"/><path d="M511.1 163.6L513.0 167.1L509.2 167.1Z" fill="#E69F00"/><path d="M526.2 163.6L528.1 167.1L524.3 167.1Z" fill="#E69F00"/><path d="M520.5 165.8L522.4 169.2L518.6 169.2Z" fill="#E69F00"/><path d="M495.2 168.7L497.1 172.1L493.3 172.1Z" fill="#E69F00"/><path d="M501.7 169.4L503.6 172.8L499.8 172.8Z" fill="#E69F00"/><path d="M488.7 171.9L490.6 175.3L486.8 175.3Z" fill="#E69F00"/><path d="M545.8 164.3L547.7 167.8L543.9 167.8Z" fill="#E69F00"/><path d="M556.6 169.4L558.5 172.8L554.7 172.8Z" fill="#E69F00"/><path d="M485.1 175.6L487.0 179.1L483.2 179.1Z" fill="#E69F00"/><path d="M488.7 182.8L490.6 186.3L486.8 186.3Z" fill="#E69F00"/><path d="M492.3 186.5L494.2 189.9L490.4 189.9Z" fill="#E69F00"/><path d="M495.9 183.6L497.8 187.0L494.0 187.0Z" fill="#E69F00"/><path d="M501.0 182.8L502.9 186.3L499.1 186.3Z" fill="#E69F00"/><path d="M506.0 180.7L507.9 184.1L504.1 184.1Z" fill="#E69F00"/><path d="M506.7 189.3L508.6 192.8L504.8 192.8Z" fill="#E69F00"/><path d="M511.1 188.6L513.0 192.1L509.2 192.1Z" fill="#E69F00"/><path d="M511.8 194.4L513.7 197.8L509.9 197.8Z" fill="#E69F00"/><path d="M515.4 198.0L517.3 201.5L513.5 201.5Z" fill="#E69F00"/><path d="M516.8 194.4L518.7 197.8L514.9 197.8Z" fill="#E69F00"/><path d="M519.7 184.3L521.6 187.7L517.8 187.7Z" fill="#E69F00"/><path d="M521.9 189.3L523.8 192.8L520.0 192.8Z" fill="#E69F00"/><path d="M524.1 179.9L526.0 183.4L522.2 183.4Z" fill="#E69F00"/><path d="M527.7 178.5L529.6 181.9L525.8 181.9Z" fill="#E69F00"/><path d="M528.4 177.8L530.3 181.2L526.5 181.2Z" fill="#E69F00"/><path d="M535.6 182.8L537.5 186.3L533.7 186.3Z" fill="#E69F00"/><path d="M539.2 185.0L541.1 188.4L537.3 188.4Z" fill="#E69F00"/><path d="M545.8 193.7L547.7 197.1L543.9 197.1Z" fill="#E69F00"/><path d="M547.2 193.7L549.1 197.1L545.3 197.1Z" fill="#E69F00"/><path d="M504.6 199.5L506.5 202.9L502.7 202.9Z" fill="#E69F00"/><path d="M529.9 199.5L531.8 202.9L528.0 202.9Z" fill="#E69F00"/><path d="M487.9 192.2L489.8 195.7L486.0 195.7Z" fill="#E69F00"/><path d="M490.1 190.1L492.0 193.5L488.2 193.5Z" fill="#E69F00"/><path d="M491.6 194.4L493.5 197.8L489.7 197.8Z" fill="#E69F00"/><path d="M513.2 163.6L515.1 167.1L511.3 167.1Z" fill="#E69F00"/><path d="M509.6 165.1L511.5 168.5L507.7 168.5Z" fill="#E69F00"/><path d="M520.5 165.8L522.4 169.2L518.6 169.2Z" fill="#E69F00"/><path d="M510.3 185.7L512.2 189.2L508.4 189.2Z" fill="#E69F00"/><path d="M514.7 186.5L516.6 189.9L512.8 189.9Z" fill="#E69F00"/><path d="M517.6 180.7L519.5 184.1L515.7 184.1Z" fill="#E69F00"/><line x1="471.01" y1="246.55" x2="623.68" y2="12.87" stroke="#595959" stroke-width="0.65" stroke-dasharray="3.3 3.1"/><path d="M485.00 176.50L488.71 176.37L492.42 176.24L496.12 176.08L499.83 175.89L503.54 175.66L507.25 175.36L510.96 174.94L514.67 174.39L518.38 173.74L522.08 172.99L525.79 172.20L529.50 171.37L533.21 170.52L536.92 169.65L540.62 168.77L544.33 167.89L548.04 167.00L551.75 166.10L555.46 165.21L559.17 164.31L562.88 163.41L566.58 162.51L570.29 161.60L574.00 160.70L574.00 174.50L570.29 174.61L566.58 174.73L562.88 174.84L559.17 174.96L555.46 175.08L551.75 175.20L548.04 175.32L544.33 175.45L540.62 175.58L536.92 175.72L533.21 175.87L529.50 176.03L525.79 176.22L522.08 176.44L518.38 176.71L514.67 177.07L510.96 177.54L507.25 178.14L503.54 178.85L499.83 179.64L496.12 180.47L492.42 181.33L488.71 182.21L485.00 183.10Z" fill="#009E73" fill-opacity="0.5"/><line x1="485.00" y1="179.80" x2="574.00" y2="167.60" stroke="#009E73" stroke-width="1.6"/><path d="M485.00 180.30L488.71 179.85L492.42 179.38L496.12 178.89L499.83 178.37L503.54 177.80L507.25 177.16L510.96 176.41L514.67 175.52L518.38 174.52L522.08 173.42L525.79 172.27L529.50 171.07L533.21 169.85L536.92 168.62L540.62 167.38L544.33 166.13L548.04 164.87L551.75 163.61L555.46 162.35L559.17 161.08L562.88 159.81L566.58 158.54L570.29 157.27L574.00 156.00L574.00 171.00L570.29 171.41L566.58 171.82L562.88 172.24L559.17 172.65L555.46 173.07L551.75 173.49L548.04 173.91L544.33 174.34L540.62 174.77L536.92 175.21L533.21 175.66L529.50 176.13L525.79 176.62L522.08 177.15L518.38 177.73L514.67 178.41L510.96 179.21L507.25 180.14L503.54 181.18L499.83 182.30L496.12 183.46L492.42 184.66L488.71 185.87L485.00 187.10Z" fill="#E69F00" fill-opacity="0.5"/><line x1="485.00" y1="183.70" x2="574.00" y2="163.50" stroke="#E69F00" stroke-width="1.6"/></g><rect x="485.75" y="140.70" width="37.2" height="10.5" rx="1.8" fill="#fff" fill-opacity="0.8" stroke="#7CCBB2" stroke-width="0.75"/><text x="487.75" y="147.80" font-size="8.8" fill="#1B9E77" ><tspan font-style="italic">R</tspan> = 0.21</text><rect x="537.75" y="140.70" width="37.2" height="10.5" rx="1.8" fill="#fff" fill-opacity="0.8" stroke="#F0C870" stroke-width="0.75"/><text x="539.75" y="147.80" font-size="8.8" fill="#E69F00" ><tspan font-style="italic">R</tspan> = 0.31</text><rect x="583.50" y="122.40" width="97.90" height="14.40" fill="#fff" stroke="#D6D6D6" stroke-width="0.7"/><text transform="translate(632.45 132.60)" font-size="8.3" fill="#1A1A1A" text-anchor="middle" font-weight="bold">V67</text><clipPath id="cB21"><rect x="583.40" y="136.80" width="98.10" height="76.20"/></clipPath><line x1="585.75" y1="136.80" x2="585.75" y2="213.00" stroke="#EBEBEB" stroke-width="0.55"/><line x1="609.24" y1="136.80" x2="609.24" y2="213.00" stroke="#EBEBEB" stroke-width="0.55"/><line x1="632.73" y1="136.80" x2="632.73" y2="213.00" stroke="#EBEBEB" stroke-width="0.55"/><line x1="656.21" y1="136.80" x2="656.21" y2="213.00" stroke="#EBEBEB" stroke-width="0.55"/><line x1="679.70" y1="136.80" x2="679.70" y2="213.00" stroke="#EBEBEB" stroke-width="0.55"/><line x1="583.40" y1="210.60" x2="681.50" y2="210.60" stroke="#EBEBEB" stroke-width="0.55"/><line x1="583.40" y1="192.62" x2="681.50" y2="192.62" stroke="#EBEBEB" stroke-width="0.55"/><line x1="583.40" y1="174.65" x2="681.50" y2="174.65" stroke="#EBEBEB" stroke-width="0.55"/><line x1="583.40" y1="156.67" x2="681.50" y2="156.67" stroke="#EBEBEB" stroke-width="0.55"/><line x1="583.40" y1="138.70" x2="681.50" y2="138.70" stroke="#EBEBEB" stroke-width="0.55"/><line x1="585.75" y1="213.00" x2="585.75" y2="215.60" stroke="#333" stroke-width="0.55"/><text x="585.75" y="222.10" font-size="7.4" fill="#4D4D4D" text-anchor="middle" font-weight="normal" font-style="normal" >0</text><line x1="609.24" y1="213.00" x2="609.24" y2="215.60" stroke="#333" stroke-width="0.55"/><text x="609.24" y="222.10" font-size="7.4" fill="#4D4D4D" text-anchor="middle" font-weight="normal" font-style="normal" >20</text><line x1="632.73" y1="213.00" x2="632.73" y2="215.60" stroke="#333" stroke-width="0.55"/><text x="632.73" y="222.10" font-size="7.4" fill="#4D4D4D" text-anchor="middle" font-weight="normal" font-style="normal" >40</text><line x1="656.21" y1="213.00" x2="656.21" y2="215.60" stroke="#333" stroke-width="0.55"/><text x="656.21" y="222.10" font-size="7.4" fill="#4D4D4D" text-anchor="middle" font-weight="normal" font-style="normal" >60</text><line x1="679.70" y1="213.00" x2="679.70" y2="215.60" stroke="#333" stroke-width="0.55"/><text x="679.70" y="222.10" font-size="7.4" fill="#4D4D4D" text-anchor="middle" font-weight="normal" font-style="normal" >80</text><g clip-path="url(#cB21)"><circle cx="677.7" cy="147.6" r="1.4" fill="#009E73"/><circle cx="654.5" cy="158.4" r="1.4" fill="#009E73"/><circle cx="657.4" cy="163.5" r="1.4" fill="#009E73"/><circle cx="617.7" cy="159.8" r="1.4" fill="#009E73"/><circle cx="620.6" cy="161.3" r="1.4" fill="#009E73"/><circle cx="627.1" cy="162.0" r="1.4" fill="#009E73"/><circle cx="614.1" cy="162.7" r="1.4" fill="#009E73"/><circle cx="612.6" cy="164.9" r="1.4" fill="#009E73"/><circle cx="609.7" cy="166.3" r="1.4" fill="#009E73"/><circle cx="611.2" cy="167.8" r="1.4" fill="#009E73"/><circle cx="614.1" cy="167.8" r="1.4" fill="#009E73"/><circle cx="617.0" cy="167.1" r="1.4" fill="#009E73"/><circle cx="619.1" cy="164.9" r="1.4" fill="#009E73"/><circle cx="621.3" cy="165.6" r="1.4" fill="#009E73"/><circle cx="624.9" cy="164.9" r="1.4" fill="#009E73"/><circle cx="627.8" cy="165.6" r="1.4" fill="#009E73"/><circle cx="627.1" cy="167.8" r="1.4" fill="#009E73"/><circle cx="622.0" cy="167.8" r="1.4" fill="#009E73"/><circle cx="617.7" cy="170.0" r="1.4" fill="#009E73"/><circle cx="623.5" cy="170.0" r="1.4" fill="#009E73"/><circle cx="632.1" cy="166.3" r="1.4" fill="#009E73"/><circle cx="633.6" cy="164.9" r="1.4" fill="#009E73"/><circle cx="635.0" cy="165.6" r="1.4" fill="#009E73"/><circle cx="640.1" cy="166.3" r="1.4" fill="#009E73"/><circle cx="640.1" cy="167.1" r="1.4" fill="#009E73"/><circle cx="591.7" cy="165.6" r="1.4" fill="#009E73"/><circle cx="598.2" cy="165.6" r="1.4" fill="#009E73"/><circle cx="595.3" cy="168.5" r="1.4" fill="#009E73"/><circle cx="596.0" cy="170.0" r="1.4" fill="#009E73"/><circle cx="590.9" cy="170.7" r="1.4" fill="#009E73"/><circle cx="598.9" cy="170.0" r="1.4" fill="#009E73"/><circle cx="601.1" cy="172.1" r="1.4" fill="#009E73"/><circle cx="604.7" cy="171.4" r="1.4" fill="#009E73"/><circle cx="606.8" cy="172.1" r="1.4" fill="#009E73"/><circle cx="609.7" cy="170.7" r="1.4" fill="#009E73"/><circle cx="612.6" cy="171.4" r="1.4" fill="#009E73"/><circle cx="616.2" cy="172.1" r="1.4" fill="#009E73"/><circle cx="658.1" cy="169.2" r="1.4" fill="#009E73"/><circle cx="629.2" cy="170.0" r="1.4" fill="#009E73"/><circle cx="593.8" cy="176.9" r="1.4" fill="#009E73"/><circle cx="600.3" cy="175.4" r="1.4" fill="#009E73"/><circle cx="605.4" cy="174.7" r="1.4" fill="#009E73"/><circle cx="610.5" cy="179.1" r="1.4" fill="#009E73"/><circle cx="614.1" cy="180.5" r="1.4" fill="#009E73"/><circle cx="615.5" cy="182.7" r="1.4" fill="#009E73"/><circle cx="614.1" cy="184.8" r="1.4" fill="#009E73"/><circle cx="616.2" cy="185.6" r="1.4" fill="#009E73"/><circle cx="617.0" cy="184.1" r="1.4" fill="#009E73"/><circle cx="611.9" cy="186.3" r="1.4" fill="#009E73"/><circle cx="608.3" cy="187.0" r="1.4" fill="#009E73"/><circle cx="606.1" cy="187.7" r="1.4" fill="#009E73"/><circle cx="604.0" cy="188.5" r="1.4" fill="#009E73"/><circle cx="612.6" cy="189.9" r="1.4" fill="#009E73"/><circle cx="614.1" cy="191.3" r="1.4" fill="#009E73"/><circle cx="609.7" cy="192.8" r="1.4" fill="#009E73"/><circle cx="615.5" cy="193.5" r="1.4" fill="#009E73"/><circle cx="611.9" cy="196.4" r="1.4" fill="#009E73"/><circle cx="604.0" cy="193.5" r="1.4" fill="#009E73"/><circle cx="598.2" cy="194.2" r="1.4" fill="#009E73"/><circle cx="592.4" cy="192.8" r="1.4" fill="#009E73"/><circle cx="593.1" cy="190.6" r="1.4" fill="#009E73"/><circle cx="590.9" cy="198.6" r="1.4" fill="#009E73"/><circle cx="619.1" cy="197.8" r="1.4" fill="#009E73"/><circle cx="624.2" cy="187.0" r="1.4" fill="#009E73"/><circle cx="624.9" cy="179.8" r="1.4" fill="#009E73"/><circle cx="627.1" cy="178.3" r="1.4" fill="#009E73"/><circle cx="629.2" cy="180.5" r="1.4" fill="#009E73"/><circle cx="632.1" cy="184.1" r="1.4" fill="#009E73"/><circle cx="633.6" cy="189.9" r="1.4" fill="#009E73"/><circle cx="636.5" cy="179.8" r="1.4" fill="#009E73"/><circle cx="640.8" cy="191.3" r="1.4" fill="#009E73"/><circle cx="641.5" cy="180.5" r="1.4" fill="#009E73"/><circle cx="642.2" cy="199.3" r="1.4" fill="#009E73"/><circle cx="638.6" cy="197.8" r="1.4" fill="#009E73"/><circle cx="648.8" cy="181.9" r="1.4" fill="#009E73"/><circle cx="650.2" cy="187.7" r="1.4" fill="#009E73"/><circle cx="660.3" cy="180.5" r="1.4" fill="#009E73"/><circle cx="618.4" cy="178.3" r="1.4" fill="#009E73"/><circle cx="611.9" cy="182.7" r="1.4" fill="#009E73"/><circle cx="614.1" cy="187.0" r="1.4" fill="#009E73"/><circle cx="617.0" cy="189.2" r="1.4" fill="#009E73"/><circle cx="610.5" cy="188.5" r="1.4" fill="#009E73"/><circle cx="607.6" cy="185.6" r="1.4" fill="#009E73"/><circle cx="620.6" cy="179.8" r="1.4" fill="#009E73"/><circle cx="622.7" cy="179.1" r="1.4" fill="#009E73"/><circle cx="626.4" cy="180.5" r="1.4" fill="#009E73"/><circle cx="615.5" cy="179.8" r="1.4" fill="#009E73"/><circle cx="617.7" cy="182.7" r="1.4" fill="#009E73"/><path d="M617.7 137.6L619.6 141.1L615.8 141.1Z" fill="#E69F00"/><path d="M624.2 138.3L626.1 141.8L622.3 141.8Z" fill="#E69F00"/><path d="M609.0 152.1L610.9 155.5L607.1 155.5Z" fill="#E69F00"/><path d="M611.9 150.6L613.8 154.1L610.0 154.1Z" fill="#E69F00"/><path d="M628.5 150.6L630.4 154.1L626.6 154.1Z" fill="#E69F00"/><path d="M635.7 154.2L637.6 157.7L633.8 157.7Z" fill="#E69F00"/><path d="M620.6 155.7L622.5 159.1L618.7 159.1Z" fill="#E69F00"/><path d="M640.8 157.1L642.7 160.6L638.9 160.6Z" fill="#E69F00"/><path d="M640.1 160.7L642.0 164.2L638.2 164.2Z" fill="#E69F00"/><path d="M648.0 160.0L649.9 163.5L646.1 163.5Z" fill="#E69F00"/><path d="M654.5 152.1L656.4 155.5L652.6 155.5Z" fill="#E69F00"/><path d="M661.8 159.3L663.7 162.7L659.9 162.7Z" fill="#E69F00"/><path d="M598.2 160.7L600.1 164.2L596.3 164.2Z" fill="#E69F00"/><path d="M603.2 160.7L605.1 164.2L601.3 164.2Z" fill="#E69F00"/><path d="M612.6 160.7L614.5 164.2L610.7 164.2Z" fill="#E69F00"/><path d="M622.7 162.9L624.6 166.3L620.8 166.3Z" fill="#E69F00"/><path d="M630.7 161.5L632.6 164.9L628.8 164.9Z" fill="#E69F00"/><path d="M632.9 160.7L634.8 164.2L631.0 164.2Z" fill="#E69F00"/><path d="M617.7 167.2L619.6 170.7L615.8 170.7Z" fill="#E69F00"/><path d="M620.6 169.4L622.5 172.8L618.7 172.8Z" fill="#E69F00"/><path d="M626.4 169.4L628.3 172.8L624.5 172.8Z" fill="#E69F00"/><path d="M633.6 167.2L635.5 170.7L631.7 170.7Z" fill="#E69F00"/><path d="M600.3 170.8L602.2 174.3L598.4 174.3Z" fill="#E69F00"/><path d="M588.1 181.4L590.0 184.8L586.2 184.8Z" fill="#E69F00"/><path d="M590.9 184.3L592.8 187.7L589.0 187.7Z" fill="#E69F00"/><path d="M591.7 186.5L593.6 189.9L589.8 189.9Z" fill="#E69F00"/><path d="M593.8 189.3L595.7 192.8L591.9 192.8Z" fill="#E69F00"/><path d="M598.2 187.9L600.1 191.3L596.3 191.3Z" fill="#E69F00"/><path d="M600.3 186.5L602.2 189.9L598.4 189.9Z" fill="#E69F00"/><path d="M604.0 182.8L605.9 186.3L602.1 186.3Z" fill="#E69F00"/><path d="M604.7 187.2L606.6 190.6L602.8 190.6Z" fill="#E69F00"/><path d="M607.6 180.7L609.5 184.1L605.7 184.1Z" fill="#E69F00"/><path d="M609.7 178.5L611.6 181.9L607.8 181.9Z" fill="#E69F00"/><path d="M611.2 185.7L613.1 189.2L609.3 189.2Z" fill="#E69F00"/><path d="M612.6 191.5L614.5 194.9L610.7 194.9Z" fill="#E69F00"/><path d="M613.3 181.4L615.2 184.8L611.4 184.8Z" fill="#E69F00"/><path d="M607.6 193.0L609.5 196.4L605.7 196.4Z" fill="#E69F00"/><path d="M618.4 184.3L620.3 187.7L616.5 187.7Z" fill="#E69F00"/><path d="M622.7 183.6L624.6 187.0L620.8 187.0Z" fill="#E69F00"/><path d="M624.9 177.8L626.8 181.2L623.0 181.2Z" fill="#E69F00"/><path d="M626.4 179.2L628.3 182.7L624.5 182.7Z" fill="#E69F00"/><path d="M629.2 177.1L631.1 180.5L627.3 180.5Z" fill="#E69F00"/><path d="M632.1 197.3L634.0 200.7L630.2 200.7Z" fill="#E69F00"/><path d="M637.9 189.3L639.8 192.8L636.0 192.8Z" fill="#E69F00"/><path d="M640.8 182.8L642.7 186.3L638.9 186.3Z" fill="#E69F00"/><path d="M642.2 193.7L644.1 197.1L640.3 197.1Z" fill="#E69F00"/><path d="M648.8 185.0L650.7 188.4L646.9 188.4Z" fill="#E69F00"/><path d="M650.2 193.7L652.1 197.1L648.3 197.1Z" fill="#E69F00"/><path d="M660.3 175.6L662.2 179.1L658.4 179.1Z" fill="#E69F00"/><path d="M590.9 200.2L592.8 203.6L589.0 203.6Z" fill="#E69F00"/><path d="M619.1 197.3L621.0 200.7L617.2 200.7Z" fill="#E69F00"/><path d="M606.8 182.8L608.7 186.3L604.9 186.3Z" fill="#E69F00"/><path d="M609.7 184.3L611.6 187.7L607.8 187.7Z" fill="#E69F00"/><path d="M613.3 185.7L615.2 189.2L611.4 189.2Z" fill="#E69F00"/><path d="M615.5 189.3L617.4 192.8L613.6 192.8Z" fill="#E69F00"/><path d="M611.2 190.1L613.1 193.5L609.3 193.5Z" fill="#E69F00"/><line x1="574.01" y1="246.55" x2="726.68" y2="12.87" stroke="#595959" stroke-width="0.65" stroke-dasharray="3.3 3.1"/><path d="M588.00 177.70L591.71 177.55L595.42 177.40L599.12 177.22L602.83 177.01L606.54 176.76L610.25 176.44L613.96 176.01L617.67 175.47L621.38 174.84L625.08 174.15L628.79 173.41L632.50 172.63L636.21 171.83L639.92 171.02L643.62 170.20L647.33 169.37L651.04 168.53L654.75 167.69L658.46 166.85L662.17 166.00L665.88 165.15L669.58 164.30L673.29 163.45L677.00 162.60L677.00 174.60L673.29 174.77L669.58 174.95L665.88 175.12L662.17 175.30L658.46 175.48L654.75 175.66L651.04 175.84L647.33 176.03L643.62 176.23L639.92 176.43L636.21 176.64L632.50 176.87L628.79 177.12L625.08 177.40L621.38 177.73L617.67 178.13L613.96 178.62L610.25 179.21L606.54 179.91L602.83 180.69L599.12 181.51L595.42 182.35L591.71 183.22L588.00 184.10Z" fill="#009E73" fill-opacity="0.5"/><line x1="588.00" y1="180.90" x2="677.00" y2="168.60" stroke="#009E73" stroke-width="1.6"/><path d="M588.00 181.10L591.71 180.60L595.42 180.09L599.12 179.55L602.83 178.99L606.54 178.37L610.25 177.67L613.96 176.81L617.67 175.79L621.38 174.65L625.08 173.43L628.79 172.14L632.50 170.82L636.21 169.47L639.92 168.11L643.62 166.74L647.33 165.36L651.04 163.98L654.75 162.59L658.46 161.19L662.17 159.80L665.88 158.40L669.58 157.00L673.29 155.60L677.00 154.20L677.00 168.80L673.29 169.37L669.58 169.93L665.88 170.50L662.17 171.07L658.46 171.64L654.75 172.21L651.04 172.79L647.33 173.37L643.62 173.96L639.92 174.55L636.21 175.16L632.50 175.78L628.79 176.42L625.08 177.11L621.38 177.85L617.67 178.67L613.96 179.62L610.25 180.73L606.54 181.99L602.83 183.34L599.12 184.75L595.42 186.18L591.71 187.63L588.00 189.10Z" fill="#E69F00" fill-opacity="0.5"/><line x1="588.00" y1="185.10" x2="677.00" y2="161.50" stroke="#E69F00" stroke-width="1.6"/></g><rect x="588.75" y="140.70" width="37.2" height="10.5" rx="1.8" fill="#fff" fill-opacity="0.8" stroke="#7CCBB2" stroke-width="0.75"/><text x="590.75" y="147.80" font-size="8.8" fill="#1B9E77" ><tspan font-style="italic">R</tspan> = 0.22</text><rect x="640.05" y="140.70" width="37.2" height="10.5" rx="1.8" fill="#fff" fill-opacity="0.8" stroke="#F0C870" stroke-width="0.75"/><text x="642.05" y="147.80" font-size="8.8" fill="#E69F00" ><tspan font-style="italic">R</tspan> = 0.34</text><rect x="377.50" y="217.90" width="97.90" height="14.40" fill="#fff" stroke="#D6D6D6" stroke-width="0.7"/><text transform="translate(426.45 228.10)" font-size="8.3" fill="#1A1A1A" text-anchor="middle" font-weight="bold">V79</text><clipPath id="cB02"><rect x="377.40" y="232.30" width="98.10" height="76.20"/></clipPath><line x1="379.75" y1="232.30" x2="379.75" y2="308.50" stroke="#EBEBEB" stroke-width="0.55"/><line x1="403.24" y1="232.30" x2="403.24" y2="308.50" stroke="#EBEBEB" stroke-width="0.55"/><line x1="426.73" y1="232.30" x2="426.73" y2="308.50" stroke="#EBEBEB" stroke-width="0.55"/><line x1="450.21" y1="232.30" x2="450.21" y2="308.50" stroke="#EBEBEB" stroke-width="0.55"/><line x1="473.70" y1="232.30" x2="473.70" y2="308.50" stroke="#EBEBEB" stroke-width="0.55"/><line x1="377.40" y1="306.10" x2="475.50" y2="306.10" stroke="#EBEBEB" stroke-width="0.55"/><line x1="377.40" y1="288.12" x2="475.50" y2="288.12" stroke="#EBEBEB" stroke-width="0.55"/><line x1="377.40" y1="270.15" x2="475.50" y2="270.15" stroke="#EBEBEB" stroke-width="0.55"/><line x1="377.40" y1="252.18" x2="475.50" y2="252.18" stroke="#EBEBEB" stroke-width="0.55"/><line x1="377.40" y1="234.20" x2="475.50" y2="234.20" stroke="#EBEBEB" stroke-width="0.55"/><line x1="374.80" y1="306.10" x2="377.40" y2="306.10" stroke="#333" stroke-width="0.55"/><text x="372.90" y="308.70" font-size="7.5" fill="#4D4D4D" text-anchor="end" font-weight="normal" font-style="normal" >10</text><line x1="374.80" y1="288.12" x2="377.40" y2="288.12" stroke="#333" stroke-width="0.55"/><text x="372.90" y="290.73" font-size="7.5" fill="#4D4D4D" text-anchor="end" font-weight="normal" font-style="normal" >20</text><line x1="374.80" y1="270.15" x2="377.40" y2="270.15" stroke="#333" stroke-width="0.55"/><text x="372.90" y="272.75" font-size="7.5" fill="#4D4D4D" text-anchor="end" font-weight="normal" font-style="normal" >30</text><line x1="374.80" y1="252.18" x2="377.40" y2="252.18" stroke="#333" stroke-width="0.55"/><text x="372.90" y="254.78" font-size="7.5" fill="#4D4D4D" text-anchor="end" font-weight="normal" font-style="normal" >40</text><line x1="374.80" y1="234.20" x2="377.40" y2="234.20" stroke="#333" stroke-width="0.55"/><text x="372.90" y="236.80" font-size="7.5" fill="#4D4D4D" text-anchor="end" font-weight="normal" font-style="normal" >50</text><line x1="379.75" y1="308.50" x2="379.75" y2="311.10" stroke="#333" stroke-width="0.55"/><text x="379.75" y="317.60" font-size="7.4" fill="#4D4D4D" text-anchor="middle" font-weight="normal" font-style="normal" >0</text><line x1="403.24" y1="308.50" x2="403.24" y2="311.10" stroke="#333" stroke-width="0.55"/><text x="403.24" y="317.60" font-size="7.4" fill="#4D4D4D" text-anchor="middle" font-weight="normal" font-style="normal" >20</text><line x1="426.73" y1="308.50" x2="426.73" y2="311.10" stroke="#333" stroke-width="0.55"/><text x="426.73" y="317.60" font-size="7.4" fill="#4D4D4D" text-anchor="middle" font-weight="normal" font-style="normal" >40</text><line x1="450.21" y1="308.50" x2="450.21" y2="311.10" stroke="#333" stroke-width="0.55"/><text x="450.21" y="317.60" font-size="7.4" fill="#4D4D4D" text-anchor="middle" font-weight="normal" font-style="normal" >60</text><line x1="473.70" y1="308.50" x2="473.70" y2="311.10" stroke="#333" stroke-width="0.55"/><text x="473.70" y="317.60" font-size="7.4" fill="#4D4D4D" text-anchor="middle" font-weight="normal" font-style="normal" >80</text><g clip-path="url(#cB02)"><circle cx="429.0" cy="244.7" r="1.4" fill="#009E73"/><circle cx="450.7" cy="248.3" r="1.4" fill="#009E73"/><circle cx="416.0" cy="249.1" r="1.4" fill="#009E73"/><circle cx="418.2" cy="252.7" r="1.4" fill="#009E73"/><circle cx="403.0" cy="252.7" r="1.4" fill="#009E73"/><circle cx="411.7" cy="254.1" r="1.4" fill="#009E73"/><circle cx="415.3" cy="254.8" r="1.4" fill="#009E73"/><circle cx="406.6" cy="258.5" r="1.4" fill="#009E73"/><circle cx="407.3" cy="259.9" r="1.4" fill="#009E73"/><circle cx="408.1" cy="261.3" r="1.4" fill="#009E73"/><circle cx="417.5" cy="256.3" r="1.4" fill="#009E73"/><circle cx="418.9" cy="257.7" r="1.4" fill="#009E73"/><circle cx="411.7" cy="259.2" r="1.4" fill="#009E73"/><circle cx="414.6" cy="260.6" r="1.4" fill="#009E73"/><circle cx="417.5" cy="261.3" r="1.4" fill="#009E73"/><circle cx="420.4" cy="262.1" r="1.4" fill="#009E73"/><circle cx="403.0" cy="262.1" r="1.4" fill="#009E73"/><circle cx="405.9" cy="264.2" r="1.4" fill="#009E73"/><circle cx="411.7" cy="263.5" r="1.4" fill="#009E73"/><circle cx="415.3" cy="265.7" r="1.4" fill="#009E73"/><circle cx="419.6" cy="265.0" r="1.4" fill="#009E73"/><circle cx="424.7" cy="264.2" r="1.4" fill="#009E73"/><circle cx="426.9" cy="255.6" r="1.4" fill="#009E73"/><circle cx="434.1" cy="255.6" r="1.4" fill="#009E73"/><circle cx="434.8" cy="262.1" r="1.4" fill="#009E73"/><circle cx="435.5" cy="260.6" r="1.4" fill="#009E73"/><circle cx="442.8" cy="260.6" r="1.4" fill="#009E73"/><circle cx="451.4" cy="256.3" r="1.4" fill="#009E73"/><circle cx="393.6" cy="257.7" r="1.4" fill="#009E73"/><circle cx="389.3" cy="263.5" r="1.4" fill="#009E73"/><circle cx="385.7" cy="266.4" r="1.4" fill="#009E73"/><circle cx="392.9" cy="266.4" r="1.4" fill="#009E73"/><circle cx="395.8" cy="268.6" r="1.4" fill="#009E73"/><circle cx="398.7" cy="266.4" r="1.4" fill="#009E73"/><circle cx="402.3" cy="266.4" r="1.4" fill="#009E73"/><circle cx="471.7" cy="264.2" r="1.4" fill="#009E73"/><circle cx="453.6" cy="264.2" r="1.4" fill="#009E73"/><circle cx="388.6" cy="270.4" r="1.4" fill="#009E73"/><circle cx="390.7" cy="269.7" r="1.4" fill="#009E73"/><circle cx="394.3" cy="271.2" r="1.4" fill="#009E73"/><circle cx="399.4" cy="269.7" r="1.4" fill="#009E73"/><circle cx="405.9" cy="269.7" r="1.4" fill="#009E73"/><circle cx="410.2" cy="270.4" r="1.4" fill="#009E73"/><circle cx="382.1" cy="282.0" r="1.4" fill="#009E73"/><circle cx="386.4" cy="281.3" r="1.4" fill="#009E73"/><circle cx="388.6" cy="281.3" r="1.4" fill="#009E73"/><circle cx="392.2" cy="285.6" r="1.4" fill="#009E73"/><circle cx="398.0" cy="281.3" r="1.4" fill="#009E73"/><circle cx="398.7" cy="282.0" r="1.4" fill="#009E73"/><circle cx="398.7" cy="277.7" r="1.4" fill="#009E73"/><circle cx="400.1" cy="276.9" r="1.4" fill="#009E73"/><circle cx="405.2" cy="279.1" r="1.4" fill="#009E73"/><circle cx="408.1" cy="276.2" r="1.4" fill="#009E73"/><circle cx="409.5" cy="276.9" r="1.4" fill="#009E73"/><circle cx="411.7" cy="275.5" r="1.4" fill="#009E73"/><circle cx="411.0" cy="279.8" r="1.4" fill="#009E73"/><circle cx="411.0" cy="282.0" r="1.4" fill="#009E73"/><circle cx="409.5" cy="283.5" r="1.4" fill="#009E73"/><circle cx="408.8" cy="285.6" r="1.4" fill="#009E73"/><circle cx="410.2" cy="286.3" r="1.4" fill="#009E73"/><circle cx="412.4" cy="286.3" r="1.4" fill="#009E73"/><circle cx="411.7" cy="290.7" r="1.4" fill="#009E73"/><circle cx="413.8" cy="292.8" r="1.4" fill="#009E73"/><circle cx="417.5" cy="278.4" r="1.4" fill="#009E73"/><circle cx="418.9" cy="283.5" r="1.4" fill="#009E73"/><circle cx="421.1" cy="273.3" r="1.4" fill="#009E73"/><circle cx="422.5" cy="274.8" r="1.4" fill="#009E73"/><circle cx="424.0" cy="281.3" r="1.4" fill="#009E73"/><circle cx="426.1" cy="283.5" r="1.4" fill="#009E73"/><circle cx="426.9" cy="278.4" r="1.4" fill="#009E73"/><circle cx="427.6" cy="274.8" r="1.4" fill="#009E73"/><circle cx="431.2" cy="277.7" r="1.4" fill="#009E73"/><circle cx="432.6" cy="276.2" r="1.4" fill="#009E73"/><circle cx="434.8" cy="271.9" r="1.4" fill="#009E73"/><circle cx="442.8" cy="284.2" r="1.4" fill="#009E73"/><circle cx="444.2" cy="274.1" r="1.4" fill="#009E73"/><circle cx="455.0" cy="271.2" r="1.4" fill="#009E73"/><circle cx="416.7" cy="303.7" r="1.4" fill="#009E73"/><circle cx="405.9" cy="305.1" r="1.4" fill="#009E73"/><circle cx="437.0" cy="290.7" r="1.4" fill="#009E73"/><circle cx="392.9" cy="269.7" r="1.4" fill="#009E73"/><circle cx="396.5" cy="270.4" r="1.4" fill="#009E73"/><circle cx="402.3" cy="270.4" r="1.4" fill="#009E73"/><circle cx="408.1" cy="271.2" r="1.4" fill="#009E73"/><circle cx="413.1" cy="269.7" r="1.4" fill="#009E73"/><circle cx="416.0" cy="271.9" r="1.4" fill="#009E73"/><circle cx="420.4" cy="272.6" r="1.4" fill="#009E73"/><circle cx="423.2" cy="273.3" r="1.4" fill="#009E73"/><path d="M428.3 239.8L430.2 243.3L426.4 243.3Z" fill="#E69F00"/><path d="M415.3 247.8L417.2 251.2L413.4 251.2Z" fill="#E69F00"/><path d="M411.7 249.2L413.6 252.7L409.8 252.7Z" fill="#E69F00"/><path d="M408.1 252.1L410.0 255.6L406.2 255.6Z" fill="#E69F00"/><path d="M411.7 252.8L413.6 256.3L409.8 256.3Z" fill="#E69F00"/><path d="M418.2 252.8L420.1 256.3L416.3 256.3Z" fill="#E69F00"/><path d="M414.6 256.5L416.5 259.9L412.7 259.9Z" fill="#E69F00"/><path d="M405.2 255.0L407.1 258.5L403.3 258.5Z" fill="#E69F00"/><path d="M410.2 255.7L412.1 259.2L408.3 259.2Z" fill="#E69F00"/><path d="M401.6 262.2L403.5 265.7L399.7 265.7Z" fill="#E69F00"/><path d="M404.5 260.1L406.4 263.5L402.6 263.5Z" fill="#E69F00"/><path d="M408.8 260.8L410.7 264.2L406.9 264.2Z" fill="#E69F00"/><path d="M413.1 260.8L415.0 264.2L411.2 264.2Z" fill="#E69F00"/><path d="M418.2 261.5L420.1 265.0L416.3 265.0Z" fill="#E69F00"/><path d="M424.0 260.1L425.9 263.5L422.1 263.5Z" fill="#E69F00"/><path d="M429.0 260.8L430.9 264.2L427.1 264.2Z" fill="#E69F00"/><path d="M434.8 250.7L436.7 254.1L432.9 254.1Z" fill="#E69F00"/><path d="M442.8 250.0L444.7 253.4L440.9 253.4Z" fill="#E69F00"/><path d="M449.3 252.1L451.2 255.6L447.4 255.6Z" fill="#E69F00"/><path d="M470.9 254.3L472.8 257.7L469.0 257.7Z" fill="#E69F00"/><path d="M393.6 259.3L395.5 262.8L391.7 262.8Z" fill="#E69F00"/><path d="M398.0 263.7L399.9 267.1L396.1 267.1Z" fill="#E69F00"/><path d="M406.6 263.7L408.5 267.1L404.7 267.1Z" fill="#E69F00"/><path d="M418.9 265.1L420.8 268.6L417.0 268.6Z" fill="#E69F00"/><path d="M455.0 263.7L456.9 267.1L453.1 267.1Z" fill="#E69F00"/><path d="M449.3 260.1L451.2 263.5L447.4 263.5Z" fill="#E69F00"/><path d="M382.1 282.9L384.0 286.3L380.2 286.3Z" fill="#E69F00"/><path d="M384.9 285.1L386.8 288.5L383.0 288.5Z" fill="#E69F00"/><path d="M383.5 280.7L385.4 284.2L381.6 284.2Z" fill="#E69F00"/><path d="M387.8 280.7L389.7 284.2L385.9 284.2Z" fill="#E69F00"/><path d="M392.2 280.0L394.1 283.4L390.3 283.4Z" fill="#E69F00"/><path d="M397.2 278.6L399.1 282.0L395.3 282.0Z" fill="#E69F00"/><path d="M403.7 280.0L405.6 283.4L401.8 283.4Z" fill="#E69F00"/><path d="M402.3 286.5L404.2 289.9L400.4 289.9Z" fill="#E69F00"/><path d="M405.9 293.7L407.8 297.2L404.0 297.2Z" fill="#E69F00"/><path d="M407.3 286.5L409.2 289.9L405.4 289.9Z" fill="#E69F00"/><path d="M408.8 287.2L410.7 290.7L406.9 290.7Z" fill="#E69F00"/><path d="M409.5 288.0L411.4 291.4L407.6 291.4Z" fill="#E69F00"/><path d="M412.4 284.3L414.3 287.8L410.5 287.8Z" fill="#E69F00"/><path d="M413.8 288.7L415.7 292.1L411.9 292.1Z" fill="#E69F00"/><path d="M416.7 289.4L418.6 292.8L414.8 292.8Z" fill="#E69F00"/><path d="M417.5 282.9L419.4 286.3L415.6 286.3Z" fill="#E69F00"/><path d="M415.3 272.8L417.2 276.2L413.4 276.2Z" fill="#E69F00"/><path d="M424.0 274.2L425.9 277.7L422.1 277.7Z" fill="#E69F00"/><path d="M432.6 272.8L434.5 276.2L430.7 276.2Z" fill="#E69F00"/><path d="M426.1 288.7L428.0 292.1L424.2 292.1Z" fill="#E69F00"/><path d="M442.8 288.7L444.7 292.1L440.9 292.1Z" fill="#E69F00"/><path d="M444.2 281.5L446.1 284.9L442.3 284.9Z" fill="#E69F00"/><path d="M437.0 287.2L438.9 290.7L435.1 290.7Z" fill="#E69F00"/><path d="M385.7 277.8L387.6 281.3L383.8 281.3Z" fill="#E69F00"/><path d="M388.6 279.3L390.5 282.7L386.7 282.7Z" fill="#E69F00"/><path d="M390.0 281.5L391.9 284.9L388.1 284.9Z" fill="#E69F00"/><path d="M395.1 279.3L397.0 282.7L393.2 282.7Z" fill="#E69F00"/><path d="M407.3 283.6L409.2 287.1L405.4 287.1Z" fill="#E69F00"/><line x1="368.01" y1="342.05" x2="520.68" y2="108.38" stroke="#595959" stroke-width="0.65" stroke-dasharray="3.3 3.1"/><path d="M382.00 272.40L385.71 272.29L389.42 272.17L393.12 272.03L396.83 271.86L400.54 271.65L404.25 271.36L407.96 270.97L411.67 270.47L415.38 269.89L419.08 269.24L422.79 268.55L426.50 267.83L430.21 267.08L433.92 266.32L437.62 265.55L441.33 264.77L445.04 263.98L448.75 263.19L452.46 262.40L456.17 261.60L459.88 260.80L463.58 260.00L467.29 259.20L471.00 258.40L471.00 270.00L467.29 270.15L463.58 270.30L459.88 270.45L456.17 270.60L452.46 270.75L448.75 270.91L445.04 271.07L441.33 271.23L437.62 271.40L433.92 271.58L430.21 271.77L426.50 271.97L422.79 272.20L419.08 272.46L415.38 272.76L411.67 273.13L407.96 273.58L404.25 274.14L400.54 274.80L396.83 275.54L393.12 276.32L389.42 277.13L385.71 277.96L382.00 278.80Z" fill="#009E73" fill-opacity="0.5"/><line x1="382.00" y1="275.60" x2="471.00" y2="264.20" stroke="#009E73" stroke-width="1.6"/><path d="M382.00 275.70L385.71 275.21L389.42 274.71L393.12 274.19L396.83 273.64L400.54 273.03L404.25 272.36L407.96 271.57L411.67 270.66L415.38 269.64L419.08 268.54L422.79 267.39L426.50 266.19L430.21 264.97L433.92 263.74L437.62 262.50L441.33 261.24L445.04 259.99L448.75 258.72L452.46 257.46L456.17 256.19L459.88 254.92L463.58 253.65L467.29 252.37L471.00 251.10L471.00 265.10L467.29 265.58L463.58 266.05L459.88 266.53L456.17 267.01L452.46 267.49L448.75 267.98L445.04 268.46L441.33 268.96L437.62 269.45L433.92 269.96L430.21 270.48L426.50 271.01L422.79 271.56L419.08 272.16L415.38 272.81L411.67 273.54L407.96 274.38L404.25 275.34L400.54 276.42L396.83 277.56L393.12 278.76L389.42 279.99L385.71 281.24L382.00 282.50Z" fill="#E69F00" fill-opacity="0.5"/><line x1="382.00" y1="279.10" x2="471.00" y2="258.10" stroke="#E69F00" stroke-width="1.6"/></g><rect x="383.05" y="235.90" width="37.2" height="10.5" rx="1.8" fill="#fff" fill-opacity="0.8" stroke="#7CCBB2" stroke-width="0.75"/><text x="385.05" y="243.00" font-size="8.8" fill="#1B9E77" ><tspan font-style="italic">R</tspan> = 0.20</text><rect x="434.75" y="235.90" width="37.2" height="10.5" rx="1.8" fill="#fff" fill-opacity="0.8" stroke="#F0C870" stroke-width="0.75"/><text x="436.75" y="243.00" font-size="8.8" fill="#E69F00" ><tspan font-style="italic">R</tspan> = 0.32</text><text x="506.50" y="272.70" font-size="11.45" fill="#000" text-anchor="start" font-weight="normal" font-style="normal" >Include soil variables</text><circle cx="511.20" cy="284.1" r="3.05" fill="#009E73"/><path d="M511.40 290.50L515.28 297.30L507.52 297.30Z" fill="#E69F00"/><text x="521.60" y="287.00" font-size="8.35" fill="#1A1A1A" text-anchor="start" font-weight="normal" font-style="normal" >FALSE</text><text x="521.70" y="297.50" font-size="8.35" fill="#1A1A1A" text-anchor="start" font-weight="normal" font-style="normal" >TRUE</text></svg>
</body></html>
